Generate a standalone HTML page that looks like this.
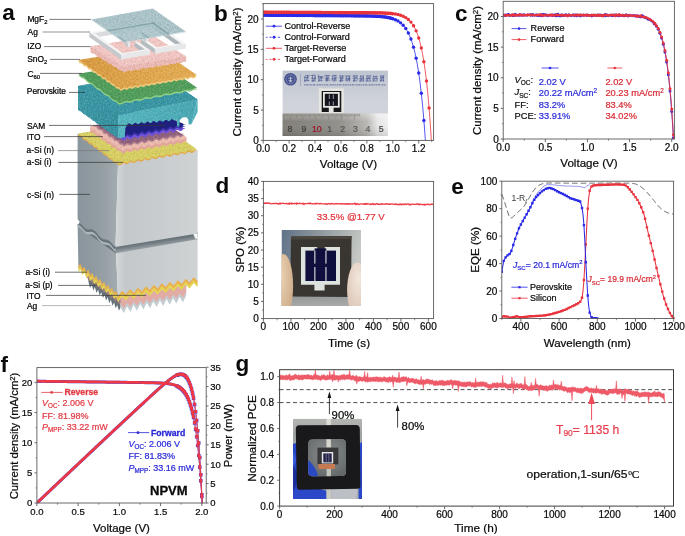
<!DOCTYPE html>
<html><head><meta charset="utf-8"><title>figure</title>
<style>
html,body{margin:0;padding:0;background:#fff;}
svg{display:block;will-change:transform;}
text{font-family:"Liberation Sans",sans-serif;}
.se{font-family:"Liberation Serif",serif;}
</style></head><body>
<svg width="685" height="536" viewBox="0 0 685 536">
<defs>
<filter id="nz" x="0" y="0" width="100%" height="100%" color-interpolation-filters="sRGB"><feTurbulence type="fractalNoise" baseFrequency="0.62" numOctaves="2" seed="3" result="n"/><feColorMatrix in="n" type="matrix" values="0 0 0 0 1  0 0 0 0 1  0 0 0 0 1  0.5 0 0 0 -0.25" result="w"/><feColorMatrix in="n" type="matrix" values="0 0 0 0 0  0 0 0 0 0  0 0 0 0 0  -0.34 0 0 0 0.17" result="b"/><feMerge><feMergeNode in="w"/><feMergeNode in="b"/></feMerge></filter>
<linearGradient id="ga1" gradientUnits="userSpaceOnUse" x1="77" y1="0" x2="118" y2="0"><stop offset="0" stop-color="#89959c"/><stop offset="0.6" stop-color="#949ea3"/><stop offset="1" stop-color="#a3acb0"/></linearGradient>
<linearGradient id="ga2" gradientUnits="userSpaceOnUse" x1="116" y1="0" x2="198" y2="0"><stop offset="0" stop-color="#d3d7d8"/><stop offset="0.12" stop-color="#c3c8ca"/><stop offset="0.55" stop-color="#c9cdcf"/><stop offset="1" stop-color="#cfd3d4"/></linearGradient>
<linearGradient id="ga7" gradientUnits="userSpaceOnUse" x1="116" y1="245.5" x2="117.15" y2="252.8"><stop offset="0" stop-color="#5f6a70"/><stop offset="0.45" stop-color="#727d83"/><stop offset="1" stop-color="#99a2a6"/></linearGradient>
<clipPath id="ct1"><polygon points="78,133.6 78.83,134.92 79.67,135.54 80.5,135.47 81.33,135.41 82.17,136.03 83,137.35 83.83,138.67 84.67,139.29 85.5,139.22 86.33,139.16 87.17,139.78 88,141.1 88.83,142.42 89.67,143.04 90.5,142.97 91.33,142.91 92.17,143.53 93,144.85 93.83,146.17 94.67,146.79 95.5,146.72 96.33,146.66 97.17,147.28 98,148.6 98.83,149.92 99.67,150.54 100.5,150.47 101.33,150.41 102.17,151.03 103,152.35 103.83,153.67 104.67,154.29 105.5,154.22 106.33,154.16 107.17,154.78 108,156.1 108.83,157.42 109.67,158.04 110.5,157.97 111.33,157.91 112.17,158.53 113,159.85 113.83,161.17 114.67,161.79 115.5,161.72 116.33,161.66 117.17,162.28 118,163.6 119.21,164.17 120.41,163.96 121.62,162.97 122.82,161.98 124.03,161.78 125.24,162.35 126.44,162.92 127.65,162.71 128.85,161.72 130.06,160.73 131.27,160.52 132.47,161.09 133.68,161.66 134.88,161.45 136.09,160.46 137.3,159.48 138.5,159.27 139.71,159.84 140.92,160.41 142.12,160.2 143.33,159.21 144.53,158.22 145.74,158.01 146.95,158.58 148.15,159.15 149.36,158.94 150.56,157.95 151.77,156.97 152.98,156.76 154.18,157.33 155.39,157.9 156.59,157.69 157.8,156.7 159.01,155.71 160.21,155.5 161.42,156.07 162.62,156.64 163.83,156.43 165.04,155.45 166.24,154.46 167.45,154.25 168.65,154.82 169.86,155.39 171.07,155.18 172.27,154.19 173.48,153.2 174.68,152.99 175.89,153.56 177.1,154.13 178.3,153.92 179.51,152.94 180.72,151.95 181.92,151.74 183.13,152.31 184.33,152.88 185.54,152.67 186.75,151.68 187.95,150.69 189.16,150.48 190.36,151.05 191.57,151.62 192.78,151.42 193.98,150.43 195.19,149.44 196.39,149.23 197.6,149.8 156,120.5"/></clipPath>
<linearGradient id="ga3" gradientUnits="userSpaceOnUse" x1="90" y1="0" x2="122" y2="0"><stop offset="0" stop-color="#c99aa0"/><stop offset="1" stop-color="#e5aea4"/></linearGradient>
<clipPath id="ct2"><polygon points="90.2,126.4 90.2,128.4 91.07,129.69 91.94,130.29 92.82,130.2 93.69,130.11 94.56,130.71 95.43,132 96.31,133.29 97.18,133.89 98.05,133.8 98.92,133.71 99.79,134.31 100.67,135.6 101.54,136.89 102.41,137.49 103.28,137.4 104.16,137.31 105.03,137.91 105.9,139.2 106.77,140.49 107.64,141.09 108.52,141 109.39,140.91 110.26,141.51 111.13,142.8 112.01,144.09 112.88,144.69 113.75,144.6 114.62,144.51 115.49,145.11 116.37,146.4 117.24,147.69 118.11,148.29 118.98,148.2 119.86,148.11 120.73,148.71 121.6,150 122.8,150.58 124,150.38 125.2,149.4 126.4,148.42 127.6,148.22 128.8,148.8 130,149.38 131.2,149.18 132.4,148.2 133.6,147.22 134.8,147.02 136,147.6 137.2,148.18 138.4,147.98 139.6,147 140.8,146.02 142,145.82 143.2,146.4 144.4,146.98 145.6,146.78 146.8,145.8 148,144.82 149.2,144.62 150.4,145.2 151.6,145.78 152.8,145.58 154,144.6 155.2,143.62 156.4,143.42 157.6,144 158.8,144.58 160,144.38 161.2,143.4 162.4,142.42 163.6,142.22 164.8,142.8 166,143.38 167.2,143.18 168.4,142.2 169.6,141.22 170.8,141.02 172,141.6 173.2,142.18 174.4,141.98 175.6,141 176.8,140.02 178,139.82 179.2,140.4 180.4,140.98 181.6,140.78 182.8,139.8 184,138.82 185.2,138.62 186.4,139.2 186.4,137.2 153,116"/></clipPath>
<clipPath id="ct3"><polygon points="94.2,125.2 95.54,125.49 96.42,125.4 97.29,125.31 98.16,125.91 99.03,127.2 99.91,128.49 100.78,129.09 101.65,129 102.52,128.91 103.39,129.51 104.27,130.8 105.14,132.09 106.01,132.69 106.88,132.6 107.76,132.51 108.63,133.11 109.5,134.4 110.37,135.69 111.24,136.29 112.12,136.2 112.99,136.11 113.86,136.71 114.73,138 115.61,139.29 116.48,139.89 117.35,139.8 118.22,139.71 119.09,140.31 119.97,141.6 120.84,142.89 121.71,143.49 122.58,143.4 123.46,143.31 124.33,143.91 125.2,145.2 122.8,145.18 124,144.98 125.2,144 126.4,143.02 127.6,142.82 128.8,143.4 130,143.98 131.2,143.78 132.4,142.8 133.6,141.82 134.8,141.62 136,142.2 137.2,142.78 138.4,142.58 139.6,141.6 140.8,140.62 142,140.42 143.2,141 144.4,141.58 145.6,141.38 146.8,140.4 148,139.42 149.2,139.22 150.4,139.8 151.6,140.38 152.8,140.18 154,139.2 155.2,138.22 156.4,138.02 157.6,138.6 158.8,139.18 160,138.98 161.2,138 162.4,137.02 163.6,136.82 164.8,137.4 166,137.98 167.2,137.78 168.4,136.8 169.6,135.82 170.8,135.62 172,136.2 173.2,136.78 174.4,136.58 175.6,135.6 176.8,134.62 178,134.42 179.2,135 180.4,135.58 181.6,135.38 182.8,134.4 184,133.42 181.4,134 153,116"/></clipPath>
<clipPath id="csam"><rect x="118.5" y="100" width="81.5" height="60"/></clipPath>
<linearGradient id="ga4" gradientUnits="userSpaceOnUse" x1="78" y1="0" x2="118" y2="0"><stop offset="0" stop-color="#3b98a6"/><stop offset="1" stop-color="#3691a0"/></linearGradient>
<linearGradient id="ga5" gradientUnits="userSpaceOnUse" x1="118" y1="0" x2="198" y2="0"><stop offset="0" stop-color="#55b7c2"/><stop offset="1" stop-color="#48a8b4"/></linearGradient>
<clipPath id="ct4"><polygon points="78,86 118,115 117.6,138 116.87,136.95 116.13,136.42 115.4,136.41 114.67,136.4 113.93,135.87 113.2,134.82 112.47,133.77 111.73,133.24 111,133.23 110.27,133.22 109.53,132.69 108.8,131.64 108.07,130.6 107.33,130.07 106.6,130.06 105.87,130.05 105.13,129.52 104.4,128.47 103.67,127.42 102.93,126.89 102.2,126.88 101.47,126.87 100.73,126.34 100,125.29 99.27,124.24 98.53,123.71 97.8,123.7 97.07,123.69 96.33,123.16 95.6,122.11 94.87,121.06 94.13,120.53 93.4,120.52 92.67,120.51 91.93,119.98 91.2,118.93 90.47,117.88 89.73,117.35 89,117.34 88.27,117.33 87.53,116.8 86.8,115.76 86.07,114.71 85.33,114.18 84.6,114.17 83.87,114.16 83.13,113.63 82.4,112.58 81.67,111.53 80.93,111 80.2,110.99 79.47,110.98 78.73,110.45 78,109.4"/></clipPath>
<clipPath id="ct5"><polygon points="118,115 197.6,99.4 191.4,124.2 188.6,124.6 188.4,119.4 186,117 182,117.8 179.6,120.6 179.4,126.2 177.2,126.4 176.6,119.6 175.58,120.48 174.55,120.58 173.53,119.9 172.51,119.22 171.49,119.32 170.46,120.2 169.44,121.08 168.42,121.18 167.39,120.5 166.37,119.82 165.35,119.92 164.32,120.8 163.3,121.68 162.28,121.78 161.26,121.1 160.23,120.42 159.21,120.52 158.19,121.4 157.16,122.28 156.14,122.38 155.12,121.7 154.1,121.02 153.07,121.12 152.05,122 151.03,122.88 150,122.98 148.98,122.3 147.96,121.62 146.94,121.72 145.91,122.6 144.89,123.48 143.87,123.58 142.84,122.9 141.82,122.22 140.8,122.32 139.78,123.2 138.75,124.08 137.73,124.18 136.71,123.5 135.68,122.82 134.66,122.92 133.64,123.8 132.61,124.68 131.59,124.78 130.57,124.1 129.55,123.42 128.52,123.52 127.5,124.4 125.4,128 124.8,137.4 118,138.2"/></clipPath>
<clipPath id="ct6"><polygon points="78,86 118,115 197.6,99.4 157,72"/></clipPath>
<clipPath id="ct7"><polygon points="78.4,73.8 79.73,75.2 81.07,76.17 82.4,76.7 83.73,77.23 85.07,78.2 86.4,79.6 87.73,81 89.07,81.97 90.4,82.5 91.73,83.03 93.07,84 94.4,85.4 95.73,86.8 97.07,87.77 98.4,88.3 99.73,88.83 101.07,89.8 102.4,91.2 103.73,92.6 105.07,93.57 106.4,94.1 107.73,94.63 109.07,95.6 110.4,97 111.73,98.4 113.07,99.37 114.4,99.9 115.73,100.43 117.07,101.4 118.4,102.8 120.05,103.01 121.7,102.7 123.35,101.88 125,101.05 126.65,100.74 128.3,100.95 129.95,101.16 131.6,100.85 133.25,100.02 134.9,99.2 136.55,98.89 138.2,99.1 139.85,99.31 141.5,99 143.15,98.17 144.8,97.35 146.45,97.04 148.1,97.25 149.75,97.46 151.4,97.15 153.05,96.33 154.7,95.5 156.35,95.19 158,95.4 159.65,95.61 161.3,95.3 162.95,94.47 164.6,93.65 166.25,93.34 167.9,93.55 169.55,93.76 171.2,93.45 172.85,92.62 174.5,91.8 176.15,91.49 177.8,91.7 179.45,91.91 181.1,91.6 182.75,90.78 184.4,89.95 186.05,89.64 187.7,89.85 189.35,90.06 191,89.75 192.65,88.92 194.3,88.1 195.95,87.79 197.6,88 157,60.6"/></clipPath>
<linearGradient id="ga6" gradientUnits="userSpaceOnUse" x1="78" y1="60" x2="160" y2="90"><stop offset="0" stop-color="#d99a40"/><stop offset="1" stop-color="#e3aa50"/></linearGradient>
<clipPath id="ct8"><polygon points="78.4,60 79.17,61.05 79.94,61.58 80.71,61.59 81.48,61.6 82.25,62.13 83.02,63.18 83.79,64.23 84.56,64.76 85.33,64.77 86.1,64.78 86.87,65.31 87.64,66.36 88.41,67.4 89.19,67.93 89.96,67.94 90.73,67.95 91.5,68.48 92.27,69.53 93.04,70.58 93.81,71.11 94.58,71.12 95.35,71.13 96.12,71.66 96.89,72.71 97.66,73.76 98.43,74.29 99.2,74.3 99.97,74.31 100.74,74.84 101.51,75.89 102.28,76.94 103.05,77.47 103.82,77.48 104.59,77.49 105.36,78.02 106.13,79.07 106.9,80.12 107.67,80.65 108.44,80.66 109.21,80.67 109.99,81.2 110.76,82.24 111.53,83.29 112.3,83.82 113.07,83.83 113.84,83.84 114.61,84.37 115.38,85.42 116.15,86.47 116.92,87 117.69,87.01 118.46,87.02 119.23,87.55 120,88.6 120.92,88.96 121.85,88.81 122.77,88.13 123.7,87.45 124.62,87.29 125.54,87.66 126.47,88.02 127.39,87.86 128.31,87.19 129.24,86.51 130.16,86.35 131.09,86.71 132.01,87.08 132.93,86.92 133.86,86.24 134.78,85.57 135.7,85.41 136.63,85.77 137.55,86.13 138.48,85.98 139.4,85.3 140.32,84.62 141.25,84.47 142.17,84.83 143.1,85.19 144.02,85.03 144.94,84.36 145.87,83.68 146.79,83.52 147.71,83.89 148.64,84.25 149.56,84.09 150.49,83.41 151.41,82.74 152.33,82.58 153.26,82.94 154.18,83.31 155.1,83.15 156.03,82.47 156.95,81.79 157.88,81.64 158.8,82 159.72,82.36 160.65,82.21 161.57,81.53 162.5,80.85 163.42,80.69 164.34,81.06 165.27,81.42 166.19,81.26 167.11,80.59 168.04,79.91 168.96,79.75 169.89,80.11 170.81,80.48 171.73,80.32 172.66,79.64 173.58,78.97 174.5,78.81 175.43,79.17 176.35,79.53 177.28,79.38 178.2,78.7 179.12,78.02 180.05,77.87 180.97,78.23 181.9,78.59 182.82,78.43 183.74,77.76 184.67,77.08 185.59,76.92 186.51,77.29 187.44,77.65 188.36,77.49 189.29,76.81 190.21,76.14 191.13,75.98 192.06,76.34 192.98,76.71 193.9,76.55 194.83,75.87 195.75,75.19 196.68,75.04 197.6,75.4 156.4,47"/></clipPath>
<clipPath id="ct9"><polygon points="90.4,46.6 90.4,52 91.31,52.99 92.21,53.54 93.12,53.67 94.02,53.79 94.93,54.34 95.83,55.33 96.74,56.32 97.64,56.88 98.55,57 99.46,57.12 100.36,57.68 101.27,58.67 102.17,59.66 103.08,60.21 103.98,60.33 104.89,60.46 105.79,61.01 106.7,62 107.61,62.99 108.51,63.54 109.42,63.67 110.32,63.79 111.23,64.34 112.13,65.33 113.04,66.32 113.94,66.88 114.85,67 115.76,67.12 116.66,67.68 117.57,68.67 118.47,69.66 119.38,70.21 120.28,70.33 121.19,70.46 122.09,71.01 123,72 124.17,72.24 125.34,72.06 126.51,71.43 127.68,70.81 128.85,70.62 130.02,70.87 131.19,71.11 132.36,70.92 133.53,70.3 134.7,69.68 135.87,69.49 137.04,69.73 138.21,69.98 139.39,69.79 140.56,69.17 141.73,68.54 142.9,68.36 144.07,68.6 145.24,68.84 146.41,68.66 147.58,68.03 148.75,67.41 149.92,67.22 151.09,67.47 152.26,67.71 153.43,67.52 154.6,66.9 155.77,66.28 156.94,66.09 158.11,66.33 159.28,66.58 160.45,66.39 161.62,65.77 162.79,65.14 163.96,64.96 165.13,65.2 166.3,65.44 167.47,65.26 168.64,64.63 169.81,64.01 170.99,63.82 172.16,64.07 173.33,64.31 174.5,64.12 175.67,63.5 176.84,62.88 178.01,62.69 179.18,62.93 180.35,63.18 181.52,62.99 182.69,62.37 183.86,61.74 185.03,61.56 186.2,61.8 186.2,56.4 153.4,36"/></clipPath>
<clipPath id="ct10"><polygon points="90.4,46.6 91.31,47.59 92.21,48.14 93.12,48.27 94.02,48.39 94.93,48.94 95.83,49.93 96.74,50.92 97.64,51.48 98.55,51.6 99.46,51.72 100.36,52.28 101.27,53.27 102.17,54.26 103.08,54.81 103.98,54.93 104.89,55.06 105.79,55.61 106.7,56.6 107.61,57.59 108.51,58.14 109.42,58.27 110.32,58.39 111.23,58.94 112.13,59.93 113.04,60.92 113.94,61.48 114.85,61.6 115.76,61.72 116.66,62.28 117.57,63.27 118.47,64.26 119.38,64.81 120.28,64.93 121.19,65.06 122.09,65.61 123,66.6 124.17,66.84 125.34,66.66 126.51,66.03 127.68,65.41 128.85,65.22 130.02,65.47 131.19,65.71 132.36,65.52 133.53,64.9 134.7,64.28 135.87,64.09 137.04,64.33 138.21,64.58 139.39,64.39 140.56,63.77 141.73,63.14 142.9,62.96 144.07,63.2 145.24,63.44 146.41,63.26 147.58,62.63 148.75,62.01 149.92,61.82 151.09,62.07 152.26,62.31 153.43,62.12 154.6,61.5 155.77,60.88 156.94,60.69 158.11,60.93 159.28,61.18 160.45,60.99 161.62,60.37 162.79,59.74 163.96,59.56 165.13,59.8 166.3,60.04 167.47,59.86 168.64,59.23 169.81,58.61 170.99,58.42 172.16,58.67 173.33,58.91 174.5,58.72 175.67,58.1 176.84,57.48 178.01,57.29 179.18,57.53 180.35,57.78 181.52,57.59 182.69,56.97 183.86,56.34 185.03,56.16 186.2,56.4 153.4,36"/></clipPath>
<clipPath id="ct11"><polygon points="91.4,19.4 124,42 185.8,31.4 152.8,8.4"/></clipPath>
<clipPath id="cmg"><polygon points="91.4,19.4 124,42 185.8,31.4 152.8,8.4"/></clipPath>
<clipPath id="cb"><rect x="263.2" y="3.6" width="171.9" height="137.1"/></clipPath>
<linearGradient id="gb1" x1="0" y1="0" x2="0" y2="1"><stop offset="0" stop-color="#bfc5d0"/><stop offset="0.5" stop-color="#d0d3da"/><stop offset="1" stop-color="#d0d2d6"/></linearGradient>
<linearGradient id="gb2" x1="0" y1="0" x2="1" y2="0"><stop offset="0" stop-color="#827f79"/><stop offset="0.55" stop-color="#93918c"/><stop offset="0.8" stop-color="#b9b8b5"/><stop offset="0.9" stop-color="#e6e6e6"/><stop offset="1" stop-color="#f0f0f0"/></linearGradient>
<linearGradient id="gb3" x1="0" y1="0" x2="0" y2="1"><stop offset="0" stop-color="#fff" stop-opacity="0.35"/><stop offset="0.35" stop-color="#fff" stop-opacity="0"/><stop offset="1" stop-color="#000" stop-opacity="0.12"/></linearGradient>
<clipPath id="cc"><rect x="503.2" y="1.3" width="172.7" height="138"/></clipPath>
<clipPath id="cd"><rect x="281.5" y="230" width="79.5" height="76"/></clipPath>
<linearGradient id="gd1" x1="0" y1="0" x2="1" y2="0.25"><stop offset="0" stop-color="#5f7288"/><stop offset="0.45" stop-color="#8d979c"/><stop offset="1" stop-color="#c6c9c4"/></linearGradient>
<linearGradient id="gd2" x1="0" y1="0" x2="0" y2="1"><stop offset="0" stop-color="#8e9294" stop-opacity="0"/><stop offset="0.75" stop-color="#96999a" stop-opacity="0.9"/><stop offset="1" stop-color="#a9aaa8"/></linearGradient>
<radialGradient id="gd3" cx="0.35" cy="0.35" r="0.8"><stop offset="0" stop-color="#ecd2b4"/><stop offset="1" stop-color="#c9a884"/></radialGradient>
<radialGradient id="gd4" cx="0.55" cy="0.3" r="0.8"><stop offset="0" stop-color="#f2e6dc"/><stop offset="1" stop-color="#d9c0ae"/></radialGradient>
<clipPath id="ce"><rect x="501.8" y="181.2" width="173" height="137.6"/></clipPath>
<clipPath id="cf"><rect x="36.9" y="367.6" width="169.3" height="135.7"/></clipPath>
<clipPath id="cg"><rect x="279.6" y="369.7" width="393.9" height="136.4"/></clipPath>
<clipPath id="cpg"><rect x="293" y="418.7" width="69" height="80.2"/></clipPath>
<linearGradient id="gg1" x1="0" y1="0" x2="0" y2="1"><stop offset="0" stop-color="#b4b6b2"/><stop offset="0.2" stop-color="#9fa3a3"/><stop offset="1" stop-color="#a9aeb4"/></linearGradient>
<radialGradient id="gg2" cx="0.5" cy="0.4" r="0.75"><stop offset="0" stop-color="#8c908f"/><stop offset="1" stop-color="#5e6364"/></radialGradient>
</defs>
<rect width="685" height="536" fill="#fff"/>
<g id="pa">
<text x="2.3" y="19.7" font-size="22.5" fill="#0a0a0a" font-weight="bold">a</text>
<polygon points="88.5,272 120.5,296 120.5,307.5 118.9,310.83 117.3,304.95 115.7,308.28 114.1,302.4 112.5,305.73 110.9,299.85 109.3,303.18 107.7,297.3 106.1,300.62 104.5,294.75 102.9,298.08 101.3,292.2 99.7,295.53 98.1,289.65 96.5,292.98 94.9,287.1 93.3,290.43 91.7,284.55 90.1,287.88 88.5,282" fill="#66727a"/>
<polygon points="120.5,296 186.2,284 186.2,295.5 182.91,302.3 179.63,296.7 176.34,303.5 173.06,297.9 169.77,304.7 166.49,299.1 163.2,305.9 159.92,300.3 156.63,307.1 153.35,301.5 150.06,308.3 146.78,302.7 143.5,309.5 140.21,303.9 136.93,310.7 133.64,305.1 130.35,311.9 127.07,306.3 123.78,313.1 120.5,307.5" fill="#c3ccd1"/>
<polygon points="120.5,296 186.2,284 186.2,292 182.91,297.4 179.63,293.2 176.34,298.6 173.06,294.4 169.77,299.8 166.49,295.6 163.2,301 159.92,296.8 156.63,302.2 153.35,298 150.06,303.4 146.78,299.2 143.5,304.6 140.21,300.4 136.93,305.8 133.64,301.6 130.35,307 127.07,302.8 123.78,308.2 120.5,304" fill="#e2aca4"/>
<polygon points="87,272 120.5,296 120.5,303 118.64,304.56 116.78,300.11 114.92,301.67 113.06,297.22 111.19,298.78 109.33,294.33 107.47,295.89 105.61,291.44 103.75,293 101.89,288.56 100.03,290.11 98.17,285.67 96.31,287.22 94.44,282.78 92.58,284.33 90.72,279.89 88.86,281.44 87,277" fill="#a07f7c"/>
<polygon points="77.6,224 116,252 118,297.5 78.4,267.5" fill="url(#ga1)"/>
<polygon points="116,252 197.6,238.5 197.6,282.5 118,297.5" fill="url(#ga2)"/>
<polygon points="78.4,266 80.38,263.7 82.36,269 84.34,266.7 86.32,272 88.3,269.7 90.28,275 92.26,272.7 94.24,278 96.22,275.7 98.2,281 100.18,278.7 102.16,284 104.14,281.7 106.12,287 108.1,284.7 110.08,290 112.06,287.7 114.04,293 116.02,290.7 118,296 121.98,290.85 125.96,294.5 129.94,289.35 133.92,293 137.9,287.85 141.88,291.5 145.86,286.35 149.84,290 153.82,284.85 157.8,288.5 161.78,283.35 165.76,287 169.74,281.85 173.72,285.5 177.7,280.35 181.68,284 185.66,278.85 189.64,282.5 193.62,277.35 197.6,281 197.6,284.2 193.62,280.55 189.64,285.7 185.66,282.05 181.68,287.2 177.7,283.55 173.72,288.7 169.74,285.05 165.76,290.2 161.78,286.55 157.8,291.7 153.82,288.05 149.84,293.2 145.86,289.55 141.88,294.7 137.9,291.05 133.92,296.2 129.94,292.55 125.96,297.7 121.98,294.05 118,299.2 116.02,293.9 114.04,296.2 112.06,290.9 110.08,293.2 108.1,287.9 106.12,290.2 104.14,284.9 102.16,287.2 100.18,281.9 98.2,284.2 96.22,278.9 94.24,281.2 92.26,275.9 90.28,278.2 88.3,272.9 86.32,275.2 84.34,269.9 82.36,272.2 80.38,266.9 78.4,269.2" fill="#e9b04c"/>
<polygon points="78.4,269 80.38,266.7 82.36,272 84.34,269.7 86.32,275 88.3,272.7 90.28,278 92.26,275.7 94.24,281 96.22,278.7 98.2,284 100.18,281.7 102.16,287 104.14,284.7 106.12,290 108.1,287.7 110.08,293 112.06,290.7 114.04,296 116.02,293.7 118,299 121.98,293.85 125.96,297.5 129.94,292.35 133.92,296 137.9,290.85 141.88,294.5 145.86,289.35 149.84,293 153.82,287.85 157.8,291.5 161.78,286.35 165.76,290 169.74,284.85 173.72,288.5 177.7,283.35 181.68,287 185.66,281.85 189.64,285.5 193.62,280.35 197.6,284 197.6,287 193.62,283.35 189.64,288.5 185.66,284.85 181.68,290 177.7,286.35 173.72,291.5 169.74,287.85 165.76,293 161.78,289.35 157.8,294.5 153.82,290.85 149.84,296 145.86,292.35 141.88,297.5 137.9,293.85 133.92,299 129.94,295.35 125.96,300.5 121.98,296.85 118,302 116.02,296.7 114.04,299 112.06,293.7 110.08,296 108.1,290.7 106.12,293 104.14,287.7 102.16,290 100.18,284.7 98.2,287 96.22,281.7 94.24,284 92.26,278.7 90.28,281 88.3,275.7 86.32,278 84.34,272.7 82.36,275 80.38,269.7 78.4,272" fill="#e4d552"/>
<polygon points="77.6,219 115.5,245 116,253.5 77.6,226" fill="#6a757b"/>
<polygon points="115.5,245 197.6,232 197.6,239.2 116,253.2" fill="url(#ga7)"/>
<polygon points="193.2,234 197.6,233.2 197.6,239 195.2,238.6" fill="#f4f5f5"/>
<polygon points="77.6,222.5 80,224.2 82.5,226.6 84.5,229 86.5,230.3 89,230.4 91.5,230.2 94,231.2 96.5,233.6 98.5,236.4 100.5,238.6 103,240.2 106,240.8 109,241.6 111.5,244 113.5,246.6 115.5,248 115.8,252 113.8,250.6 111.8,248 109.3,245.6 106.3,244.8 103.3,244.2 100.8,242.6 98.8,240.4 96.8,237.6 94.3,235.2 91.8,234.2 89.3,234.4 86.8,234.3 84.8,233 82.8,230.6 80.3,228.2 77.9,226.5" fill="#adb5b9"/>
<polygon points="77.6,221.5 80,223.2 82.5,225.6 84.5,228 86.5,229.3 89,229.4 91.5,229.2 94,230.2 96.5,232.6 98.5,235.4 100.5,237.6 103,239.2 106,239.8 109,240.6 111.5,243 113.5,245.6 115.5,247 115.5,249.6 113.5,248.2 111.5,245.6 109,243.2 106,242.4 103,241.8 100.5,240.2 98.5,238 96.5,235.2 94,232.8 91.5,231.8 89,232 86.5,231.9 84.5,230.6 82.5,228.2 80,225.8 77.6,224.1" fill="#67727a"/>
<polygon points="77.6,133.8 118,164.2 115.5,247 113.5,245.6 111.5,243 109,240.6 106,239.8 103,239.2 100.5,237.6 98.5,235.4 96.5,232.6 94,230.2 91.5,229.2 89,229.4 86.5,229.3 84.5,228 82.5,225.6 80,223.2 77.6,221.5" fill="url(#ga1)"/>
<polygon points="118,164.2 197.6,150 197.6,233.6 115.5,247" fill="url(#ga2)"/>
<path d="M77.6 221.5 L80 223.2 L82.5 225.6 L84.5 228 L86.5 229.3 L89 229.4 L91.5 229.2 L94 230.2 L96.5 232.6 L98.5 235.4 L100.5 237.6 L103 239.2 L106 239.8 L109 240.6 L111.5 243 L113.5 245.6 L115.5 247" fill="none" stroke="#7a858b" stroke-width="0.7"/>
<polygon points="77,218.6 79.6,221.8 79,223.4 77,224.8" fill="#ffffff"/>
<polygon points="78,135 78.83,136.32 79.67,136.94 80.5,136.88 81.33,136.81 82.17,137.43 83,138.75 83.83,140.07 84.67,140.69 85.5,140.62 86.33,140.56 87.17,141.18 88,142.5 88.83,143.82 89.67,144.44 90.5,144.38 91.33,144.31 92.17,144.93 93,146.25 93.83,147.57 94.67,148.19 95.5,148.12 96.33,148.06 97.17,148.68 98,150 98.83,151.32 99.67,151.94 100.5,151.88 101.33,151.81 102.17,152.43 103,153.75 103.83,155.07 104.67,155.69 105.5,155.62 106.33,155.56 107.17,156.18 108,157.5 108.83,158.82 109.67,159.44 110.5,159.38 111.33,159.31 112.17,159.93 113,161.25 113.83,162.57 114.67,163.19 115.5,163.12 116.33,163.06 117.17,163.68 118,165 119.21,165.57 120.41,165.36 121.62,164.37 122.82,163.38 124.03,163.18 125.24,163.75 126.44,164.32 127.65,164.11 128.85,163.12 130.06,162.13 131.27,161.92 132.47,162.49 133.68,163.06 134.88,162.85 136.09,161.86 137.3,160.88 138.5,160.67 139.71,161.24 140.92,161.81 142.12,161.6 143.33,160.61 144.53,159.62 145.74,159.41 146.95,159.98 148.15,160.55 149.36,160.34 150.56,159.35 151.77,158.37 152.98,158.16 154.18,158.73 155.39,159.3 156.59,159.09 157.8,158.1 159.01,157.11 160.21,156.9 161.42,157.47 162.62,158.04 163.83,157.83 165.04,156.85 166.24,155.86 167.45,155.65 168.65,156.22 169.86,156.79 171.07,156.58 172.27,155.59 173.48,154.6 174.68,154.39 175.89,154.96 177.1,155.53 178.3,155.32 179.51,154.34 180.72,153.35 181.92,153.14 183.13,153.71 184.33,154.28 185.54,154.07 186.75,153.08 187.95,152.09 189.16,151.88 190.36,152.45 191.57,153.02 192.78,152.82 193.98,151.83 195.19,150.84 196.39,150.63 197.6,151.2 156,120.5" fill="#e2a648"/>
<polygon points="78,133.6 78.83,134.92 79.67,135.54 80.5,135.47 81.33,135.41 82.17,136.03 83,137.35 83.83,138.67 84.67,139.29 85.5,139.22 86.33,139.16 87.17,139.78 88,141.1 88.83,142.42 89.67,143.04 90.5,142.97 91.33,142.91 92.17,143.53 93,144.85 93.83,146.17 94.67,146.79 95.5,146.72 96.33,146.66 97.17,147.28 98,148.6 98.83,149.92 99.67,150.54 100.5,150.47 101.33,150.41 102.17,151.03 103,152.35 103.83,153.67 104.67,154.29 105.5,154.22 106.33,154.16 107.17,154.78 108,156.1 108.83,157.42 109.67,158.04 110.5,157.97 111.33,157.91 112.17,158.53 113,159.85 113.83,161.17 114.67,161.79 115.5,161.72 116.33,161.66 117.17,162.28 118,163.6 119.21,164.17 120.41,163.96 121.62,162.97 122.82,161.98 124.03,161.78 125.24,162.35 126.44,162.92 127.65,162.71 128.85,161.72 130.06,160.73 131.27,160.52 132.47,161.09 133.68,161.66 134.88,161.45 136.09,160.46 137.3,159.48 138.5,159.27 139.71,159.84 140.92,160.41 142.12,160.2 143.33,159.21 144.53,158.22 145.74,158.01 146.95,158.58 148.15,159.15 149.36,158.94 150.56,157.95 151.77,156.97 152.98,156.76 154.18,157.33 155.39,157.9 156.59,157.69 157.8,156.7 159.01,155.71 160.21,155.5 161.42,156.07 162.62,156.64 163.83,156.43 165.04,155.45 166.24,154.46 167.45,154.25 168.65,154.82 169.86,155.39 171.07,155.18 172.27,154.19 173.48,153.2 174.68,152.99 175.89,153.56 177.1,154.13 178.3,153.92 179.51,152.94 180.72,151.95 181.92,151.74 183.13,152.31 184.33,152.88 185.54,152.67 186.75,151.68 187.95,150.69 189.16,150.48 190.36,151.05 191.57,151.62 192.78,151.42 193.98,150.43 195.19,149.44 196.39,149.23 197.6,149.8 156,120.5" fill="#d9d062"/>
<g clip-path="url(#ct1)"><rect x="77" y="119.5" width="121.6" height="45.67" filter="url(#nz)"/></g>
<polygon points="90.2,126.4 90.2,131.2 91.07,132.49 91.94,133.09 92.82,133 93.69,132.91 94.56,133.51 95.43,134.8 96.31,136.09 97.18,136.69 98.05,136.6 98.92,136.51 99.79,137.11 100.67,138.4 101.54,139.69 102.41,140.29 103.28,140.2 104.16,140.11 105.03,140.71 105.9,142 106.77,143.29 107.64,143.89 108.52,143.8 109.39,143.71 110.26,144.31 111.13,145.6 112.01,146.89 112.88,147.49 113.75,147.4 114.62,147.31 115.49,147.91 116.37,149.2 117.24,150.49 118.11,151.09 118.98,151 119.86,150.91 120.73,151.51 121.6,152.8 122.8,153.38 124,153.18 125.2,152.2 126.4,151.22 127.6,151.02 128.8,151.6 130,152.18 131.2,151.98 132.4,151 133.6,150.02 134.8,149.82 136,150.4 137.2,150.98 138.4,150.78 139.6,149.8 140.8,148.82 142,148.62 143.2,149.2 144.4,149.78 145.6,149.58 146.8,148.6 148,147.62 149.2,147.42 150.4,148 151.6,148.58 152.8,148.38 154,147.4 155.2,146.42 156.4,146.22 157.6,146.8 158.8,147.38 160,147.18 161.2,146.2 162.4,145.22 163.6,145.02 164.8,145.6 166,146.18 167.2,145.98 168.4,145 169.6,144.02 170.8,143.82 172,144.4 173.2,144.98 174.4,144.78 175.6,143.8 176.8,142.82 178,142.62 179.2,143.2 180.4,143.78 181.6,143.58 182.8,142.6 184,141.62 185.2,141.42 186.4,142 186.4,137.2 153,116" fill="#e3a69c"/>
<polygon points="90.2,126.4 90.2,128.4 91.07,129.69 91.94,130.29 92.82,130.2 93.69,130.11 94.56,130.71 95.43,132 96.31,133.29 97.18,133.89 98.05,133.8 98.92,133.71 99.79,134.31 100.67,135.6 101.54,136.89 102.41,137.49 103.28,137.4 104.16,137.31 105.03,137.91 105.9,139.2 106.77,140.49 107.64,141.09 108.52,141 109.39,140.91 110.26,141.51 111.13,142.8 112.01,144.09 112.88,144.69 113.75,144.6 114.62,144.51 115.49,145.11 116.37,146.4 117.24,147.69 118.11,148.29 118.98,148.2 119.86,148.11 120.73,148.71 121.6,150 122.8,150.58 124,150.38 125.2,149.4 126.4,148.42 127.6,148.22 128.8,148.8 130,149.38 131.2,149.18 132.4,148.2 133.6,147.22 134.8,147.02 136,147.6 137.2,148.18 138.4,147.98 139.6,147 140.8,146.02 142,145.82 143.2,146.4 144.4,146.98 145.6,146.78 146.8,145.8 148,144.82 149.2,144.62 150.4,145.2 151.6,145.78 152.8,145.58 154,144.6 155.2,143.62 156.4,143.42 157.6,144 158.8,144.58 160,144.38 161.2,143.4 162.4,142.42 163.6,142.22 164.8,142.8 166,143.38 167.2,143.18 168.4,142.2 169.6,141.22 170.8,141.02 172,141.6 173.2,142.18 174.4,141.98 175.6,141 176.8,140.02 178,139.82 179.2,140.4 180.4,140.98 181.6,140.78 182.8,139.8 184,138.82 185.2,138.62 186.4,139.2 186.4,137.2 153,116" fill="#eebbb0"/>
<g clip-path="url(#ct2)"><rect x="89.2" y="115" width="98.2" height="36.58" filter="url(#nz)"/></g>
<polygon points="92.2,125.8 93.07,126.09 93.94,126.69 94.82,126.6 95.69,126.51 96.56,127.11 97.43,128.4 98.31,129.69 99.18,130.29 100.05,130.2 100.92,130.11 101.79,130.71 102.67,132 103.54,133.29 104.41,133.89 105.28,133.8 106.16,133.71 107.03,134.31 107.9,135.6 108.77,136.89 109.64,137.49 110.52,137.4 111.39,137.31 112.26,137.91 113.13,139.2 114.01,140.49 114.88,141.09 115.75,141 116.62,140.91 117.49,141.51 118.37,142.8 119.24,144.09 120.11,144.69 120.98,144.6 121.86,144.51 122.73,145.11 123.6,146.4 122.8,146.78 124,146.58 125.2,145.6 126.4,144.62 127.6,144.42 128.8,145 130,145.58 131.2,145.38 132.4,144.4 133.6,143.42 134.8,143.22 136,143.8 137.2,144.38 138.4,144.18 139.6,143.2 140.8,142.22 142,142.02 143.2,142.6 144.4,143.18 145.6,142.98 146.8,142 148,141.02 149.2,140.82 150.4,141.4 151.6,141.98 152.8,141.78 154,140.8 155.2,139.82 156.4,139.62 157.6,140.2 158.8,140.78 160,140.58 161.2,139.6 162.4,138.62 163.6,138.42 164.8,139 166,139.58 167.2,139.38 168.4,138.4 169.6,137.42 170.8,137.22 172,137.8 173.2,138.38 174.4,138.18 175.6,137.2 176.8,136.22 178,136.02 179.2,136.6 180.4,137.18 181.6,136.98 182.8,136 184,135.02 185.2,134.82 183.9,135.6 153,116" fill="#b07f8e"/>
<polygon points="94.2,125.2 95.54,125.49 96.42,125.4 97.29,125.31 98.16,125.91 99.03,127.2 99.91,128.49 100.78,129.09 101.65,129 102.52,128.91 103.39,129.51 104.27,130.8 105.14,132.09 106.01,132.69 106.88,132.6 107.76,132.51 108.63,133.11 109.5,134.4 110.37,135.69 111.24,136.29 112.12,136.2 112.99,136.11 113.86,136.71 114.73,138 115.61,139.29 116.48,139.89 117.35,139.8 118.22,139.71 119.09,140.31 119.97,141.6 120.84,142.89 121.71,143.49 122.58,143.4 123.46,143.31 124.33,143.91 125.2,145.2 122.8,145.18 124,144.98 125.2,144 126.4,143.02 127.6,142.82 128.8,143.4 130,143.98 131.2,143.78 132.4,142.8 133.6,141.82 134.8,141.62 136,142.2 137.2,142.78 138.4,142.58 139.6,141.6 140.8,140.62 142,140.42 143.2,141 144.4,141.58 145.6,141.38 146.8,140.4 148,139.42 149.2,139.22 150.4,139.8 151.6,140.38 152.8,140.18 154,139.2 155.2,138.22 156.4,138.02 157.6,138.6 158.8,139.18 160,138.98 161.2,138 162.4,137.02 163.6,136.82 164.8,137.4 166,137.98 167.2,137.78 168.4,136.8 169.6,135.82 170.8,135.62 172,136.2 173.2,136.78 174.4,136.58 175.6,135.6 176.8,134.62 178,134.42 179.2,135 180.4,135.58 181.6,135.38 182.8,134.4 184,133.42 181.4,134 153,116" fill="#8f607c"/>
<g clip-path="url(#ct3)"><rect x="93.2" y="115" width="91.8" height="31.2" filter="url(#nz)"/></g>
<polygon points="92,121 92.83,122.22 93.67,122.75 94.5,122.58 95.33,122.42 96.17,122.95 97,124.17 97.83,125.39 98.67,125.92 99.5,125.75 100.33,125.58 101.17,126.11 102,127.33 102.83,128.55 103.67,129.08 104.5,128.92 105.33,128.75 106.17,129.28 107,130.5 107.83,131.72 108.67,132.25 109.5,132.08 110.33,131.92 111.17,132.45 112,133.67 112.83,134.89 113.67,135.42 114.5,135.25 115.33,135.08 116.17,135.61 117,136.83 117.83,138.05 118.67,138.58 119.5,138.42 120.33,138.25 121.17,138.78 122,140 123.19,140.67 124.37,140.47 125.56,139.41 126.74,138.35 127.93,138.15 129.11,138.82 130.3,139.49 131.48,139.3 132.67,138.23 133.85,137.17 135.04,136.97 136.22,137.64 137.41,138.31 138.59,138.12 139.78,137.06 140.96,135.99 142.15,135.8 143.33,136.47 144.52,137.14 145.7,136.94 146.89,135.88 148.07,134.82 149.26,134.62 150.44,135.29 151.63,135.96 152.81,135.76 154,134.7 155.19,133.64 156.37,133.44 157.56,134.11 158.74,134.78 159.93,134.58 161.11,133.52 162.3,132.46 163.48,132.26 164.67,132.93 165.85,133.6 167.04,133.41 168.22,132.34 169.41,131.28 170.59,131.09 171.78,131.76 172.96,132.43 174.15,132.23 175.33,131.17 176.52,130.1 177.7,129.91 178.89,130.58 180.07,131.25 181.26,131.05 182.44,129.99 183.63,128.93 184.81,128.73 186,129.4 153,110" fill="#7253dc" clip-path="url(#csam)"/>
<polygon points="92,118.6 92.83,119.82 93.67,120.35 94.5,120.18 95.33,120.02 96.17,120.55 97,121.77 97.83,122.99 98.67,123.52 99.5,123.35 100.33,123.18 101.17,123.71 102,124.93 102.83,126.15 103.67,126.68 104.5,126.52 105.33,126.35 106.17,126.88 107,128.1 107.83,129.32 108.67,129.85 109.5,129.68 110.33,129.52 111.17,130.05 112,131.27 112.83,132.49 113.67,133.02 114.5,132.85 115.33,132.68 116.17,133.21 117,134.43 117.83,135.65 118.67,136.18 119.5,136.02 120.33,135.85 121.17,136.38 122,137.6 123.19,138.27 124.37,138.07 125.56,137.01 126.74,135.95 127.93,135.75 129.11,136.42 130.3,137.09 131.48,136.9 132.67,135.83 133.85,134.77 135.04,134.57 136.22,135.24 137.41,135.91 138.59,135.72 139.78,134.66 140.96,133.59 142.15,133.4 143.33,134.07 144.52,134.74 145.7,134.54 146.89,133.48 148.07,132.42 149.26,132.22 150.44,132.89 151.63,133.56 152.81,133.36 154,132.3 155.19,131.24 156.37,131.04 157.56,131.71 158.74,132.38 159.93,132.18 161.11,131.12 162.3,130.06 163.48,129.86 164.67,130.53 165.85,131.2 167.04,131.01 168.22,129.94 169.41,128.88 170.59,128.69 171.78,129.36 172.96,130.03 174.15,129.83 175.33,128.77 176.52,127.7 177.7,127.51 178.89,128.18 180.07,128.85 181.26,128.65 182.44,127.59 183.63,126.53 184.81,126.33 186,127 153,110" fill="#3a32a8" clip-path="url(#csam)"/>
<polygon points="92,116.6 92.83,117.82 93.67,118.35 94.5,118.18 95.33,118.02 96.17,118.55 97,119.77 97.83,120.99 98.67,121.52 99.5,121.35 100.33,121.18 101.17,121.71 102,122.93 102.83,124.15 103.67,124.68 104.5,124.52 105.33,124.35 106.17,124.88 107,126.1 107.83,127.32 108.67,127.85 109.5,127.68 110.33,127.52 111.17,128.05 112,129.27 112.83,130.49 113.67,131.02 114.5,130.85 115.33,130.68 116.17,131.21 117,132.43 117.83,133.65 118.67,134.18 119.5,134.02 120.33,133.85 121.17,134.38 122,135.6 123.19,136.27 124.37,136.07 125.56,135.01 126.74,133.95 127.93,133.75 129.11,134.42 130.3,135.09 131.48,134.9 132.67,133.83 133.85,132.77 135.04,132.57 136.22,133.24 137.41,133.91 138.59,133.72 139.78,132.66 140.96,131.59 142.15,131.4 143.33,132.07 144.52,132.74 145.7,132.54 146.89,131.48 148.07,130.42 149.26,130.22 150.44,130.89 151.63,131.56 152.81,131.36 154,130.3 155.19,129.24 156.37,129.04 157.56,129.71 158.74,130.38 159.93,130.18 161.11,129.12 162.3,128.06 163.48,127.86 164.67,128.53 165.85,129.2 167.04,129.01 168.22,127.94 169.41,126.88 170.59,126.69 171.78,127.36 172.96,128.03 174.15,127.83 175.33,126.77 176.52,125.7 177.7,125.51 178.89,126.18 180.07,126.85 181.26,126.65 182.44,125.59 183.63,124.53 184.81,124.33 186,125 153,110" fill="#1f1f7e" clip-path="url(#csam)"/>
<polygon points="78,86 78,109.4 117.6,138 118,115 197.6,99.4 157,72" fill="#3a97a5"/>
<polygon points="78,86 118,115 117.6,138 116.87,136.95 116.13,136.42 115.4,136.41 114.67,136.4 113.93,135.87 113.2,134.82 112.47,133.77 111.73,133.24 111,133.23 110.27,133.22 109.53,132.69 108.8,131.64 108.07,130.6 107.33,130.07 106.6,130.06 105.87,130.05 105.13,129.52 104.4,128.47 103.67,127.42 102.93,126.89 102.2,126.88 101.47,126.87 100.73,126.34 100,125.29 99.27,124.24 98.53,123.71 97.8,123.7 97.07,123.69 96.33,123.16 95.6,122.11 94.87,121.06 94.13,120.53 93.4,120.52 92.67,120.51 91.93,119.98 91.2,118.93 90.47,117.88 89.73,117.35 89,117.34 88.27,117.33 87.53,116.8 86.8,115.76 86.07,114.71 85.33,114.18 84.6,114.17 83.87,114.16 83.13,113.63 82.4,112.58 81.67,111.53 80.93,111 80.2,110.99 79.47,110.98 78.73,110.45 78,109.4" fill="url(#ga4)"/>
<g clip-path="url(#ct4)"><rect x="77" y="85" width="42" height="54" filter="url(#nz)"/></g>
<polygon points="118,115 197.6,99.4 191.4,124.2 188.6,124.6 188.4,119.4 186,117 182,117.8 179.6,120.6 179.4,126.2 177.2,126.4 176.6,119.6 175.58,120.48 174.55,120.58 173.53,119.9 172.51,119.22 171.49,119.32 170.46,120.2 169.44,121.08 168.42,121.18 167.39,120.5 166.37,119.82 165.35,119.92 164.32,120.8 163.3,121.68 162.28,121.78 161.26,121.1 160.23,120.42 159.21,120.52 158.19,121.4 157.16,122.28 156.14,122.38 155.12,121.7 154.1,121.02 153.07,121.12 152.05,122 151.03,122.88 150,122.98 148.98,122.3 147.96,121.62 146.94,121.72 145.91,122.6 144.89,123.48 143.87,123.58 142.84,122.9 141.82,122.22 140.8,122.32 139.78,123.2 138.75,124.08 137.73,124.18 136.71,123.5 135.68,122.82 134.66,122.92 133.64,123.8 132.61,124.68 131.59,124.78 130.57,124.1 129.55,123.42 128.52,123.52 127.5,124.4 125.4,128 124.8,137.4 118,138.2" fill="url(#ga5)"/>
<g clip-path="url(#ct5)"><rect x="117" y="98.4" width="81.6" height="40.8" filter="url(#nz)"/></g>
<polygon points="197.6,99.4 197.6,112 191.4,124.2" fill="#4dafba"/>
<polygon points="78,86 118,115 197.6,99.4 157,72" fill="#3896a4"/>
<g clip-path="url(#ct6)"><rect x="77" y="71" width="121.6" height="45" filter="url(#nz)"/></g>
<polygon points="78.4,75.4 79.73,76.8 81.07,77.77 82.4,78.3 83.73,78.83 85.07,79.8 86.4,81.2 87.73,82.6 89.07,83.57 90.4,84.1 91.73,84.63 93.07,85.6 94.4,87 95.73,88.4 97.07,89.37 98.4,89.9 99.73,90.43 101.07,91.4 102.4,92.8 103.73,94.2 105.07,95.17 106.4,95.7 107.73,96.23 109.07,97.2 110.4,98.6 111.73,100 113.07,100.97 114.4,101.5 115.73,102.03 117.07,103 118.4,104.4 120.05,104.61 121.7,104.3 123.35,103.47 125,102.65 126.65,102.34 128.3,102.55 129.95,102.76 131.6,102.45 133.25,101.62 134.9,100.8 136.55,100.49 138.2,100.7 139.85,100.91 141.5,100.6 143.15,99.77 144.8,98.95 146.45,98.64 148.1,98.85 149.75,99.06 151.4,98.75 153.05,97.92 154.7,97.1 156.35,96.79 158,97 159.65,97.21 161.3,96.9 162.95,96.07 164.6,95.25 166.25,94.94 167.9,95.15 169.55,95.36 171.2,95.05 172.85,94.22 174.5,93.4 176.15,93.09 177.8,93.3 179.45,93.51 181.1,93.2 182.75,92.38 184.4,91.55 186.05,91.24 187.7,91.45 189.35,91.66 191,91.35 192.65,90.52 194.3,89.7 195.95,89.39 197.6,89.6 157,60.6" fill="#8fcf86"/>
<polygon points="78.4,73.8 79.73,75.2 81.07,76.17 82.4,76.7 83.73,77.23 85.07,78.2 86.4,79.6 87.73,81 89.07,81.97 90.4,82.5 91.73,83.03 93.07,84 94.4,85.4 95.73,86.8 97.07,87.77 98.4,88.3 99.73,88.83 101.07,89.8 102.4,91.2 103.73,92.6 105.07,93.57 106.4,94.1 107.73,94.63 109.07,95.6 110.4,97 111.73,98.4 113.07,99.37 114.4,99.9 115.73,100.43 117.07,101.4 118.4,102.8 120.05,103.01 121.7,102.7 123.35,101.88 125,101.05 126.65,100.74 128.3,100.95 129.95,101.16 131.6,100.85 133.25,100.02 134.9,99.2 136.55,98.89 138.2,99.1 139.85,99.31 141.5,99 143.15,98.17 144.8,97.35 146.45,97.04 148.1,97.25 149.75,97.46 151.4,97.15 153.05,96.33 154.7,95.5 156.35,95.19 158,95.4 159.65,95.61 161.3,95.3 162.95,94.47 164.6,93.65 166.25,93.34 167.9,93.55 169.55,93.76 171.2,93.45 172.85,92.62 174.5,91.8 176.15,91.49 177.8,91.7 179.45,91.91 181.1,91.6 182.75,90.78 184.4,89.95 186.05,89.64 187.7,89.85 189.35,90.06 191,89.75 192.65,88.92 194.3,88.1 195.95,87.79 197.6,88 157,60.6" fill="#519e5a"/>
<g clip-path="url(#ct7)"><rect x="77.4" y="59.6" width="121.2" height="44.41" filter="url(#nz)"/></g>
<polygon points="78.4,61.8 79.17,62.85 79.94,63.38 80.71,63.39 81.48,63.4 82.25,63.93 83.02,64.98 83.79,66.03 84.56,66.56 85.33,66.57 86.1,66.58 86.87,67.11 87.64,68.16 88.41,69.2 89.19,69.73 89.96,69.74 90.73,69.75 91.5,70.28 92.27,71.33 93.04,72.38 93.81,72.91 94.58,72.92 95.35,72.93 96.12,73.46 96.89,74.51 97.66,75.56 98.43,76.09 99.2,76.1 99.97,76.11 100.74,76.64 101.51,77.69 102.28,78.74 103.05,79.27 103.82,79.28 104.59,79.29 105.36,79.82 106.13,80.87 106.9,81.92 107.67,82.45 108.44,82.46 109.21,82.47 109.99,83 110.76,84.04 111.53,85.09 112.3,85.62 113.07,85.63 113.84,85.64 114.61,86.17 115.38,87.22 116.15,88.27 116.92,88.8 117.69,88.81 118.46,88.82 119.23,89.35 120,90.4 120.92,90.76 121.85,90.61 122.77,89.93 123.7,89.25 124.62,89.09 125.54,89.46 126.47,89.82 127.39,89.66 128.31,88.99 129.24,88.31 130.16,88.15 131.09,88.51 132.01,88.88 132.93,88.72 133.86,88.04 134.78,87.37 135.7,87.21 136.63,87.57 137.55,87.93 138.48,87.78 139.4,87.1 140.32,86.42 141.25,86.27 142.17,86.63 143.1,86.99 144.02,86.83 144.94,86.16 145.87,85.48 146.79,85.32 147.71,85.69 148.64,86.05 149.56,85.89 150.49,85.21 151.41,84.54 152.33,84.38 153.26,84.74 154.18,85.11 155.1,84.95 156.03,84.27 156.95,83.59 157.88,83.44 158.8,83.8 159.72,84.16 160.65,84.01 161.57,83.33 162.5,82.65 163.42,82.49 164.34,82.86 165.27,83.22 166.19,83.06 167.11,82.39 168.04,81.71 168.96,81.55 169.89,81.91 170.81,82.28 171.73,82.12 172.66,81.44 173.58,80.77 174.5,80.61 175.43,80.97 176.35,81.33 177.28,81.18 178.2,80.5 179.12,79.82 180.05,79.67 180.97,80.03 181.9,80.39 182.82,80.23 183.74,79.56 184.67,78.88 185.59,78.72 186.51,79.09 187.44,79.45 188.36,79.29 189.29,78.61 190.21,77.94 191.13,77.78 192.06,78.14 192.98,78.51 193.9,78.35 194.83,77.67 195.75,76.99 196.68,76.84 197.6,77.2 156.4,47" fill="#efc87a"/>
<polygon points="78.4,60 79.17,61.05 79.94,61.58 80.71,61.59 81.48,61.6 82.25,62.13 83.02,63.18 83.79,64.23 84.56,64.76 85.33,64.77 86.1,64.78 86.87,65.31 87.64,66.36 88.41,67.4 89.19,67.93 89.96,67.94 90.73,67.95 91.5,68.48 92.27,69.53 93.04,70.58 93.81,71.11 94.58,71.12 95.35,71.13 96.12,71.66 96.89,72.71 97.66,73.76 98.43,74.29 99.2,74.3 99.97,74.31 100.74,74.84 101.51,75.89 102.28,76.94 103.05,77.47 103.82,77.48 104.59,77.49 105.36,78.02 106.13,79.07 106.9,80.12 107.67,80.65 108.44,80.66 109.21,80.67 109.99,81.2 110.76,82.24 111.53,83.29 112.3,83.82 113.07,83.83 113.84,83.84 114.61,84.37 115.38,85.42 116.15,86.47 116.92,87 117.69,87.01 118.46,87.02 119.23,87.55 120,88.6 120.92,88.96 121.85,88.81 122.77,88.13 123.7,87.45 124.62,87.29 125.54,87.66 126.47,88.02 127.39,87.86 128.31,87.19 129.24,86.51 130.16,86.35 131.09,86.71 132.01,87.08 132.93,86.92 133.86,86.24 134.78,85.57 135.7,85.41 136.63,85.77 137.55,86.13 138.48,85.98 139.4,85.3 140.32,84.62 141.25,84.47 142.17,84.83 143.1,85.19 144.02,85.03 144.94,84.36 145.87,83.68 146.79,83.52 147.71,83.89 148.64,84.25 149.56,84.09 150.49,83.41 151.41,82.74 152.33,82.58 153.26,82.94 154.18,83.31 155.1,83.15 156.03,82.47 156.95,81.79 157.88,81.64 158.8,82 159.72,82.36 160.65,82.21 161.57,81.53 162.5,80.85 163.42,80.69 164.34,81.06 165.27,81.42 166.19,81.26 167.11,80.59 168.04,79.91 168.96,79.75 169.89,80.11 170.81,80.48 171.73,80.32 172.66,79.64 173.58,78.97 174.5,78.81 175.43,79.17 176.35,79.53 177.28,79.38 178.2,78.7 179.12,78.02 180.05,77.87 180.97,78.23 181.9,78.59 182.82,78.43 183.74,77.76 184.67,77.08 185.59,76.92 186.51,77.29 187.44,77.65 188.36,77.49 189.29,76.81 190.21,76.14 191.13,75.98 192.06,76.34 192.98,76.71 193.9,76.55 194.83,75.87 195.75,75.19 196.68,75.04 197.6,75.4 156.4,47" fill="url(#ga6)"/>
<g clip-path="url(#ct8)"><rect x="77.4" y="46" width="121.2" height="43.96" filter="url(#nz)"/></g>
<polygon points="90.4,46.6 90.4,52 91.31,52.99 92.21,53.54 93.12,53.67 94.02,53.79 94.93,54.34 95.83,55.33 96.74,56.32 97.64,56.88 98.55,57 99.46,57.12 100.36,57.68 101.27,58.67 102.17,59.66 103.08,60.21 103.98,60.33 104.89,60.46 105.79,61.01 106.7,62 107.61,62.99 108.51,63.54 109.42,63.67 110.32,63.79 111.23,64.34 112.13,65.33 113.04,66.32 113.94,66.88 114.85,67 115.76,67.12 116.66,67.68 117.57,68.67 118.47,69.66 119.38,70.21 120.28,70.33 121.19,70.46 122.09,71.01 123,72 124.17,72.24 125.34,72.06 126.51,71.43 127.68,70.81 128.85,70.62 130.02,70.87 131.19,71.11 132.36,70.92 133.53,70.3 134.7,69.68 135.87,69.49 137.04,69.73 138.21,69.98 139.39,69.79 140.56,69.17 141.73,68.54 142.9,68.36 144.07,68.6 145.24,68.84 146.41,68.66 147.58,68.03 148.75,67.41 149.92,67.22 151.09,67.47 152.26,67.71 153.43,67.52 154.6,66.9 155.77,66.28 156.94,66.09 158.11,66.33 159.28,66.58 160.45,66.39 161.62,65.77 162.79,65.14 163.96,64.96 165.13,65.2 166.3,65.44 167.47,65.26 168.64,64.63 169.81,64.01 170.99,63.82 172.16,64.07 173.33,64.31 174.5,64.12 175.67,63.5 176.84,62.88 178.01,62.69 179.18,62.93 180.35,63.18 181.52,62.99 182.69,62.37 183.86,61.74 185.03,61.56 186.2,61.8 186.2,56.4 153.4,36" fill="#ecbab5"/>
<g clip-path="url(#ct9)"><rect x="89.4" y="35" width="97.8" height="38.24" filter="url(#nz)"/></g>
<polygon points="90.4,46.6 91.31,47.59 92.21,48.14 93.12,48.27 94.02,48.39 94.93,48.94 95.83,49.93 96.74,50.92 97.64,51.48 98.55,51.6 99.46,51.72 100.36,52.28 101.27,53.27 102.17,54.26 103.08,54.81 103.98,54.93 104.89,55.06 105.79,55.61 106.7,56.6 107.61,57.59 108.51,58.14 109.42,58.27 110.32,58.39 111.23,58.94 112.13,59.93 113.04,60.92 113.94,61.48 114.85,61.6 115.76,61.72 116.66,62.28 117.57,63.27 118.47,64.26 119.38,64.81 120.28,64.93 121.19,65.06 122.09,65.61 123,66.6 124.17,66.84 125.34,66.66 126.51,66.03 127.68,65.41 128.85,65.22 130.02,65.47 131.19,65.71 132.36,65.52 133.53,64.9 134.7,64.28 135.87,64.09 137.04,64.33 138.21,64.58 139.39,64.39 140.56,63.77 141.73,63.14 142.9,62.96 144.07,63.2 145.24,63.44 146.41,63.26 147.58,62.63 148.75,62.01 149.92,61.82 151.09,62.07 152.26,62.31 153.43,62.12 154.6,61.5 155.77,60.88 156.94,60.69 158.11,60.93 159.28,61.18 160.45,60.99 161.62,60.37 162.79,59.74 163.96,59.56 165.13,59.8 166.3,60.04 167.47,59.86 168.64,59.23 169.81,58.61 170.99,58.42 172.16,58.67 173.33,58.91 174.5,58.72 175.67,58.1 176.84,57.48 178.01,57.29 179.18,57.53 180.35,57.78 181.52,57.59 182.69,56.97 183.86,56.34 185.03,56.16 186.2,56.4 153.4,36" fill="#f3c8c4"/>
<g clip-path="url(#ct10)"><rect x="89.4" y="35" width="97.8" height="32.84" filter="url(#nz)"/></g>
<polygon points="150.78,21.95 182.38,44.35 182.38,49.15 150.78,26.75" fill="#aab4b9"/>
<polygon points="182.38,44.35 185.6,43.8 185.6,48.6 182.38,49.15" fill="#e6e8e9"/>
<polygon points="150.78,21.95 182.38,44.35 185.6,43.8 154,21.4" fill="#f3f4f4"/>
<polygon points="89.6,32.4 91.18,33.52 91.18,38.32 89.6,37.2" fill="#c3c9cd"/>
<polygon points="91.18,33.52 155.58,22.52 155.58,27.32 91.18,38.32" fill="#d9dcde"/>
<polygon points="89.6,32.4 91.18,33.52 155.58,22.52 154,21.4" fill="#f3f4f4"/>
<polygon points="134.63,41.94 146.64,50.45 146.64,55.25 134.63,46.74" fill="#b4bcc1"/>
<polygon points="146.64,50.45 149.86,49.9 149.86,54.7 146.64,55.25" fill="#e6e8e9"/>
<polygon points="134.63,41.94 146.64,50.45 149.86,49.9 137.85,41.39" fill="#f3f4f4"/>
<polygon points="141.11,38.89 155.33,48.97 155.33,53.77 141.11,43.69" fill="#b4bcc1"/>
<polygon points="155.33,48.97 158.55,48.42 158.55,53.22 155.33,53.77" fill="#e6e8e9"/>
<polygon points="141.11,38.89 155.33,48.97 158.55,48.42 144.33,38.34" fill="#f3f4f4"/>
<polygon points="124.72,40.3 127.88,42.54 127.88,47.34 124.72,45.1" fill="#c3c9cd"/>
<polygon points="127.88,42.54 130.13,42.15 130.13,46.95 127.88,47.34" fill="#e6e8e9"/>
<polygon points="124.72,40.3 127.88,42.54 130.13,42.15 126.97,39.91" fill="#f3f4f4"/>
<polygon points="142.8,34.99 145.96,37.23 145.96,42.03 142.8,39.79" fill="#c3c9cd"/>
<polygon points="145.96,37.23 148.21,36.84 148.21,41.64 145.96,42.03" fill="#e6e8e9"/>
<polygon points="142.8,34.99 145.96,37.23 148.21,36.84 145.05,34.6" fill="#f3f4f4"/>
<polygon points="119.62,53.68 121.2,54.8 121.2,59.6 119.62,58.48" fill="#c3c9cd"/>
<polygon points="121.2,54.8 149.86,49.9 149.86,54.7 121.2,59.6" fill="#e6e8e9"/>
<polygon points="119.62,53.68 121.2,54.8 149.86,49.9 148.28,48.78" fill="#f3f4f4"/>
<polygon points="153.75,47.85 155.33,48.97 155.33,53.77 153.75,52.65" fill="#c3c9cd"/>
<polygon points="155.33,48.97 185.6,43.8 185.6,48.6 155.33,53.77" fill="#e6e8e9"/>
<polygon points="153.75,47.85 155.33,48.97 185.6,43.8 184.02,42.68" fill="#f3f4f4"/>
<polygon points="89.6,32.4 121.2,54.8 121.2,59.6 89.6,37.2" fill="#c3c9cd"/>
<polygon points="121.2,54.8 124.42,54.25 124.42,59.05 121.2,59.6" fill="#e6e8e9"/>
<polygon points="89.6,32.4 121.2,54.8 124.42,54.25 92.82,31.85" fill="#f3f4f4"/>
<polygon points="91.4,19.4 124,42 185.8,31.4 152.8,8.4" fill="#9bbac0" fill-opacity="0.84"/>
<g clip-path="url(#ct11)"><rect x="90.4" y="7.4" width="96.4" height="35.6" filter="url(#nz)"/></g>
<polygon points="91.4,19.4 124,42 185.8,31.4 185.8,32.3 124,42.9 91.4,20.3" fill="#c3d6da" fill-opacity="0.8"/>
<g clip-path="url(#cmg)" fill="none" stroke="#6a8d96" stroke-opacity="0.7" stroke-width="1.3">
<path d="M152.39 22.67 L183.99 45.07"/>
<path d="M90.39 33.96 L154.79 22.96"/>
<path d="M120.41 55.24 L184.81 44.24"/>
<path d="M91.21 33.12 L122.81 55.52"/>
<path d="M134.03 41.1 L148.25 51.18"/>
<path d="M140.82 38.55 L156.62 49.75"/>
<path d="M118.4 36.82 L128.51 43.99"/>
<path d="M141.58 32.86 L149.48 38.46"/>
</g>
<polygon points="94.4,32.97 122.84,53.13 180.8,43.23 152.36,23.07" fill="#c9dcdf" fill-opacity="0.22" clip-path="url(#cmg)"/>
<text x="27.4" y="22" font-size="8.4" fill="#000" stroke="#000" stroke-width="0.22">MgF<tspan font-size="70%" dy="2.1">2</tspan><tspan dy="-2.1">&#8203;</tspan></text>
<line x1="49.4" y1="19.4" x2="91" y2="19.4" stroke="#444" stroke-width="0.7"/>
<text x="27.6" y="34.6" font-size="8.4" fill="#000" stroke="#000" stroke-width="0.22">Ag</text>
<line x1="42.6" y1="32" x2="90" y2="32" stroke="#666" stroke-width="0.7"/>
<text x="27.2" y="49" font-size="8.4" fill="#000" stroke="#000" stroke-width="0.22">IZO</text>
<line x1="44" y1="46.6" x2="90.4" y2="46.6" stroke="#444" stroke-width="0.7"/>
<text x="27.2" y="62" font-size="8.4" fill="#000" stroke="#000" stroke-width="0.22">SnO<tspan font-size="70%" dy="2.1">2</tspan><tspan dy="-2.1">&#8203;</tspan></text>
<line x1="50" y1="59.4" x2="80" y2="59.4" stroke="#444" stroke-width="0.7"/>
<text x="27.4" y="76.6" font-size="8.4" fill="#000" stroke="#000" stroke-width="0.22">C<tspan font-size="70%" dy="2.1">60</tspan><tspan dy="-2.1">&#8203;</tspan></text>
<line x1="40" y1="73.4" x2="82" y2="73.4" stroke="#333" stroke-width="0.7"/>
<text x="26.8" y="94.4" font-size="8.4" fill="#000" stroke="#000" stroke-width="0.22">Perovskite</text>
<line x1="69" y1="92.4" x2="85" y2="92.4" stroke="#333" stroke-width="0.7"/>
<text x="27" y="128.6" font-size="8.4" fill="#000" stroke="#000" stroke-width="0.22">SAM</text>
<line x1="49" y1="125.4" x2="165" y2="125.4" stroke="#333" stroke-width="0.7"/>
<text x="26.8" y="139.6" font-size="8.4" fill="#000" stroke="#000" stroke-width="0.22">ITO</text>
<line x1="44" y1="136.6" x2="103" y2="136.6" stroke="#333" stroke-width="0.7"/>
<text x="26.6" y="153" font-size="8.4" fill="#000" stroke="#000" stroke-width="0.22">a-Si (n)</text>
<line x1="58" y1="150.6" x2="109" y2="150.6" stroke="#777" stroke-width="0.7"/>
<text x="26.8" y="165.4" font-size="8.4" fill="#000" stroke="#000" stroke-width="0.22">a-Si (i)</text>
<line x1="58.4" y1="162.4" x2="123" y2="162.4" stroke="#333" stroke-width="0.7"/>
<text x="27" y="198" font-size="8.4" fill="#000" stroke="#000" stroke-width="0.22">c-Si (n)</text>
<line x1="59.4" y1="194.4" x2="90" y2="194.4" stroke="#333" stroke-width="0.7"/>
<text x="25.4" y="275.4" font-size="8.4" fill="#000" stroke="#000" stroke-width="0.22">a-Si (i)</text>
<line x1="55" y1="272.2" x2="87" y2="272.2" stroke="#333" stroke-width="0.7"/>
<text x="25.2" y="288.4" font-size="8.4" fill="#000" stroke="#000" stroke-width="0.22">a-Si (p)</text>
<line x1="58" y1="285.4" x2="97" y2="285.4" stroke="#333" stroke-width="0.7"/>
<text x="26.6" y="298.6" font-size="8.4" fill="#000" stroke="#000" stroke-width="0.22">ITO</text>
<line x1="46" y1="295.4" x2="146" y2="295.4" stroke="#333" stroke-width="0.7"/>
<text x="27" y="309" font-size="8.4" fill="#000" stroke="#000" stroke-width="0.22">Ag</text>
<line x1="42" y1="305.6" x2="111" y2="305.6" stroke="#999" stroke-width="0.7"/>
</g>
<g id="pb">
<text x="214.1" y="21.1" font-size="22.5" fill="#0a0a0a" font-weight="bold">b</text>
<g clip-path="url(#cb)">
<path d="M263.2 15.24 L264.5 15.24 L265.79 15.25 L267.09 15.26 L268.38 15.27 L269.68 15.27 L270.98 15.28 L272.27 15.29 L273.57 15.29 L274.86 15.3 L276.16 15.31 L277.46 15.32 L278.75 15.32 L280.05 15.33 L281.34 15.34 L282.64 15.35 L283.94 15.35 L285.23 15.36 L286.53 15.37 L287.82 15.38 L289.12 15.38 L290.42 15.39 L291.71 15.4 L293.01 15.4 L294.3 15.41 L295.6 15.42 L296.9 15.43 L298.19 15.43 L299.49 15.44 L300.78 15.45 L302.08 15.46 L303.38 15.46 L304.67 15.47 L305.97 15.48 L307.26 15.48 L308.56 15.49 L309.86 15.5 L311.15 15.51 L312.45 15.51 L313.74 15.52 L315.04 15.53 L316.34 15.54 L317.63 15.54 L318.93 15.55 L320.22 15.56 L321.52 15.57 L322.82 15.57 L324.11 15.58 L325.41 15.59 L326.7 15.59 L328 15.6 L329.3 15.61 L330.59 15.62 L331.89 15.62 L333.18 15.63 L334.48 15.64 L335.78 15.65 L337.07 15.66 L338.37 15.66 L339.66 15.67 L340.96 15.68 L342.26 15.69 L343.55 15.7 L344.85 15.71 L346.14 15.71 L347.44 15.72 L348.74 15.73 L350.03 15.74 L351.33 15.75 L352.62 15.76 L353.92 15.78 L355.22 15.79 L356.51 15.8 L357.81 15.81 L359.1 15.83 L360.4 15.85 L361.7 15.86 L362.99 15.88 L364.29 15.9 L365.58 15.93 L366.88 15.95 L368.18 15.98 L369.47 16.01 L370.77 16.05 L372.06 16.09 L373.36 16.14 L374.66 16.19 L375.95 16.25 L377.25 16.32 L378.54 16.4 L379.84 16.5 L381.14 16.6 L382.43 16.72 L383.73 16.87 L385.02 17.03 L386.32 17.22 L387.62 17.44 L388.91 17.69 L390.21 17.98 L391.5 18.32 L392.8 18.71 L394.1 19.17 L395.39 19.7 L396.69 20.32 L397.98 21.03 L399.28 21.87 L400.58 22.83 L401.87 23.96 L403.17 25.26 L404.46 26.78 L405.76 28.55 L407.06 30.6 L408.35 32.99 L409.65 35.77 L410.94 39 L412.24 42.76 L413.54 47.13 L414.83 52.22 L416.13 58.14 L417.42 65.03 L418.72 73.04 L420.02 82.36 L421.31 93.2 L422.61 105.82 L423.9 120.5 L425.2 137.57 L426.5 157.45 L427.79 180.57" fill="none" stroke="#2a2ae8" stroke-width="0.8"/>
<circle cx="263.2" cy="15.24" r="1.7" fill="#2a2ae8"/>
<circle cx="265.79" cy="15.25" r="1.7" fill="#2a2ae8"/>
<circle cx="268.38" cy="15.27" r="1.7" fill="#2a2ae8"/>
<circle cx="270.98" cy="15.28" r="1.7" fill="#2a2ae8"/>
<circle cx="273.57" cy="15.29" r="1.7" fill="#2a2ae8"/>
<circle cx="276.16" cy="15.31" r="1.7" fill="#2a2ae8"/>
<circle cx="278.75" cy="15.32" r="1.7" fill="#2a2ae8"/>
<circle cx="281.34" cy="15.34" r="1.7" fill="#2a2ae8"/>
<circle cx="283.94" cy="15.35" r="1.7" fill="#2a2ae8"/>
<circle cx="286.53" cy="15.37" r="1.7" fill="#2a2ae8"/>
<circle cx="289.12" cy="15.38" r="1.7" fill="#2a2ae8"/>
<circle cx="291.71" cy="15.4" r="1.7" fill="#2a2ae8"/>
<circle cx="294.3" cy="15.41" r="1.7" fill="#2a2ae8"/>
<circle cx="296.9" cy="15.43" r="1.7" fill="#2a2ae8"/>
<circle cx="299.49" cy="15.44" r="1.7" fill="#2a2ae8"/>
<circle cx="302.08" cy="15.46" r="1.7" fill="#2a2ae8"/>
<circle cx="304.67" cy="15.47" r="1.7" fill="#2a2ae8"/>
<circle cx="307.26" cy="15.48" r="1.7" fill="#2a2ae8"/>
<circle cx="309.86" cy="15.5" r="1.7" fill="#2a2ae8"/>
<circle cx="312.45" cy="15.51" r="1.7" fill="#2a2ae8"/>
<circle cx="315.04" cy="15.53" r="1.7" fill="#2a2ae8"/>
<circle cx="317.63" cy="15.54" r="1.7" fill="#2a2ae8"/>
<circle cx="320.22" cy="15.56" r="1.7" fill="#2a2ae8"/>
<circle cx="322.82" cy="15.57" r="1.7" fill="#2a2ae8"/>
<circle cx="325.41" cy="15.59" r="1.7" fill="#2a2ae8"/>
<circle cx="328" cy="15.6" r="1.7" fill="#2a2ae8"/>
<circle cx="330.59" cy="15.62" r="1.7" fill="#2a2ae8"/>
<circle cx="333.18" cy="15.63" r="1.7" fill="#2a2ae8"/>
<circle cx="335.78" cy="15.65" r="1.7" fill="#2a2ae8"/>
<circle cx="338.37" cy="15.66" r="1.7" fill="#2a2ae8"/>
<circle cx="340.96" cy="15.68" r="1.7" fill="#2a2ae8"/>
<circle cx="343.55" cy="15.7" r="1.7" fill="#2a2ae8"/>
<circle cx="346.14" cy="15.71" r="1.7" fill="#2a2ae8"/>
<circle cx="348.74" cy="15.73" r="1.7" fill="#2a2ae8"/>
<circle cx="351.33" cy="15.75" r="1.7" fill="#2a2ae8"/>
<circle cx="353.92" cy="15.78" r="1.7" fill="#2a2ae8"/>
<circle cx="356.51" cy="15.8" r="1.7" fill="#2a2ae8"/>
<circle cx="359.1" cy="15.83" r="1.7" fill="#2a2ae8"/>
<circle cx="361.7" cy="15.86" r="1.7" fill="#2a2ae8"/>
<circle cx="364.29" cy="15.9" r="1.7" fill="#2a2ae8"/>
<circle cx="366.88" cy="15.95" r="1.7" fill="#2a2ae8"/>
<circle cx="369.47" cy="16.01" r="1.7" fill="#2a2ae8"/>
<circle cx="372.06" cy="16.09" r="1.7" fill="#2a2ae8"/>
<circle cx="374.66" cy="16.19" r="1.7" fill="#2a2ae8"/>
<circle cx="377.25" cy="16.32" r="1.7" fill="#2a2ae8"/>
<circle cx="379.84" cy="16.5" r="1.7" fill="#2a2ae8"/>
<circle cx="382.43" cy="16.72" r="1.7" fill="#2a2ae8"/>
<circle cx="385.02" cy="17.03" r="1.7" fill="#2a2ae8"/>
<circle cx="387.62" cy="17.44" r="1.7" fill="#2a2ae8"/>
<circle cx="390.21" cy="17.98" r="1.7" fill="#2a2ae8"/>
<circle cx="392.8" cy="18.71" r="1.7" fill="#2a2ae8"/>
<circle cx="395.39" cy="19.7" r="1.7" fill="#2a2ae8"/>
<circle cx="397.98" cy="21.03" r="1.7" fill="#2a2ae8"/>
<circle cx="400.58" cy="22.83" r="1.7" fill="#2a2ae8"/>
<circle cx="403.17" cy="25.26" r="1.7" fill="#2a2ae8"/>
<circle cx="405.76" cy="28.55" r="1.7" fill="#2a2ae8"/>
<circle cx="408.35" cy="32.99" r="1.7" fill="#2a2ae8"/>
<circle cx="410.94" cy="39" r="1.7" fill="#2a2ae8"/>
<circle cx="413.54" cy="47.13" r="1.7" fill="#2a2ae8"/>
<circle cx="416.13" cy="58.14" r="1.7" fill="#2a2ae8"/>
<circle cx="418.72" cy="73.04" r="1.7" fill="#2a2ae8"/>
<circle cx="421.31" cy="93.2" r="1.7" fill="#2a2ae8"/>
<circle cx="423.9" cy="120.5" r="1.7" fill="#2a2ae8"/>
<circle cx="426.5" cy="157.45" r="1.7" fill="#2a2ae8"/>
<circle cx="429.09" cy="207.47" r="1.7" fill="#2a2ae8"/>
<path d="M263.2 15.24 L265.79 15.25 L268.38 15.27 L270.98 15.28 L273.57 15.29 L276.16 15.31 L278.75 15.32 L281.34 15.34 L283.94 15.35 L286.53 15.37 L289.12 15.38 L291.71 15.4 L294.3 15.41 L296.9 15.43 L299.49 15.44 L302.08 15.46 L304.67 15.47 L307.26 15.48 L309.86 15.5 L312.45 15.51 L315.04 15.53 L317.63 15.54 L320.22 15.56 L322.82 15.57 L325.41 15.59 L328 15.6 L330.59 15.62 L333.18 15.63 L335.78 15.65 L338.37 15.66 L340.96 15.68 L343.55 15.7 L346.14 15.71 L348.74 15.73 L351.33 15.75 L353.92 15.78 L356.51 15.8 L359.1 15.83 L361.7 15.86 L364.29 15.9 L366.88 15.95 L369.47 16.01 L372.06 16.09 L374.66 16.19 L377.25 16.32 L379.84 16.5 L382.43 16.72 L385.02 17.03 L387.62 17.44 L390.21 17.98 L392.8 18.71" fill="none" stroke="#2a2ae8" stroke-width="3.2"/>
<path d="M263.2 12.2 L264.5 12.21 L265.79 12.21 L267.09 12.22 L268.38 12.23 L269.68 12.23 L270.98 12.24 L272.27 12.24 L273.57 12.25 L274.86 12.26 L276.16 12.26 L277.46 12.27 L278.75 12.27 L280.05 12.28 L281.34 12.29 L282.64 12.29 L283.94 12.3 L285.23 12.3 L286.53 12.31 L287.82 12.32 L289.12 12.32 L290.42 12.33 L291.71 12.34 L293.01 12.34 L294.3 12.35 L295.6 12.35 L296.9 12.36 L298.19 12.37 L299.49 12.37 L300.78 12.38 L302.08 12.38 L303.38 12.39 L304.67 12.4 L305.97 12.4 L307.26 12.41 L308.56 12.41 L309.86 12.42 L311.15 12.43 L312.45 12.43 L313.74 12.44 L315.04 12.44 L316.34 12.45 L317.63 12.46 L318.93 12.46 L320.22 12.47 L321.52 12.47 L322.82 12.48 L324.11 12.49 L325.41 12.49 L326.7 12.5 L328 12.51 L329.3 12.51 L330.59 12.52 L331.89 12.52 L333.18 12.53 L334.48 12.54 L335.78 12.54 L337.07 12.55 L338.37 12.55 L339.66 12.56 L340.96 12.57 L342.26 12.57 L343.55 12.58 L344.85 12.59 L346.14 12.59 L347.44 12.6 L348.74 12.61 L350.03 12.61 L351.33 12.62 L352.62 12.63 L353.92 12.63 L355.22 12.64 L356.51 12.65 L357.81 12.65 L359.1 12.66 L360.4 12.67 L361.7 12.68 L362.99 12.69 L364.29 12.7 L365.58 12.71 L366.88 12.72 L368.18 12.73 L369.47 12.74 L370.77 12.76 L372.06 12.77 L373.36 12.79 L374.66 12.81 L375.95 12.83 L377.25 12.86 L378.54 12.88 L379.84 12.92 L381.14 12.95 L382.43 13 L383.73 13.04 L385.02 13.1 L386.32 13.17 L387.62 13.24 L388.91 13.33 L390.21 13.44 L391.5 13.56 L392.8 13.7 L394.1 13.87 L395.39 14.07 L396.69 14.3 L397.98 14.57 L399.28 14.89 L400.58 15.27 L401.87 15.72 L403.17 16.25 L404.46 16.87 L405.76 17.6 L407.06 18.46 L408.35 19.48 L409.65 20.68 L410.94 22.1 L412.24 23.78 L413.54 25.76 L414.83 28.1 L416.13 30.86 L417.42 34.11 L418.72 37.96 L420.02 42.51 L421.31 47.88 L422.61 54.22 L423.9 61.71 L425.2 70.56 L426.5 81.02 L427.79 93.36 L429.09 107.95 L430.38 125.18 L431.68 145.53 L432.98 169.58 L434.27 197.98" fill="none" stroke="#e8323c" stroke-width="0.8"/>
<circle cx="263.2" cy="12.2" r="1.7" fill="#e8323c"/>
<circle cx="265.79" cy="12.21" r="1.7" fill="#e8323c"/>
<circle cx="268.38" cy="12.23" r="1.7" fill="#e8323c"/>
<circle cx="270.98" cy="12.24" r="1.7" fill="#e8323c"/>
<circle cx="273.57" cy="12.25" r="1.7" fill="#e8323c"/>
<circle cx="276.16" cy="12.26" r="1.7" fill="#e8323c"/>
<circle cx="278.75" cy="12.27" r="1.7" fill="#e8323c"/>
<circle cx="281.34" cy="12.29" r="1.7" fill="#e8323c"/>
<circle cx="283.94" cy="12.3" r="1.7" fill="#e8323c"/>
<circle cx="286.53" cy="12.31" r="1.7" fill="#e8323c"/>
<circle cx="289.12" cy="12.32" r="1.7" fill="#e8323c"/>
<circle cx="291.71" cy="12.34" r="1.7" fill="#e8323c"/>
<circle cx="294.3" cy="12.35" r="1.7" fill="#e8323c"/>
<circle cx="296.9" cy="12.36" r="1.7" fill="#e8323c"/>
<circle cx="299.49" cy="12.37" r="1.7" fill="#e8323c"/>
<circle cx="302.08" cy="12.38" r="1.7" fill="#e8323c"/>
<circle cx="304.67" cy="12.4" r="1.7" fill="#e8323c"/>
<circle cx="307.26" cy="12.41" r="1.7" fill="#e8323c"/>
<circle cx="309.86" cy="12.42" r="1.7" fill="#e8323c"/>
<circle cx="312.45" cy="12.43" r="1.7" fill="#e8323c"/>
<circle cx="315.04" cy="12.44" r="1.7" fill="#e8323c"/>
<circle cx="317.63" cy="12.46" r="1.7" fill="#e8323c"/>
<circle cx="320.22" cy="12.47" r="1.7" fill="#e8323c"/>
<circle cx="322.82" cy="12.48" r="1.7" fill="#e8323c"/>
<circle cx="325.41" cy="12.49" r="1.7" fill="#e8323c"/>
<circle cx="328" cy="12.51" r="1.7" fill="#e8323c"/>
<circle cx="330.59" cy="12.52" r="1.7" fill="#e8323c"/>
<circle cx="333.18" cy="12.53" r="1.7" fill="#e8323c"/>
<circle cx="335.78" cy="12.54" r="1.7" fill="#e8323c"/>
<circle cx="338.37" cy="12.55" r="1.7" fill="#e8323c"/>
<circle cx="340.96" cy="12.57" r="1.7" fill="#e8323c"/>
<circle cx="343.55" cy="12.58" r="1.7" fill="#e8323c"/>
<circle cx="346.14" cy="12.59" r="1.7" fill="#e8323c"/>
<circle cx="348.74" cy="12.61" r="1.7" fill="#e8323c"/>
<circle cx="351.33" cy="12.62" r="1.7" fill="#e8323c"/>
<circle cx="353.92" cy="12.63" r="1.7" fill="#e8323c"/>
<circle cx="356.51" cy="12.65" r="1.7" fill="#e8323c"/>
<circle cx="359.1" cy="12.66" r="1.7" fill="#e8323c"/>
<circle cx="361.7" cy="12.68" r="1.7" fill="#e8323c"/>
<circle cx="364.29" cy="12.7" r="1.7" fill="#e8323c"/>
<circle cx="366.88" cy="12.72" r="1.7" fill="#e8323c"/>
<circle cx="369.47" cy="12.74" r="1.7" fill="#e8323c"/>
<circle cx="372.06" cy="12.77" r="1.7" fill="#e8323c"/>
<circle cx="374.66" cy="12.81" r="1.7" fill="#e8323c"/>
<circle cx="377.25" cy="12.86" r="1.7" fill="#e8323c"/>
<circle cx="379.84" cy="12.92" r="1.7" fill="#e8323c"/>
<circle cx="382.43" cy="13" r="1.7" fill="#e8323c"/>
<circle cx="385.02" cy="13.1" r="1.7" fill="#e8323c"/>
<circle cx="387.62" cy="13.24" r="1.7" fill="#e8323c"/>
<circle cx="390.21" cy="13.44" r="1.7" fill="#e8323c"/>
<circle cx="392.8" cy="13.7" r="1.7" fill="#e8323c"/>
<circle cx="395.39" cy="14.07" r="1.7" fill="#e8323c"/>
<circle cx="397.98" cy="14.57" r="1.7" fill="#e8323c"/>
<circle cx="400.58" cy="15.27" r="1.7" fill="#e8323c"/>
<circle cx="403.17" cy="16.25" r="1.7" fill="#e8323c"/>
<circle cx="405.76" cy="17.6" r="1.7" fill="#e8323c"/>
<circle cx="408.35" cy="19.48" r="1.7" fill="#e8323c"/>
<circle cx="410.94" cy="22.1" r="1.7" fill="#e8323c"/>
<circle cx="413.54" cy="25.76" r="1.7" fill="#e8323c"/>
<circle cx="416.13" cy="30.86" r="1.7" fill="#e8323c"/>
<circle cx="418.72" cy="37.96" r="1.7" fill="#e8323c"/>
<circle cx="421.31" cy="47.88" r="1.7" fill="#e8323c"/>
<circle cx="423.9" cy="61.71" r="1.7" fill="#e8323c"/>
<circle cx="426.5" cy="81.02" r="1.7" fill="#e8323c"/>
<circle cx="429.09" cy="107.95" r="1.7" fill="#e8323c"/>
<circle cx="431.68" cy="145.53" r="1.7" fill="#e8323c"/>
<circle cx="434.27" cy="197.98" r="1.7" fill="#e8323c"/>
<path d="M263.2 12.2 L265.79 12.21 L268.38 12.23 L270.98 12.24 L273.57 12.25 L276.16 12.26 L278.75 12.27 L281.34 12.29 L283.94 12.3 L286.53 12.31 L289.12 12.32 L291.71 12.34 L294.3 12.35 L296.9 12.36 L299.49 12.37 L302.08 12.38 L304.67 12.4 L307.26 12.41 L309.86 12.42 L312.45 12.43 L315.04 12.44 L317.63 12.46 L320.22 12.47 L322.82 12.48 L325.41 12.49 L328 12.51 L330.59 12.52 L333.18 12.53 L335.78 12.54 L338.37 12.55 L340.96 12.57 L343.55 12.58 L346.14 12.59 L348.74 12.61 L351.33 12.62 L353.92 12.63 L356.51 12.65 L359.1 12.66 L361.7 12.68 L364.29 12.7 L366.88 12.72 L369.47 12.74 L372.06 12.77 L374.66 12.81 L377.25 12.86 L379.84 12.92 L382.43 13 L385.02 13.1 L387.62 13.24 L390.21 13.44 L392.8 13.7" fill="none" stroke="#e8323c" stroke-width="3.2"/>
</g>
<rect x="263.2" y="3.6" width="170.4" height="136.8" fill="none" stroke="#5a5a5a" stroke-width="0.9"/>
<line x1="263.2" y1="140.4" x2="263.2" y2="143.5" stroke="#5a5a5a" stroke-width="0.9"/>
<text x="263.2" y="151.9" font-size="10" fill="#0a0a0a" text-anchor="middle" stroke="#0a0a0a" stroke-width="0.22">0.0</text>
<line x1="289.12" y1="140.4" x2="289.12" y2="143.5" stroke="#5a5a5a" stroke-width="0.9"/>
<text x="289.12" y="151.9" font-size="10" fill="#0a0a0a" text-anchor="middle" stroke="#0a0a0a" stroke-width="0.22">0.2</text>
<line x1="315.04" y1="140.4" x2="315.04" y2="143.5" stroke="#5a5a5a" stroke-width="0.9"/>
<text x="315.04" y="151.9" font-size="10" fill="#0a0a0a" text-anchor="middle" stroke="#0a0a0a" stroke-width="0.22">0.4</text>
<line x1="340.96" y1="140.4" x2="340.96" y2="143.5" stroke="#5a5a5a" stroke-width="0.9"/>
<text x="340.96" y="151.9" font-size="10" fill="#0a0a0a" text-anchor="middle" stroke="#0a0a0a" stroke-width="0.22">0.6</text>
<line x1="366.88" y1="140.4" x2="366.88" y2="143.5" stroke="#5a5a5a" stroke-width="0.9"/>
<text x="366.88" y="151.9" font-size="10" fill="#0a0a0a" text-anchor="middle" stroke="#0a0a0a" stroke-width="0.22">0.8</text>
<line x1="392.8" y1="140.4" x2="392.8" y2="143.5" stroke="#5a5a5a" stroke-width="0.9"/>
<text x="392.8" y="151.9" font-size="10" fill="#0a0a0a" text-anchor="middle" stroke="#0a0a0a" stroke-width="0.22">1.0</text>
<line x1="418.72" y1="140.4" x2="418.72" y2="143.5" stroke="#5a5a5a" stroke-width="0.9"/>
<text x="418.72" y="151.9" font-size="10" fill="#0a0a0a" text-anchor="middle" stroke="#0a0a0a" stroke-width="0.22">1.2</text>
<line x1="276.16" y1="140.4" x2="276.16" y2="142.1" stroke="#5a5a5a" stroke-width="0.7"/>
<line x1="302.08" y1="140.4" x2="302.08" y2="142.1" stroke="#5a5a5a" stroke-width="0.7"/>
<line x1="328" y1="140.4" x2="328" y2="142.1" stroke="#5a5a5a" stroke-width="0.7"/>
<line x1="353.92" y1="140.4" x2="353.92" y2="142.1" stroke="#5a5a5a" stroke-width="0.7"/>
<line x1="379.84" y1="140.4" x2="379.84" y2="142.1" stroke="#5a5a5a" stroke-width="0.7"/>
<line x1="405.76" y1="140.4" x2="405.76" y2="142.1" stroke="#5a5a5a" stroke-width="0.7"/>
<line x1="431.68" y1="140.4" x2="431.68" y2="142.1" stroke="#5a5a5a" stroke-width="0.7"/>
<line x1="260.8" y1="140.4" x2="263.2" y2="140.4" stroke="#5a5a5a" stroke-width="0.9"/>
<text x="258.7" y="143.95" font-size="10" fill="#0a0a0a" text-anchor="end" stroke="#0a0a0a" stroke-width="0.22">0</text>
<line x1="260.8" y1="110.05" x2="263.2" y2="110.05" stroke="#5a5a5a" stroke-width="0.9"/>
<text x="258.7" y="113.6" font-size="10" fill="#0a0a0a" text-anchor="end" stroke="#0a0a0a" stroke-width="0.22">5</text>
<line x1="260.8" y1="79.7" x2="263.2" y2="79.7" stroke="#5a5a5a" stroke-width="0.9"/>
<text x="258.7" y="83.25" font-size="10" fill="#0a0a0a" text-anchor="end" stroke="#0a0a0a" stroke-width="0.22">10</text>
<line x1="260.8" y1="49.35" x2="263.2" y2="49.35" stroke="#5a5a5a" stroke-width="0.9"/>
<text x="258.7" y="52.9" font-size="10" fill="#0a0a0a" text-anchor="end" stroke="#0a0a0a" stroke-width="0.22">15</text>
<line x1="260.8" y1="19" x2="263.2" y2="19" stroke="#5a5a5a" stroke-width="0.9"/>
<text x="258.7" y="22.55" font-size="10" fill="#0a0a0a" text-anchor="end" stroke="#0a0a0a" stroke-width="0.22">20</text>
<line x1="261.9" y1="125.23" x2="263.2" y2="125.23" stroke="#5a5a5a" stroke-width="0.7"/>
<line x1="261.9" y1="94.88" x2="263.2" y2="94.88" stroke="#5a5a5a" stroke-width="0.7"/>
<line x1="261.9" y1="64.53" x2="263.2" y2="64.53" stroke="#5a5a5a" stroke-width="0.7"/>
<line x1="261.9" y1="34.17" x2="263.2" y2="34.17" stroke="#5a5a5a" stroke-width="0.7"/>
<line x1="261.9" y1="3.82" x2="263.2" y2="3.82" stroke="#5a5a5a" stroke-width="0.7"/>
<text x="348.5" y="168.3" font-size="11.6" fill="#0a0a0a" text-anchor="middle" stroke="#0a0a0a" stroke-width="0.22">Voltage (V)</text>
<text x="240.9" y="72" font-size="11.5" fill="#0a0a0a" text-anchor="middle" transform="rotate(-90 240.9 72)" stroke="#0a0a0a" stroke-width="0.22">Current density (mA/cm<tspan font-size="68%" dy="-3.3">2</tspan><tspan dy="3.3">&#8203;</tspan>)</text>
<line x1="265.8" y1="26.2" x2="282" y2="26.2" stroke="#2a2ae8" stroke-width="0.8"/>
<circle cx="274" cy="26.2" r="1.4" fill="#2a2ae8"/>
<text x="284.4" y="28.9" font-size="9.05" fill="#0a0a0a" stroke="#0a0a0a" stroke-width="0.22">Control-Reverse</text>
<line x1="265.8" y1="37.25" x2="282" y2="37.25" stroke="#2a2ae8" stroke-width="0.8" stroke-dasharray="2.3 1.9" stroke-dashoffset="0.6"/>
<circle cx="274" cy="37.25" r="1.4" fill="#2a2ae8"/>
<text x="284.4" y="39.95" font-size="9.05" fill="#0a0a0a" stroke="#0a0a0a" stroke-width="0.22">Control-Forward</text>
<line x1="265.8" y1="48.3" x2="282" y2="48.3" stroke="#e8323c" stroke-width="0.8"/>
<circle cx="274" cy="48.3" r="1.4" fill="#e8323c"/>
<text x="284.4" y="51" font-size="9.05" fill="#0a0a0a" stroke="#0a0a0a" stroke-width="0.22">Target-Reverse</text>
<line x1="265.8" y1="59.35" x2="282" y2="59.35" stroke="#e8323c" stroke-width="0.8" stroke-dasharray="2.3 1.9" stroke-dashoffset="0.6"/>
<circle cx="274" cy="59.35" r="1.4" fill="#e8323c"/>
<text x="284.4" y="62.05" font-size="9.05" fill="#0a0a0a" stroke="#0a0a0a" stroke-width="0.22">Target-Forward</text>
<g id="photo_b">
<rect x="282.6" y="70.6" width="105.4" height="65.4" fill="url(#gb1)"/>
<circle cx="290.5" cy="79.3" r="6.3" fill="#434f8c"/>
<circle cx="290.5" cy="79.3" r="4.5" fill="none" stroke="#aab1cc" stroke-width="0.5"/>
<path d="M288.3 78.2h4.4M290.5 76.6v5.2M288.6 80.4h3.8M289 81.8h3" stroke="#cfd4e4" stroke-width="0.7" fill="none"/>
<line x1="300.5" y1="74.3" x2="300.5" y2="86" stroke="#8a93b8" stroke-width="0.6"/>
<path d="M305.44 75.72L309.41 75.78M304.37 77.73L308.1 77.4M304.69 80.67L308.92 80.56M304.97 76.33L304.65 81.46M307.53 75.43L308.01 80.95M307.65 77L305.45 81.4M311.24 75.57L314.96 75.12M311.42 78.44L315.46 78.21M311.6 80.73L315.48 80.95M312.36 75.23L312.9 81.5M315.03 75.31L315.13 80.09M315.37 77L313.17 81.4M318.13 76.58L322.76 76.79M318.85 77.8L323.15 77.85M319.12 80.75L322.03 80.65M318.68 75.24L318.69 80.75M321.3 76.45L321.54 80.79M320.95 77L318.75 81.4M324.57 75.74L329.64 75.46M325.12 78.18L328.9 78.39M325.14 80.05L329.9 80.08M326.61 75.32L326.37 80.37M328.07 76.22L327.67 81.05M328.34 77L326.14 81.4M332.02 75.73L336.33 75.56M331.83 78.4L336.86 77.97M332.18 79.96L336.46 80.11M332.81 76.13L332.28 80.03M334.92 75.22L335.01 80.98M335.96 77L333.76 81.4M339.7 75.88L343.85 76.05M339.56 77.9L343.8 78.17M339.74 80.82L342.98 80.46M340.31 75.71L340.43 81.47M342.45 75.76L341.99 81.35M342.4 77L340.2 81.4M345.29 76.02L350.04 76.1M345.81 78.56L350.11 78.35M345.4 80.12L350.03 79.7M346.82 76.13L346.24 80.62M349.11 75.69L349.67 81.45M349.69 77L347.49 81.4M353.01 76.08L357.25 75.77M353.07 78.31L356.58 77.82M353.31 80.63L356.44 80.87M354.02 75.36L354.08 81.13M356.82 75.59L357.24 80.09M355.94 77L353.74 81.4M360.24 76.25L363.23 75.98M359.09 78.74L363.85 79M359.27 80.94L363.96 80.93M360.68 76.09L360.95 80.1M363.45 75.97L363.36 81.02M362.72 77L360.52 81.4M366.91 76.12L370.85 75.67M366.06 78.59L370.62 78.18M366.06 80.91L370.81 81.06M367.06 75.44L366.95 80.18M369.66 76.54L369.95 80.34M368.97 77L366.77 81.4M373.39 76.49L376.86 76.29M373.69 78.65L377.52 78.67M373.99 80.85L376.72 80.98M373.39 75.98L372.9 80.5M376.65 76.39L377.16 80.15M375.43 77L373.23 81.4M380.65 76.22L383.97 75.98M380.73 77.67L383.66 77.69M380.59 80.3L383.73 80.38M380.89 75.51L380.72 81.13M383.31 75.83L383.57 81.42M382.92 77L380.72 81.4" stroke="#46548f" stroke-width="0.62" fill="none" stroke-linecap="round"/>
<line x1="304" y1="84.9" x2="385.5" y2="84.9" stroke="#66719f" stroke-width="1" stroke-dasharray="1.6 0.5 2.4 0.6 0.9 0.5"/>
<rect x="318.8" y="88.5" width="25" height="24.4" fill="#e6e6e1"/>
<rect x="321.7" y="91" width="19.6" height="21" fill="#17171a"/>
<rect x="323.9" y="92.9" width="14.9" height="13.9" fill="none" stroke="#e8e8e4" stroke-width="1.8"/>
<rect x="328.8" y="106.8" width="4.8" height="5.2" fill="#e4e4e0"/>
<rect x="326" y="94.8" width="10.7" height="10.2" fill="#15151f"/>
<line x1="329.3" y1="94.6" x2="329.3" y2="99" stroke="#d8d8d8" stroke-width="0.7"/>
<line x1="333.3" y1="94.6" x2="333.3" y2="99" stroke="#d8d8d8" stroke-width="0.7"/>
<line x1="329.3" y1="101.5" x2="329.3" y2="105.2" stroke="#d8d8d8" stroke-width="0.7"/>
<line x1="333.3" y1="101.5" x2="333.3" y2="105.2" stroke="#d8d8d8" stroke-width="0.7"/>
<rect x="282.6" y="113.5" width="105.4" height="22.5" fill="url(#gb2)"/>
<rect x="282.6" y="113.5" width="105.4" height="22.5" fill="url(#gb3)"/>
<line x1="283.6" y1="113.8" x2="283.6" y2="117.8" stroke="#6f6c66" stroke-width="0.45"/>
<line x1="284.89" y1="113.8" x2="284.89" y2="116.4" stroke="#6f6c66" stroke-width="0.45"/>
<line x1="286.18" y1="113.8" x2="286.18" y2="116.4" stroke="#6f6c66" stroke-width="0.45"/>
<line x1="287.46" y1="113.8" x2="287.46" y2="116.4" stroke="#6f6c66" stroke-width="0.45"/>
<line x1="288.75" y1="113.8" x2="288.75" y2="116.4" stroke="#6f6c66" stroke-width="0.45"/>
<line x1="290.04" y1="113.8" x2="290.04" y2="119.3" stroke="#6f6c66" stroke-width="0.45"/>
<line x1="291.33" y1="113.8" x2="291.33" y2="116.4" stroke="#6f6c66" stroke-width="0.45"/>
<line x1="292.62" y1="113.8" x2="292.62" y2="116.4" stroke="#6f6c66" stroke-width="0.45"/>
<line x1="293.9" y1="113.8" x2="293.9" y2="116.4" stroke="#6f6c66" stroke-width="0.45"/>
<line x1="295.19" y1="113.8" x2="295.19" y2="116.4" stroke="#6f6c66" stroke-width="0.45"/>
<line x1="296.48" y1="113.8" x2="296.48" y2="117.8" stroke="#6f6c66" stroke-width="0.45"/>
<line x1="297.77" y1="113.8" x2="297.77" y2="116.4" stroke="#6f6c66" stroke-width="0.45"/>
<line x1="299.06" y1="113.8" x2="299.06" y2="116.4" stroke="#6f6c66" stroke-width="0.45"/>
<line x1="300.34" y1="113.8" x2="300.34" y2="116.4" stroke="#6f6c66" stroke-width="0.45"/>
<line x1="301.63" y1="113.8" x2="301.63" y2="116.4" stroke="#6f6c66" stroke-width="0.45"/>
<line x1="302.92" y1="113.8" x2="302.92" y2="119.3" stroke="#6f6c66" stroke-width="0.45"/>
<line x1="304.21" y1="113.8" x2="304.21" y2="116.4" stroke="#6f6c66" stroke-width="0.45"/>
<line x1="305.5" y1="113.8" x2="305.5" y2="116.4" stroke="#6f6c66" stroke-width="0.45"/>
<line x1="306.78" y1="113.8" x2="306.78" y2="116.4" stroke="#6f6c66" stroke-width="0.45"/>
<line x1="308.07" y1="113.8" x2="308.07" y2="116.4" stroke="#6f6c66" stroke-width="0.45"/>
<line x1="309.36" y1="113.8" x2="309.36" y2="117.8" stroke="#6f6c66" stroke-width="0.45"/>
<line x1="310.65" y1="113.8" x2="310.65" y2="116.4" stroke="#6f6c66" stroke-width="0.45"/>
<line x1="311.94" y1="113.8" x2="311.94" y2="116.4" stroke="#6f6c66" stroke-width="0.45"/>
<line x1="313.22" y1="113.8" x2="313.22" y2="116.4" stroke="#6f6c66" stroke-width="0.45"/>
<line x1="314.51" y1="113.8" x2="314.51" y2="116.4" stroke="#6f6c66" stroke-width="0.45"/>
<line x1="315.8" y1="113.8" x2="315.8" y2="119.3" stroke="#6f6c66" stroke-width="0.45"/>
<line x1="317.09" y1="113.8" x2="317.09" y2="116.4" stroke="#6f6c66" stroke-width="0.45"/>
<line x1="318.38" y1="113.8" x2="318.38" y2="116.4" stroke="#6f6c66" stroke-width="0.45"/>
<line x1="319.66" y1="113.8" x2="319.66" y2="116.4" stroke="#6f6c66" stroke-width="0.45"/>
<line x1="320.95" y1="113.8" x2="320.95" y2="116.4" stroke="#6f6c66" stroke-width="0.45"/>
<line x1="322.24" y1="113.8" x2="322.24" y2="117.8" stroke="#6f6c66" stroke-width="0.45"/>
<line x1="323.53" y1="113.8" x2="323.53" y2="116.4" stroke="#6f6c66" stroke-width="0.45"/>
<line x1="324.82" y1="113.8" x2="324.82" y2="116.4" stroke="#6f6c66" stroke-width="0.45"/>
<line x1="326.1" y1="113.8" x2="326.1" y2="116.4" stroke="#6f6c66" stroke-width="0.45"/>
<line x1="327.39" y1="113.8" x2="327.39" y2="116.4" stroke="#6f6c66" stroke-width="0.45"/>
<line x1="328.68" y1="113.8" x2="328.68" y2="119.3" stroke="#6f6c66" stroke-width="0.45"/>
<line x1="329.97" y1="113.8" x2="329.97" y2="116.4" stroke="#6f6c66" stroke-width="0.45"/>
<line x1="331.26" y1="113.8" x2="331.26" y2="116.4" stroke="#6f6c66" stroke-width="0.45"/>
<line x1="332.54" y1="113.8" x2="332.54" y2="116.4" stroke="#6f6c66" stroke-width="0.45"/>
<line x1="333.83" y1="113.8" x2="333.83" y2="116.4" stroke="#6f6c66" stroke-width="0.45"/>
<line x1="335.12" y1="113.8" x2="335.12" y2="117.8" stroke="#6f6c66" stroke-width="0.45"/>
<line x1="336.41" y1="113.8" x2="336.41" y2="116.4" stroke="#6f6c66" stroke-width="0.45"/>
<line x1="337.7" y1="113.8" x2="337.7" y2="116.4" stroke="#6f6c66" stroke-width="0.45"/>
<line x1="338.98" y1="113.8" x2="338.98" y2="116.4" stroke="#6f6c66" stroke-width="0.45"/>
<line x1="340.27" y1="113.8" x2="340.27" y2="116.4" stroke="#6f6c66" stroke-width="0.45"/>
<line x1="341.56" y1="113.8" x2="341.56" y2="119.3" stroke="#6f6c66" stroke-width="0.45"/>
<line x1="342.85" y1="113.8" x2="342.85" y2="116.4" stroke="#6f6c66" stroke-width="0.45"/>
<line x1="344.14" y1="113.8" x2="344.14" y2="116.4" stroke="#6f6c66" stroke-width="0.45"/>
<line x1="345.42" y1="113.8" x2="345.42" y2="116.4" stroke="#6f6c66" stroke-width="0.45"/>
<line x1="346.71" y1="113.8" x2="346.71" y2="116.4" stroke="#6f6c66" stroke-width="0.45"/>
<line x1="348" y1="113.8" x2="348" y2="117.8" stroke="#6f6c66" stroke-width="0.45"/>
<line x1="349.29" y1="113.8" x2="349.29" y2="116.4" stroke="#6f6c66" stroke-width="0.45"/>
<line x1="350.58" y1="113.8" x2="350.58" y2="116.4" stroke="#6f6c66" stroke-width="0.45"/>
<line x1="351.86" y1="113.8" x2="351.86" y2="116.4" stroke="#6f6c66" stroke-width="0.45"/>
<line x1="353.15" y1="113.8" x2="353.15" y2="116.4" stroke="#6f6c66" stroke-width="0.45"/>
<line x1="354.44" y1="113.8" x2="354.44" y2="119.3" stroke="#6f6c66" stroke-width="0.45"/>
<line x1="355.73" y1="113.8" x2="355.73" y2="116.4" stroke="#6f6c66" stroke-width="0.45"/>
<line x1="357.02" y1="113.8" x2="357.02" y2="116.4" stroke="#6f6c66" stroke-width="0.45"/>
<line x1="358.3" y1="113.8" x2="358.3" y2="116.4" stroke="#6f6c66" stroke-width="0.45"/>
<line x1="359.59" y1="113.8" x2="359.59" y2="116.4" stroke="#6f6c66" stroke-width="0.45"/>
<text x="290" y="132" font-size="8.8" fill="#403e3b" text-anchor="middle" stroke="#403e3b" stroke-width="0.22">8</text>
<text x="304" y="132" font-size="8.8" fill="#403e3b" text-anchor="middle" stroke="#403e3b" stroke-width="0.22">9</text>
<text x="316.8" y="132" font-size="8.8" fill="#9a1226" text-anchor="middle" stroke="#9a1226" stroke-width="0.22">10</text>
<text x="329.7" y="132" font-size="8.8" fill="#55534f" text-anchor="middle" stroke="#55534f" stroke-width="0.22">1</text>
<text x="342.7" y="132" font-size="8.8" fill="#55534f" text-anchor="middle" stroke="#55534f" stroke-width="0.22">2</text>
<text x="355.5" y="132" font-size="8.8" fill="#5b5956" text-anchor="middle" stroke="#5b5956" stroke-width="0.22">3</text>
<text x="368" y="132" font-size="8.8" fill="#66635f" text-anchor="middle" stroke="#66635f" stroke-width="0.22">4</text>
<text x="381.3" y="132" font-size="8.8" fill="#4a4a4a" text-anchor="middle" stroke="#4a4a4a" stroke-width="0.22">5</text>
</g>
</g>
<g id="pc">
<text x="455" y="20.6" font-size="22.5" fill="#0a0a0a" font-weight="bold">c</text>
<g clip-path="url(#cc)">
<path d="M503.2 15.68 L503.54 14.99 L503.87 14.73 L504.21 15.37 L504.55 15.72 L504.88 15.18 L505.22 14.95 L505.56 14.69 L505.9 15.68 L506.23 15.71 L506.57 14.85 L506.91 14.95 L507.24 14.5 L507.58 14.74 L507.92 15.2 L508.25 15.28 L508.59 14.06 L508.93 15.28 L509.27 15.5 L509.6 15.65 L509.94 15.12 L510.28 15.1 L510.61 15.31 L510.95 15.19 L511.29 15.05 L511.62 14.87 L511.96 14.69 L512.3 15.08 L512.64 15.93 L512.97 14.87 L513.31 15.78 L513.65 15.24 L513.98 15.8 L514.32 15.17 L514.66 15.5 L515 15.08 L515.33 13.76 L515.67 15.19 L516.01 14.81 L516.34 15.74 L516.68 15.3 L517.02 14.89 L517.35 15.21 L517.69 15.01 L518.03 15.13 L518.37 15.61 L518.7 14.93 L519.04 15.52 L519.38 14.37 L519.71 15.39 L520.05 14.88 L520.39 15.18 L520.72 14.77 L521.06 15.44 L521.4 14.75 L521.74 15.23 L522.07 14.64 L522.41 14.91 L522.75 15.12 L523.08 15.52 L523.42 14.85 L523.76 14.98 L524.09 14.48 L524.43 15.35 L524.77 14.95 L525.11 14.97 L525.44 15.06 L525.78 15.1 L526.12 15.11 L526.45 15.44 L526.79 15.62 L527.13 15.36 L527.46 14.93 L527.8 14.54 L528.14 14.77 L528.48 14.74 L528.81 14.86 L529.15 14.89 L529.49 15.11 L529.82 14.86 L530.16 14.43 L530.5 15.33 L530.83 15.49 L531.17 14.35 L531.51 15.09 L531.85 14.78 L532.18 14.82 L532.52 15.68 L532.86 14.15 L533.19 14.43 L533.53 15.12 L533.87 14.87 L534.2 15.14 L534.54 15.58 L534.88 15.25 L535.22 15.04 L535.55 14.72 L535.89 14.9 L536.23 15.18 L536.56 14.62 L536.9 15.53 L537.24 14.86 L537.57 14.73 L537.91 15.33 L538.25 15.97 L538.59 15.59 L538.92 15.1 L539.26 14.98 L539.6 14.54 L539.93 15.64 L540.27 15.21 L540.61 14.93 L540.94 15.27 L541.28 16.22 L541.62 14.86 L541.96 14.22 L542.29 14.78 L542.63 15.6 L542.97 15.39 L543.3 15.12 L543.64 14.14 L543.98 14.95 L544.31 15.16 L544.65 14.54 L544.99 15.25 L545.33 14.42 L545.66 15.51 L546 15.42 L546.34 14.91 L546.67 14.61 L547.01 14.94 L547.35 15.09 L547.68 16 L548.02 15.52 L548.36 15.48 L548.69 15.45 L549.03 14.97 L549.37 15.36 L549.71 14.88 L550.04 15.19 L550.38 15.36 L550.72 15.17 L551.05 15.04 L551.39 14.85 L551.73 15.43 L552.06 15.32 L552.4 15.81 L552.74 14.54 L553.08 14.6 L553.41 15.3 L553.75 15.43 L554.09 15.76 L554.42 15.15 L554.76 15.14 L555.1 14.29 L555.43 15.12 L555.77 15.56 L556.11 16.28 L556.45 14.63 L556.78 15.15 L557.12 15.92 L557.46 15.15 L557.79 15.92 L558.13 13.74 L558.47 14.75 L558.8 14.99 L559.14 15.31 L559.48 16.15 L559.82 15.29 L560.15 15.9 L560.49 14.98 L560.83 16.15 L561.16 15.63 L561.5 14.71 L561.84 14.53 L562.17 15.74 L562.51 15.9 L562.85 14.86 L563.19 14.87 L563.52 15.66 L563.86 15.54 L564.2 15.54 L564.53 15.75 L564.87 15.53 L565.21 14.71 L565.54 14.95 L565.88 14.36 L566.22 15.28 L566.56 15.3 L566.89 15.67 L567.23 15.3 L567.57 15.81 L567.9 16.01 L568.24 14.95 L568.58 14.63 L568.91 14.89 L569.25 14.68 L569.59 15.14 L569.93 15.56 L570.26 15.21 L570.6 15.41 L570.94 15.73 L571.27 15.98 L571.61 15.89 L571.95 15.25 L572.28 15.19 L572.62 15.46 L572.96 14.64 L573.3 15.18 L573.63 15.01 L573.97 14.73 L574.31 15.61 L574.64 16.1 L574.98 14.93 L575.32 15.55 L575.65 14.7 L575.99 15.11 L576.33 14.83 L576.67 14.93 L577 16.15 L577.34 14.95 L577.68 15.55 L578.01 15.59 L578.35 15.45 L578.69 14.93 L579.02 14.88 L579.36 14.83 L579.7 15.98 L580.04 15.52 L580.37 16.28 L580.71 15.31 L581.05 15.01 L581.38 15.59 L581.72 15.16 L582.06 15.17 L582.39 14.84 L582.73 15.62 L583.07 15.62 L583.41 15.6 L583.74 14.52 L584.08 14.8 L584.42 15.32 L584.75 15.17 L585.09 15.22 L585.43 15.19 L585.76 15.36 L586.1 15.42 L586.44 15.81 L586.78 15.55 L587.11 14.57 L587.45 15.05 L587.79 15.25 L588.12 15.37 L588.46 15.25 L588.8 15.13 L589.13 15.56 L589.47 15.19 L589.81 15.18 L590.15 15.6 L590.48 15.62 L590.82 15.71 L591.16 15.74 L591.49 14.9 L591.83 16.29 L592.17 15.4 L592.5 15.55 L592.84 15.55 L593.18 15.24 L593.52 14.8 L593.85 15.25 L594.19 15.35 L594.53 15.55 L594.86 15.34 L595.2 14.9 L595.54 15.46 L595.88 15.78 L596.21 15.83 L596.55 15.76 L596.89 15.89 L597.22 14.82 L597.56 15.14 L597.9 15.39 L598.23 14.67 L598.57 15.58 L598.91 14.97 L599.25 14.95 L599.58 15.96 L599.92 15.96 L600.26 15.69 L600.59 14.91 L600.93 14.74 L601.27 15.83 L601.6 14.85 L601.94 15.46 L602.28 15.47 L602.62 15.54 L602.95 15.44 L603.29 16.08 L603.63 15.73 L603.96 15.83 L604.3 15.1 L604.64 14.41 L604.97 14.14 L605.31 15.45 L605.65 16.05 L605.99 15.48 L606.32 15.71 L606.66 14.46 L607 15.07 L607.33 15.63 L607.67 14.91 L608.01 15.09 L608.34 16.01 L608.68 15.55 L609.02 15.42 L609.36 15.31 L609.69 15.26 L610.03 15.47 L610.37 15.24 L610.7 15.58 L611.04 15.71 L611.38 14.68 L611.71 15.17 L612.05 15.14 L612.39 16.02 L612.73 15.4 L613.06 14.98 L613.4 15.89 L613.74 14.87 L614.07 15.51 L614.41 15.17 L614.75 15.4 L615.08 15.25 L615.42 14.83 L615.76 15.52 L616.1 14.68 L616.43 15.69 L616.77 15.75 L617.11 15.05 L617.44 15.82 L617.78 15.52 L618.12 14.98 L618.45 14.85 L618.79 16.13 L619.13 15.16 L619.47 14.57 L619.8 14.87 L620.14 15.49 L620.48 15.64 L620.81 15.52 L621.15 15.89 L621.49 15.51 L621.82 15.48 L622.16 15.47 L622.5 14.9 L622.84 15.51 L623.17 16.05 L623.51 14.97 L623.85 15.89 L624.18 15.63 L624.52 15.5 L624.86 15.6 L625.19 15.88 L625.53 15.57 L625.87 14.53 L626.2 15.74 L626.54 15.54 L626.88 15.01 L627.22 15.18 L627.55 15.18 L627.89 15.15 L628.23 16.37 L628.56 15.91 L628.9 15.49 L629.24 15.34 L629.58 15.01 L629.91 15.38 L630.25 15.7 L630.59 15.59 L630.92 15.71 L631.26 15.53 L631.6 15.36 L631.93 15.81 L632.27 16.03 L632.61 16.07 L632.94 15.25 L633.28 15.19 L633.62 15.33 L633.96 15.41 L634.29 15.44 L634.63 15.82 L634.97 15.56 L635.3 16.32 L635.64 15.99 L635.98 16.24 L636.32 15.64 L636.65 16.24 L636.99 16.07 L637.33 15.88 L637.66 15.51 L638 16.46 L638.34 16.57 L638.67 15.85 L639.01 16.72 L639.35 16.1 L639.68 16.58 L640.02 16.43 L640.36 17.22 L640.7 16.19 L641.03 16.77 L641.37 17 L641.71 15.78 L642.04 16.43 L642.38 15.3 L642.72 16.7 L643.06 17.1 L643.39 16.99 L643.73 16.43 L644.07 17.22 L644.4 17.1 L644.74 17.17 L645.08 17.88 L645.41 17.55 L645.75 17.93 L646.09 18.36 L646.42 17.58 L646.76 17.79 L647.1 18.18 L647.44 18.74 L647.77 19.36 L648.11 18.45 L648.45 18.86 L648.78 19.72 L649.12 19.2 L649.46 20.01 L649.79 19.57 L650.13 19.71 L650.47 19.83 L650.81 20.12 L651.14 20.38 L651.48 21.19 L651.82 21.13 L652.15 21.46 L652.49 21.64 L652.83 21.72 L653.16 21.9 L653.5 21.8 L653.84 23.95 L654.18 23.05 L654.51 23.69 L654.85 23.04" fill="none" stroke="#2a2ae8" stroke-width="2.2" stroke-linejoin="round"/>
<path d="M653.16 22.16 L653.5 22.5 L653.84 22.85 L654.18 23.22 L654.51 23.61 L654.85 24.01 L655.19 24.44 L655.52 24.89 L655.86 25.36 L656.2 25.85 L656.53 26.37 L656.87 26.91 L657.21 27.48 L657.55 28.08 L657.88 28.71 L658.22 29.37 L658.56 30.06 L658.89 30.78 L659.23 31.55 L659.57 32.34 L659.9 33.18 L660.24 34.06 L660.58 34.98 L660.92 35.95 L661.25 36.97 L661.59 38.03 L661.93 39.15 L662.26 40.33 L662.6 41.56 L662.94 42.85 L663.27 44.21 L663.61 45.63 L663.95 47.13 L664.29 48.69 L664.62 50.34 L664.96 52.07 L665.3 53.88 L665.63 55.78 L665.97 57.77 L666.31 59.87 L666.64 62.06 L666.98 64.37 L667.32 66.79 L667.66 69.32 L667.99 71.99 L668.33 74.78 L668.67 77.71 L669 80.79 L669.34 84.02 L669.68 87.41 L670.01 90.97 L670.35 94.7 L670.69 98.61 L671.03 102.72 L671.36 107.04 L671.7 111.56 L672.04 116.31 L672.37 121.29 L672.71 126.52 L673.05 132.01 L673.38 137.76 L673.72 143.81" fill="none" stroke="#2a2ae8" stroke-width="0.9"/>
<circle cx="654.85" cy="24.01" r="1.5" fill="#2a2ae8"/>
<circle cx="656.53" cy="26.37" r="1.5" fill="#2a2ae8"/>
<circle cx="658.22" cy="29.37" r="1.5" fill="#2a2ae8"/>
<circle cx="659.9" cy="33.18" r="1.5" fill="#2a2ae8"/>
<circle cx="661.59" cy="38.03" r="1.5" fill="#2a2ae8"/>
<circle cx="663.27" cy="44.21" r="1.5" fill="#2a2ae8"/>
<circle cx="664.96" cy="52.07" r="1.5" fill="#2a2ae8"/>
<circle cx="666.64" cy="62.06" r="1.5" fill="#2a2ae8"/>
<circle cx="668.33" cy="74.78" r="1.5" fill="#2a2ae8"/>
<circle cx="670.01" cy="90.97" r="1.5" fill="#2a2ae8"/>
<circle cx="671.7" cy="111.56" r="1.5" fill="#2a2ae8"/>
<circle cx="673.38" cy="137.76" r="1.5" fill="#2a2ae8"/>
<circle cx="675.07" cy="171.11" r="1.5" fill="#2a2ae8"/>
<path d="M503.2 14.69 L503.54 15.8 L503.87 14.92 L504.21 15.32 L504.55 14.67 L504.88 15.55 L505.22 15.14 L505.56 15.15 L505.9 15.14 L506.23 15.35 L506.57 15.88 L506.91 14.9 L507.24 14.67 L507.58 15.13 L507.92 15.53 L508.25 15.01 L508.59 14.86 L508.93 15.17 L509.27 15.11 L509.6 14.5 L509.94 15.58 L510.28 15.34 L510.61 15.92 L510.95 15.4 L511.29 15.42 L511.62 15.52 L511.96 15.4 L512.3 14.33 L512.64 15.19 L512.97 15.15 L513.31 14.16 L513.65 15.13 L513.98 15.85 L514.32 14.93 L514.66 15.51 L515 14.41 L515.33 15.64 L515.67 15.36 L516.01 15.8 L516.34 15.07 L516.68 15.55 L517.02 15.14 L517.35 15.27 L517.69 15.38 L518.03 14.71 L518.37 14.71 L518.7 15.09 L519.04 15.5 L519.38 15.57 L519.71 15 L520.05 14.09 L520.39 15.31 L520.72 15.45 L521.06 15.42 L521.4 15.59 L521.74 15.54 L522.07 15.21 L522.41 14.5 L522.75 15.12 L523.08 15.34 L523.42 15.81 L523.76 15.03 L524.09 15.13 L524.43 15.65 L524.77 15.59 L525.11 15.14 L525.44 14.69 L525.78 14.86 L526.12 15.04 L526.45 15.26 L526.79 14.99 L527.13 15.13 L527.46 14.19 L527.8 15.61 L528.14 15.29 L528.48 14.58 L528.81 15.24 L529.15 14.52 L529.49 15.15 L529.82 15.07 L530.16 15.29 L530.5 15.72 L530.83 15.55 L531.17 14.18 L531.51 14.86 L531.85 14.87 L532.18 14.72 L532.52 14.89 L532.86 14.7 L533.19 15.25 L533.53 15.23 L533.87 14.71 L534.2 15.29 L534.54 15.71 L534.88 15.23 L535.22 15.37 L535.55 14.88 L535.89 15.45 L536.23 15.59 L536.56 15.28 L536.9 14.47 L537.24 15.16 L537.57 15.07 L537.91 15.14 L538.25 15.02 L538.59 14.74 L538.92 14.54 L539.26 15.85 L539.6 14.56 L539.93 15.15 L540.27 15.28 L540.61 14.12 L540.94 15.22 L541.28 14.31 L541.62 14.73 L541.96 15.59 L542.29 14.94 L542.63 14.83 L542.97 15.2 L543.3 16.15 L543.64 15.3 L543.98 15.23 L544.31 15.63 L544.65 14.37 L544.99 15.26 L545.33 15.32 L545.66 15.28 L546 15.49 L546.34 15.49 L546.67 15.11 L547.01 15.02 L547.35 15.37 L547.68 15.19 L548.02 15.75 L548.36 14.93 L548.69 15.48 L549.03 15.07 L549.37 15.55 L549.71 15.38 L550.04 15.07 L550.38 15.68 L550.72 14.1 L551.05 15.18 L551.39 15.19 L551.73 15.48 L552.06 14.48 L552.4 14.57 L552.74 15.03 L553.08 15.75 L553.41 15.38 L553.75 14.9 L554.09 15.38 L554.42 15.67 L554.76 15.68 L555.1 15.5 L555.43 15.16 L555.77 15.45 L556.11 15.16 L556.45 13.97 L556.78 14.41 L557.12 15.61 L557.46 15.02 L557.79 15.13 L558.13 15.23 L558.47 14.72 L558.8 15.31 L559.14 15.31 L559.48 15.33 L559.82 15.22 L560.15 14.62 L560.49 14.84 L560.83 15.75 L561.16 15.36 L561.5 15.52 L561.84 14.83 L562.17 15.08 L562.51 14.8 L562.85 15.2 L563.19 16 L563.52 14.99 L563.86 15.08 L564.2 14.96 L564.53 15.74 L564.87 15.15 L565.21 15.48 L565.54 15.48 L565.88 15.03 L566.22 15.03 L566.56 15.57 L566.89 15.92 L567.23 16.25 L567.57 15.43 L567.9 14.7 L568.24 15.21 L568.58 16.15 L568.91 15.56 L569.25 15.01 L569.59 14.47 L569.93 14.69 L570.26 15.03 L570.6 15.1 L570.94 15.64 L571.27 15.38 L571.61 15.33 L571.95 15.52 L572.28 15.16 L572.62 15.36 L572.96 15.05 L573.3 14.58 L573.63 14.88 L573.97 15.02 L574.31 15.3 L574.64 15.85 L574.98 15.24 L575.32 14.96 L575.65 15.63 L575.99 14.66 L576.33 15.34 L576.67 15.04 L577 15.34 L577.34 15.74 L577.68 14.31 L578.01 15.7 L578.35 14.81 L578.69 15.44 L579.02 15.08 L579.36 15.55 L579.7 15.38 L580.04 14.81 L580.37 14.37 L580.71 15.57 L581.05 15.2 L581.38 14.8 L581.72 15.48 L582.06 14.9 L582.39 15.54 L582.73 14.95 L583.07 15.02 L583.41 14.69 L583.74 15.05 L584.08 15.72 L584.42 14.92 L584.75 15.68 L585.09 14.89 L585.43 14.56 L585.76 14.96 L586.1 15.45 L586.44 14.7 L586.78 15.14 L587.11 15.75 L587.45 15.37 L587.79 14.61 L588.12 15.35 L588.46 15.16 L588.8 15.36 L589.13 15.94 L589.47 15.44 L589.81 15.06 L590.15 15.13 L590.48 15.29 L590.82 16.13 L591.16 14.7 L591.49 14.91 L591.83 14.78 L592.17 14.66 L592.5 15.41 L592.84 15.48 L593.18 15.09 L593.52 14.51 L593.85 15.95 L594.19 15.32 L594.53 15.53 L594.86 14.99 L595.2 14.6 L595.54 15.35 L595.88 15.76 L596.21 15.21 L596.55 15.35 L596.89 15.89 L597.22 14.85 L597.56 15.45 L597.9 14.94 L598.23 15.8 L598.57 14.76 L598.91 15.85 L599.25 14.78 L599.58 16.01 L599.92 14.64 L600.26 15.4 L600.59 15.9 L600.93 15.34 L601.27 15.09 L601.6 15.66 L601.94 15.45 L602.28 15.12 L602.62 15.31 L602.95 16.55 L603.29 15.43 L603.63 15.06 L603.96 15.12 L604.3 14.81 L604.64 15.54 L604.97 14.15 L605.31 14.9 L605.65 15.11 L605.99 14.78 L606.32 14.84 L606.66 15.21 L607 15.52 L607.33 14.81 L607.67 15.07 L608.01 16.06 L608.34 15.73 L608.68 15.05 L609.02 15.21 L609.36 15.14 L609.69 14.98 L610.03 15.2 L610.37 14.58 L610.7 15.51 L611.04 15.43 L611.38 15.13 L611.71 14.95 L612.05 14.93 L612.39 14.63 L612.73 15.47 L613.06 14.77 L613.4 15.07 L613.74 15.72 L614.07 15.33 L614.41 14.38 L614.75 14.94 L615.08 15.48 L615.42 16.31 L615.76 15.6 L616.1 15.59 L616.43 15.25 L616.77 14.3 L617.11 14.97 L617.44 15.16 L617.78 15.7 L618.12 15.81 L618.45 15.39 L618.79 15.5 L619.13 14.02 L619.47 15.48 L619.8 15.58 L620.14 14.83 L620.48 15.29 L620.81 15.85 L621.15 14.77 L621.49 15.46 L621.82 15.9 L622.16 15.2 L622.5 15.13 L622.84 15.49 L623.17 15.05 L623.51 15 L623.85 15.74 L624.18 16.25 L624.52 16.39 L624.86 15.43 L625.19 14.85 L625.53 14.96 L625.87 14.8 L626.2 14.6 L626.54 15.4 L626.88 14.96 L627.22 16.08 L627.55 15.13 L627.89 15.27 L628.23 15.49 L628.56 15.64 L628.9 15.94 L629.24 15.41 L629.58 14.94 L629.91 15.65 L630.25 15.28 L630.59 15.8 L630.92 15.42 L631.26 15.98 L631.6 15.4 L631.93 15.67 L632.27 15.45 L632.61 15.87 L632.94 16.13 L633.28 15.78 L633.62 15.21 L633.96 15 L634.29 15.84 L634.63 15.38 L634.97 15.42 L635.3 15.6 L635.64 16.46 L635.98 15.68 L636.32 16.26 L636.65 15.37 L636.99 15.56 L637.33 15.67 L637.66 17.05 L638 15.73 L638.34 15.74 L638.67 16.62 L639.01 15.7 L639.35 16.12 L639.68 16.28 L640.02 16.55 L640.36 16.73 L640.7 16.53 L641.03 15.07 L641.37 16.37 L641.71 16.42 L642.04 16.85 L642.38 16.9 L642.72 16.94 L643.06 17.16 L643.39 16.47 L643.73 17.04 L644.07 16.64 L644.4 17.59 L644.74 16.79 L645.08 17.29 L645.41 17.1 L645.75 17.53 L646.09 17.98 L646.42 17.19 L646.76 18.02 L647.1 18.02 L647.44 18.47 L647.77 18.15 L648.11 18.55 L648.45 18.41 L648.78 18.55 L649.12 19.16 L649.46 19.65 L649.79 19.05 L650.13 19.04 L650.47 19.34 L650.81 20.34 L651.14 19.82 L651.48 20.16 L651.82 20.45 L652.15 20.65 L652.49 21.25 L652.83 21.31 L653.16 21.31 L653.5 22.25 L653.84 22.98 L654.18 22.76 L654.51 23 L654.85 24.27" fill="none" stroke="#e8323c" stroke-width="1.9" stroke-linejoin="round"/>
<path d="M653.16 21.71 L653.5 22.03 L653.84 22.36 L654.18 22.72 L654.51 23.09 L654.85 23.48 L655.19 23.89 L655.52 24.32 L655.86 24.77 L656.2 25.24 L656.53 25.74 L656.87 26.26 L657.21 26.81 L657.55 27.38 L657.88 27.98 L658.22 28.62 L658.56 29.28 L658.89 29.98 L659.23 30.72 L659.57 31.49 L659.9 32.29 L660.24 33.14 L660.58 34.03 L660.92 34.97 L661.25 35.95 L661.59 36.99 L661.93 38.07 L662.26 39.21 L662.6 40.4 L662.94 41.65 L663.27 42.97 L663.61 44.35 L663.95 45.81 L664.29 47.33 L664.62 48.93 L664.96 50.61 L665.3 52.38 L665.63 54.23 L665.97 56.17 L666.31 58.22 L666.64 60.36 L666.98 62.61 L667.32 64.98 L667.66 67.46 L667.99 70.06 L668.33 72.8 L668.67 75.67 L669 78.69 L669.34 81.86 L669.68 85.19 L670.01 88.68 L670.35 92.34 L670.69 96.19 L671.03 100.24 L671.36 104.48 L671.7 108.94 L672.04 113.62 L672.37 118.53 L672.71 123.69 L673.05 129.11 L673.38 134.8 L673.72 140.77 L674.06 147.04" fill="none" stroke="#e8323c" stroke-width="0.9"/>
<circle cx="654.85" cy="23.48" r="1.5" fill="#e8323c"/>
<circle cx="656.53" cy="25.74" r="1.5" fill="#e8323c"/>
<circle cx="658.22" cy="28.62" r="1.5" fill="#e8323c"/>
<circle cx="659.9" cy="32.29" r="1.5" fill="#e8323c"/>
<circle cx="661.59" cy="36.99" r="1.5" fill="#e8323c"/>
<circle cx="663.27" cy="42.97" r="1.5" fill="#e8323c"/>
<circle cx="664.96" cy="50.61" r="1.5" fill="#e8323c"/>
<circle cx="666.64" cy="60.36" r="1.5" fill="#e8323c"/>
<circle cx="668.33" cy="72.8" r="1.5" fill="#e8323c"/>
<circle cx="670.01" cy="88.68" r="1.5" fill="#e8323c"/>
<circle cx="671.7" cy="108.94" r="1.5" fill="#e8323c"/>
<circle cx="673.38" cy="134.8" r="1.5" fill="#e8323c"/>
<circle cx="675.07" cy="167.8" r="1.5" fill="#e8323c"/>
</g>
<rect x="503.2" y="1.3" width="171.2" height="137.7" fill="none" stroke="#5a5a5a" stroke-width="0.9"/>
<line x1="503.2" y1="139" x2="503.2" y2="142.1" stroke="#5a5a5a" stroke-width="0.9"/>
<text x="503.2" y="150.5" font-size="10" fill="#0a0a0a" text-anchor="middle" stroke="#0a0a0a" stroke-width="0.22">0.0</text>
<line x1="545.33" y1="139" x2="545.33" y2="142.1" stroke="#5a5a5a" stroke-width="0.9"/>
<text x="545.33" y="150.5" font-size="10" fill="#0a0a0a" text-anchor="middle" stroke="#0a0a0a" stroke-width="0.22">0.5</text>
<line x1="587.45" y1="139" x2="587.45" y2="142.1" stroke="#5a5a5a" stroke-width="0.9"/>
<text x="587.45" y="150.5" font-size="10" fill="#0a0a0a" text-anchor="middle" stroke="#0a0a0a" stroke-width="0.22">1.0</text>
<line x1="629.58" y1="139" x2="629.58" y2="142.1" stroke="#5a5a5a" stroke-width="0.9"/>
<text x="629.58" y="150.5" font-size="10" fill="#0a0a0a" text-anchor="middle" stroke="#0a0a0a" stroke-width="0.22">1.5</text>
<line x1="671.7" y1="139" x2="671.7" y2="142.1" stroke="#5a5a5a" stroke-width="0.9"/>
<text x="671.7" y="150.5" font-size="10" fill="#0a0a0a" text-anchor="middle" stroke="#0a0a0a" stroke-width="0.22">2.0</text>
<line x1="524.26" y1="139" x2="524.26" y2="140.7" stroke="#5a5a5a" stroke-width="0.7"/>
<line x1="566.39" y1="139" x2="566.39" y2="140.7" stroke="#5a5a5a" stroke-width="0.7"/>
<line x1="608.51" y1="139" x2="608.51" y2="140.7" stroke="#5a5a5a" stroke-width="0.7"/>
<line x1="650.64" y1="139" x2="650.64" y2="140.7" stroke="#5a5a5a" stroke-width="0.7"/>
<line x1="500.8" y1="139" x2="503.2" y2="139" stroke="#5a5a5a" stroke-width="0.9"/>
<text x="498.7" y="142.55" font-size="10" fill="#0a0a0a" text-anchor="end" stroke="#0a0a0a" stroke-width="0.22">0</text>
<line x1="500.8" y1="108.38" x2="503.2" y2="108.38" stroke="#5a5a5a" stroke-width="0.9"/>
<text x="498.7" y="111.92" font-size="10" fill="#0a0a0a" text-anchor="end" stroke="#0a0a0a" stroke-width="0.22">5</text>
<line x1="500.8" y1="77.75" x2="503.2" y2="77.75" stroke="#5a5a5a" stroke-width="0.9"/>
<text x="498.7" y="81.3" font-size="10" fill="#0a0a0a" text-anchor="end" stroke="#0a0a0a" stroke-width="0.22">10</text>
<line x1="500.8" y1="47.12" x2="503.2" y2="47.12" stroke="#5a5a5a" stroke-width="0.9"/>
<text x="498.7" y="50.67" font-size="10" fill="#0a0a0a" text-anchor="end" stroke="#0a0a0a" stroke-width="0.22">15</text>
<line x1="500.8" y1="16.5" x2="503.2" y2="16.5" stroke="#5a5a5a" stroke-width="0.9"/>
<text x="498.7" y="20.05" font-size="10" fill="#0a0a0a" text-anchor="end" stroke="#0a0a0a" stroke-width="0.22">20</text>
<line x1="501.9" y1="123.69" x2="503.2" y2="123.69" stroke="#5a5a5a" stroke-width="0.7"/>
<line x1="501.9" y1="93.06" x2="503.2" y2="93.06" stroke="#5a5a5a" stroke-width="0.7"/>
<line x1="501.9" y1="62.44" x2="503.2" y2="62.44" stroke="#5a5a5a" stroke-width="0.7"/>
<line x1="501.9" y1="31.81" x2="503.2" y2="31.81" stroke="#5a5a5a" stroke-width="0.7"/>
<text x="589" y="167" font-size="11.6" fill="#0a0a0a" text-anchor="middle" stroke="#0a0a0a" stroke-width="0.22">Voltage (V)</text>
<text x="480.9" y="70.5" font-size="11.5" fill="#0a0a0a" text-anchor="middle" transform="rotate(-90 480.9 70.5)" stroke="#0a0a0a" stroke-width="0.22">Current density (mA/cm<tspan font-size="68%" dy="-3.3">2</tspan><tspan dy="3.3">&#8203;</tspan>)</text>
<line x1="511.6" y1="28.6" x2="526.4" y2="28.6" stroke="#2a2ae8" stroke-width="0.8"/>
<circle cx="519" cy="28.6" r="1.3" fill="#2a2ae8"/>
<text x="530.6" y="31.4" font-size="9.1" fill="#0a0a0a" stroke="#0a0a0a" stroke-width="0.22">Reverse</text>
<line x1="511.6" y1="39.6" x2="526.4" y2="39.6" stroke="#e8323c" stroke-width="0.8"/>
<circle cx="519" cy="39.6" r="1.3" fill="#e8323c"/>
<text x="530.6" y="42.4" font-size="9.1" fill="#0a0a0a" stroke="#0a0a0a" stroke-width="0.22">Forward</text>
<line x1="541.6" y1="68" x2="558.6" y2="68" stroke="#2a2ae8" stroke-width="0.8"/>
<circle cx="550" cy="68" r="1.3" fill="#2a2ae8"/>
<line x1="607.4" y1="68" x2="622.2" y2="68" stroke="#e8323c" stroke-width="0.8"/>
<circle cx="614.8" cy="68" r="1.3" fill="#e8323c"/>
<text x="514.6" y="82.9" font-size="9.3" fill="#111" stroke="#111" stroke-width="0.22"><tspan font-style="italic">V</tspan><tspan font-size="70%" dy="2.1">OC</tspan><tspan dy="-2.1">&#8203;</tspan>:</text>
<text x="538.8" y="84.8" font-size="9.3" fill="#2a2ad8" stroke="#2a2ad8" stroke-width="0.22">2.02 V</text>
<text x="605.4" y="84.8" font-size="9.3" fill="#d82c36" stroke="#d82c36" stroke-width="0.22">2.02 V</text>
<text x="514.6" y="95.4" font-size="9.3" fill="#111" stroke="#111" stroke-width="0.22"><tspan font-style="italic">J</tspan><tspan font-size="70%" dy="2.1">SC</tspan><tspan dy="-2.1">&#8203;</tspan>:</text>
<text x="538.8" y="96.3" font-size="9.3" fill="#2a2ad8" stroke="#2a2ad8" stroke-width="0.22">20.22 mA/cm<tspan font-size="68%" dy="-3.3">2</tspan><tspan dy="3.3">&#8203;</tspan></text>
<text x="605.4" y="96.3" font-size="9.3" fill="#d82c36" stroke="#d82c36" stroke-width="0.22">20.23 mA/cm<tspan font-size="68%" dy="-3.3">2</tspan><tspan dy="3.3">&#8203;</tspan></text>
<text x="514.6" y="107.8" font-size="9.3" fill="#111" stroke="#111" stroke-width="0.22">FF:</text>
<text x="538.8" y="107.8" font-size="9.3" fill="#2a2ad8" stroke="#2a2ad8" stroke-width="0.22">83.2%</text>
<text x="605.4" y="107.8" font-size="9.3" fill="#d82c36" stroke="#d82c36" stroke-width="0.22">83.4%</text>
<text x="514.6" y="119.3" font-size="9.3" fill="#111" stroke="#111" stroke-width="0.22">PCE:</text>
<text x="538.8" y="119.3" font-size="9.3" fill="#2a2ad8" stroke="#2a2ad8" stroke-width="0.22">33.91%</text>
<text x="605.4" y="119.3" font-size="9.3" fill="#d82c36" stroke="#d82c36" stroke-width="0.22">34.02%</text>
</g>
<g id="pd">
<text x="215.5" y="193.2" font-size="22.5" fill="#0a0a0a" font-weight="bold">d</text>
<path d="M263.4 203.25 L263.89 202.9 L264.39 203.58 L264.88 202.99 L265.38 203.38 L265.88 203.38 L266.37 202.72 L266.86 203.26 L267.36 203.32 L267.85 203.09 L268.35 202.97 L268.84 203.33 L269.34 203.14 L269.83 203.63 L270.33 203.45 L270.82 203.47 L271.32 203.75 L271.81 203.81 L272.31 203.85 L272.8 203.42 L273.3 203.41 L273.79 203.46 L274.29 203.34 L274.78 203.78 L275.28 203.39 L275.77 203.3 L276.27 203.14 L276.76 203.64 L277.26 203.51 L277.75 204.01 L278.25 203.54 L278.75 204.07 L279.24 203.83 L279.73 203.06 L280.23 204.08 L280.72 203.16 L281.22 203.31 L281.71 203.51 L282.21 203.28 L282.7 203.26 L283.2 203.1 L283.69 203.5 L284.19 203.61 L284.69 203.62 L285.18 203.74 L285.67 203.46 L286.17 203.69 L286.66 203.12 L287.16 204.03 L287.65 203.79 L288.15 203.75 L288.64 204.11 L289.14 202.88 L289.63 204.21 L290.13 203.56 L290.62 203.64 L291.12 202.97 L291.62 204.1 L292.11 203.16 L292.6 203.72 L293.1 203.54 L293.59 203.71 L294.09 203.3 L294.58 203.86 L295.08 203.53 L295.57 203.4 L296.07 202.95 L296.56 204.26 L297.06 203.05 L297.55 203.23 L298.05 203.68 L298.54 203.44 L299.04 203.68 L299.53 203.03 L300.03 203.48 L300.52 203.61 L301.02 203.62 L301.51 203.62 L302.01 203.61 L302.5 203.83 L303 202.93 L303.5 204.16 L303.99 204.69 L304.49 203.61 L304.98 203.63 L305.47 203.47 L305.97 203.65 L306.46 203.64 L306.96 203.49 L307.45 203.3 L307.95 203.74 L308.44 203.72 L308.94 203.01 L309.44 203.45 L309.93 203.92 L310.42 202.9 L310.92 203.38 L311.41 203.81 L311.91 203.99 L312.4 203.54 L312.9 203.89 L313.39 203.97 L313.89 204.04 L314.38 203.8 L314.88 203.31 L315.38 203.79 L315.87 204.11 L316.37 203.45 L316.86 203.64 L317.36 203.41 L317.85 203.3 L318.34 203.73 L318.84 203.72 L319.33 203.7 L319.83 204.04 L320.32 203.48 L320.82 203.27 L321.31 203.64 L321.81 203.77 L322.31 203.78 L322.8 203.95 L323.29 203.96 L323.79 203.84 L324.28 203.98 L324.78 203.86 L325.27 204.21 L325.77 203.62 L326.26 203.72 L326.76 204.09 L327.25 204.45 L327.75 203.74 L328.25 203.41 L328.74 203.98 L329.24 203.9 L329.73 203.93 L330.22 203.56 L330.72 204.05 L331.21 203.46 L331.71 203.86 L332.2 203.49 L332.7 203.77 L333.19 203.85 L333.69 204.24 L334.19 204 L334.68 203.87 L335.17 203.59 L335.67 203.72 L336.16 204.02 L336.66 203.68 L337.15 203.5 L337.65 203.86 L338.14 203.95 L338.64 203.94 L339.13 203.57 L339.63 203.66 L340.12 204.12 L340.62 203.72 L341.12 203.99 L341.61 204.07 L342.1 203.46 L342.6 203.59 L343.09 204.08 L343.59 203.83 L344.08 203.7 L344.58 204.06 L345.07 203.9 L345.57 203.66 L346.06 204.43 L346.56 203.78 L347.05 203.65 L347.55 203.73 L348.04 204.3 L348.54 203.79 L349.03 204.16 L349.53 203.72 L350.02 203.71 L350.52 203.84 L351.01 204.14 L351.51 204.09 L352 203.65 L352.5 204.2 L353 203.77 L353.49 203.77 L353.99 204.02 L354.48 203.19 L354.97 203.91 L355.47 203.28 L355.96 204.57 L356.46 204.64 L356.95 203.65 L357.45 203.76 L357.94 204.05 L358.44 203.98 L358.94 204.55 L359.43 204.16 L359.92 204.29 L360.42 204.04 L360.91 203.71 L361.41 203.97 L361.9 203.87 L362.4 204.21 L362.89 204.13 L363.39 203.96 L363.88 204.09 L364.38 203.61 L364.88 204.28 L365.37 203.43 L365.87 204.32 L366.36 203.69 L366.85 204.26 L367.35 203.52 L367.84 203.99 L368.34 203.91 L368.83 203.81 L369.33 204.24 L369.82 204.36 L370.32 204.67 L370.81 203.67 L371.31 204.27 L371.8 204.24 L372.3 204.07 L372.79 203.45 L373.29 204.6 L373.78 203.99 L374.28 204.2 L374.77 203.91 L375.27 204.64 L375.76 204.21 L376.26 203.83 L376.75 203.61 L377.25 203.6 L377.75 204.36 L378.24 204.09 L378.74 204.14 L379.23 204.53 L379.72 204.56 L380.22 203.88 L380.71 204.04 L381.21 204.17 L381.7 203.75 L382.2 204.44 L382.69 203.97 L383.19 204.13 L383.69 204.16 L384.18 203.99 L384.67 204.09 L385.17 204.07 L385.66 204.07 L386.16 203.56 L386.65 204.26 L387.15 203.85 L387.64 203.98 L388.14 204.28 L388.63 203.93 L389.13 204.44 L389.62 203.83 L390.12 204.44 L390.62 204.34 L391.11 204.09 L391.61 203.94 L392.1 203.92 L392.6 203.93 L393.09 204.27 L393.59 204.51 L394.08 204.05 L394.57 204.13 L395.07 204.52 L395.56 203.93 L396.06 204.17 L396.55 204.53 L397.05 204.1 L397.54 204.65 L398.04 204.51 L398.53 204.12 L399.03 204.73 L399.52 204.24 L400.02 204.68 L400.51 204.03 L401.01 204.49 L401.5 204.21 L402 204.74 L402.5 204.38 L402.99 203.99 L403.49 204.14 L403.98 204.85 L404.48 204 L404.97 204.02 L405.47 204.41 L405.96 203.86 L406.46 204.63 L406.95 204.33 L407.45 203.97 L407.94 203.91 L408.43 203.92 L408.93 204.66 L409.42 204.87 L409.92 204.21 L410.41 204.77 L410.91 204.38 L411.4 204.73 L411.9 204.02 L412.39 204.1 L412.89 204.18 L413.38 204.35 L413.88 204.34 L414.38 204.45 L414.87 204.25 L415.37 204.29 L415.86 204.23 L416.36 204.51 L416.85 203.79 L417.35 204.29 L417.84 203.95 L418.33 203.98 L418.83 204.66 L419.32 204.92 L419.82 204.01 L420.31 204.52 L420.81 204.38 L421.31 204.49 L421.8 204.37 L422.3 204.78 L422.79 204.45 L423.28 204.57 L423.78 204.43 L424.27 205.15 L424.77 204.18 L425.26 204.34 L425.76 204.97 L426.25 204.67 L426.75 204.44 L427.25 204.26 L427.74 204.46 L428.24 204.03 L428.73 204.46 L429.23 204.78 L429.72 204.68 L430.22 204.24 L430.71 204.67 L431.21 204.22 L431.7 204.17 L432.2 204.31 L432.69 204.18 L433.18 204.55 L433.68 204.5" fill="none" stroke="#ee3a44" stroke-width="1.25" stroke-linejoin="round"/>
<rect x="263.4" y="181.4" width="170.2" height="137.2" fill="none" stroke="#5a5a5a" stroke-width="0.9"/>
<line x1="263.4" y1="318.6" x2="263.4" y2="321.7" stroke="#5a5a5a" stroke-width="0.9"/>
<text x="263.4" y="330.1" font-size="10" fill="#0a0a0a" text-anchor="middle" stroke="#0a0a0a" stroke-width="0.22">0</text>
<line x1="290.9" y1="318.6" x2="290.9" y2="321.7" stroke="#5a5a5a" stroke-width="0.9"/>
<text x="290.9" y="330.1" font-size="10" fill="#0a0a0a" text-anchor="middle" stroke="#0a0a0a" stroke-width="0.22">100</text>
<line x1="318.4" y1="318.6" x2="318.4" y2="321.7" stroke="#5a5a5a" stroke-width="0.9"/>
<text x="318.4" y="330.1" font-size="10" fill="#0a0a0a" text-anchor="middle" stroke="#0a0a0a" stroke-width="0.22">200</text>
<line x1="345.9" y1="318.6" x2="345.9" y2="321.7" stroke="#5a5a5a" stroke-width="0.9"/>
<text x="345.9" y="330.1" font-size="10" fill="#0a0a0a" text-anchor="middle" stroke="#0a0a0a" stroke-width="0.22">300</text>
<line x1="373.4" y1="318.6" x2="373.4" y2="321.7" stroke="#5a5a5a" stroke-width="0.9"/>
<text x="373.4" y="330.1" font-size="10" fill="#0a0a0a" text-anchor="middle" stroke="#0a0a0a" stroke-width="0.22">400</text>
<line x1="400.9" y1="318.6" x2="400.9" y2="321.7" stroke="#5a5a5a" stroke-width="0.9"/>
<text x="400.9" y="330.1" font-size="10" fill="#0a0a0a" text-anchor="middle" stroke="#0a0a0a" stroke-width="0.22">500</text>
<line x1="428.4" y1="318.6" x2="428.4" y2="321.7" stroke="#5a5a5a" stroke-width="0.9"/>
<text x="428.4" y="330.1" font-size="10" fill="#0a0a0a" text-anchor="middle" stroke="#0a0a0a" stroke-width="0.22">600</text>
<line x1="277.15" y1="318.6" x2="277.15" y2="320.3" stroke="#5a5a5a" stroke-width="0.7"/>
<line x1="304.65" y1="318.6" x2="304.65" y2="320.3" stroke="#5a5a5a" stroke-width="0.7"/>
<line x1="332.15" y1="318.6" x2="332.15" y2="320.3" stroke="#5a5a5a" stroke-width="0.7"/>
<line x1="359.65" y1="318.6" x2="359.65" y2="320.3" stroke="#5a5a5a" stroke-width="0.7"/>
<line x1="387.15" y1="318.6" x2="387.15" y2="320.3" stroke="#5a5a5a" stroke-width="0.7"/>
<line x1="414.65" y1="318.6" x2="414.65" y2="320.3" stroke="#5a5a5a" stroke-width="0.7"/>
<line x1="261" y1="318.6" x2="263.4" y2="318.6" stroke="#5a5a5a" stroke-width="0.9"/>
<text x="258.9" y="322.15" font-size="10" fill="#0a0a0a" text-anchor="end" stroke="#0a0a0a" stroke-width="0.22">0</text>
<line x1="261" y1="301.45" x2="263.4" y2="301.45" stroke="#5a5a5a" stroke-width="0.9"/>
<text x="258.9" y="305" font-size="10" fill="#0a0a0a" text-anchor="end" stroke="#0a0a0a" stroke-width="0.22">5</text>
<line x1="261" y1="284.3" x2="263.4" y2="284.3" stroke="#5a5a5a" stroke-width="0.9"/>
<text x="258.9" y="287.85" font-size="10" fill="#0a0a0a" text-anchor="end" stroke="#0a0a0a" stroke-width="0.22">10</text>
<line x1="261" y1="267.15" x2="263.4" y2="267.15" stroke="#5a5a5a" stroke-width="0.9"/>
<text x="258.9" y="270.7" font-size="10" fill="#0a0a0a" text-anchor="end" stroke="#0a0a0a" stroke-width="0.22">15</text>
<line x1="261" y1="250" x2="263.4" y2="250" stroke="#5a5a5a" stroke-width="0.9"/>
<text x="258.9" y="253.55" font-size="10" fill="#0a0a0a" text-anchor="end" stroke="#0a0a0a" stroke-width="0.22">20</text>
<line x1="261" y1="232.85" x2="263.4" y2="232.85" stroke="#5a5a5a" stroke-width="0.9"/>
<text x="258.9" y="236.4" font-size="10" fill="#0a0a0a" text-anchor="end" stroke="#0a0a0a" stroke-width="0.22">25</text>
<line x1="261" y1="215.7" x2="263.4" y2="215.7" stroke="#5a5a5a" stroke-width="0.9"/>
<text x="258.9" y="219.25" font-size="10" fill="#0a0a0a" text-anchor="end" stroke="#0a0a0a" stroke-width="0.22">30</text>
<line x1="261" y1="198.55" x2="263.4" y2="198.55" stroke="#5a5a5a" stroke-width="0.9"/>
<text x="258.9" y="202.1" font-size="10" fill="#0a0a0a" text-anchor="end" stroke="#0a0a0a" stroke-width="0.22">35</text>
<line x1="261" y1="181.4" x2="263.4" y2="181.4" stroke="#5a5a5a" stroke-width="0.9"/>
<text x="258.9" y="184.95" font-size="10" fill="#0a0a0a" text-anchor="end" stroke="#0a0a0a" stroke-width="0.22">40</text>
<line x1="262.1" y1="310.03" x2="263.4" y2="310.03" stroke="#5a5a5a" stroke-width="0.7"/>
<line x1="262.1" y1="292.88" x2="263.4" y2="292.88" stroke="#5a5a5a" stroke-width="0.7"/>
<line x1="262.1" y1="275.73" x2="263.4" y2="275.73" stroke="#5a5a5a" stroke-width="0.7"/>
<line x1="262.1" y1="258.58" x2="263.4" y2="258.58" stroke="#5a5a5a" stroke-width="0.7"/>
<line x1="262.1" y1="241.43" x2="263.4" y2="241.43" stroke="#5a5a5a" stroke-width="0.7"/>
<line x1="262.1" y1="224.28" x2="263.4" y2="224.28" stroke="#5a5a5a" stroke-width="0.7"/>
<line x1="262.1" y1="207.12" x2="263.4" y2="207.12" stroke="#5a5a5a" stroke-width="0.7"/>
<line x1="262.1" y1="189.98" x2="263.4" y2="189.98" stroke="#5a5a5a" stroke-width="0.7"/>
<text x="349" y="347.3" font-size="11.6" fill="#0a0a0a" text-anchor="middle" stroke="#0a0a0a" stroke-width="0.22">Time (s)</text>
<text x="243.8" y="249.6" font-size="11.6" fill="#0a0a0a" text-anchor="middle" transform="rotate(-90 243.8 249.6)" stroke="#0a0a0a" stroke-width="0.22">SPO (%)</text>
<text x="316.8" y="219.8" font-size="9.7" fill="#e0303a" stroke="#e0303a" stroke-width="0.22">33.5% @1.77 V</text>
<g id="photo_d">
<g clip-path="url(#cd)">
<rect x="281.5" y="230" width="79.5" height="76" fill="url(#gd1)"/>
<rect x="281.5" y="270" width="79.5" height="36" fill="url(#gd2)"/>
<polygon points="291,236.6 351.6,236 351,297 290.2,296.6" fill="#393632"/>
<polygon points="291,236.6 351.6,236 351.5,239 291,239.4" fill="#4a463d"/>
<ellipse cx="283.5" cy="286" rx="9.6" ry="32" fill="url(#gd3)"/>
<ellipse cx="357.5" cy="290" rx="10.4" ry="27.5" fill="url(#gd4)"/>
<path d="M301 247 H317.2 V250.6 H324.8 V247 H340 V284.8 H324.6 V290.6 H314.4 V284.8 H301 Z" fill="#dfe3df"/>
<rect x="305.4" y="250.6" width="30.6" height="30.4" fill="#0f0f3e"/>
<rect x="314.6" y="248.4" width="11.6" height="4" fill="#0f0f3e"/>
<rect x="314.3" y="250.6" width="1.1" height="13" fill="#dfe3df"/>
<rect x="325.4" y="250.6" width="1.1" height="13" fill="#dfe3df"/>
<rect x="314.3" y="267" width="1.1" height="14" fill="#dfe3df"/>
<rect x="325.4" y="267" width="1.1" height="14" fill="#dfe3df"/>
</g>
</g>
</g>
<g id="pe">
<text x="451.2" y="193.5" font-size="22.5" fill="#0a0a0a" font-weight="bold">e</text>
<g clip-path="url(#ce)">
<path d="M501.8 194.24 L502.56 196.3 L503.33 198.36 L504.09 200.42 L504.86 202.96 L505.62 205.49 L506.38 208.03 L507.15 210.4 L507.91 212.73 L508.68 215.05 L509.44 216.8 L510.2 217.98 L510.97 218.02 L511.73 217.69 L512.5 217.27 L513.26 216.55 L514.02 215.84 L514.79 215.13 L515.55 214.41 L516.32 213.7 L517.08 212.98 L517.84 212.27 L518.61 211.56 L519.37 210.84 L520.14 210.15 L520.9 209.5 L521.66 208.85 L522.43 208.21 L523.19 207.56 L523.96 206.41 L524.72 205.25 L525.48 204.1 L526.25 202.95 L527.01 201.8 L527.78 200.4 L528.54 199 L529.3 197.6 L530.07 196.2 L530.83 194.81 L531.6 193.56 L532.36 192.46 L533.12 191.36 L533.89 190.26 L534.65 189.16 L535.42 188.18 L536.18 187.56 L536.94 186.93 L537.71 186.3 L538.47 185.67 L539.24 185.04 L540 184.75 L540.76 184.45 L541.53 184.15 L542.29 183.85 L543.06 183.56 L543.82 183.26 L544.58 183.22 L545.35 183.18 L546.11 183.15 L546.88 183.11 L547.64 183.07 L548.4 183.03 L549.17 182.99 L549.93 182.99 L550.7 183 L551.46 183 L552.22 183.01 L552.99 183.02 L553.75 183.03 L554.52 183.03 L555.28 183.04 L556.04 183.05 L556.81 183.06 L557.57 183.06 L558.34 183.07 L559.1 183.08 L559.86 183.08 L560.63 183.09 L561.39 183.1 L562.16 183.11 L562.92 183.11 L563.68 183.12 L564.45 183.13 L565.21 183.14 L565.98 183.14 L566.74 183.15 L567.5 183.16 L568.27 183.16 L569.03 183.17 L569.8 183.18 L570.56 183.19 L571.32 183.19 L572.09 183.2 L572.85 183.21 L573.62 183.22 L574.38 183.22 L575.14 183.23 L575.91 183.24 L576.67 183.24 L577.44 183.25 L578.2 183.26 L578.96 183.25 L579.73 183.25 L580.49 183.24 L581.26 183.24 L582.02 183.23 L582.78 183.23 L583.55 183.22 L584.31 183.22 L585.08 183.21 L585.84 183.2 L586.6 183.2 L587.37 183.19 L588.13 183.19 L588.9 183.18 L589.66 183.18 L590.42 183.17 L591.19 183.17 L591.95 183.16 L592.72 183.16 L593.48 183.15 L594.24 183.14 L595.01 183.14 L595.77 183.13 L596.54 183.13 L597.3 183.12 L598.06 183.12 L598.83 183.11 L599.59 183.11 L600.36 183.1 L601.12 183.09 L601.88 183.09 L602.65 183.08 L603.41 183.08 L604.18 183.07 L604.94 183.07 L605.7 183.06 L606.47 183.06 L607.23 183.05 L608 183.05 L608.76 183.04 L609.52 183.03 L610.29 183.03 L611.05 183.02 L611.82 183.02 L612.58 183.01 L613.34 183.01 L614.11 183 L614.87 183 L615.64 182.99 L616.4 182.98 L617.16 183 L617.93 183.01 L618.69 183.03 L619.46 183.04 L620.22 183.05 L620.98 183.07 L621.75 183.08 L622.51 183.09 L623.28 183.11 L624.04 183.12 L624.8 183.14 L625.57 183.15 L626.33 183.16 L627.1 183.18 L627.86 183.19 L628.62 183.2 L629.39 183.22 L630.15 183.23 L630.92 183.25 L631.68 183.26 L632.44 183.4 L633.21 183.53 L633.97 183.67 L634.74 183.81 L635.5 183.95 L636.26 184.28 L637.03 184.61 L637.79 184.93 L638.56 185.26 L639.32 185.59 L640.08 186.19 L640.85 186.78 L641.61 187.37 L642.38 187.96 L643.14 188.55 L643.9 189.14 L644.67 189.86 L645.43 190.69 L646.2 191.53 L646.96 192.37 L647.72 193.2 L648.49 194.05 L649.25 194.94 L650.02 195.83 L650.78 196.72 L651.54 197.61 L652.31 198.5 L653.07 199.49 L653.84 200.49 L654.6 201.48 L655.36 202.47 L656.13 203.47 L656.89 204.34 L657.66 205.18 L658.42 206.02 L659.18 206.86 L659.95 207.69 L660.71 208.41 L661.48 209.02 L662.24 209.62 L663 210.23 L663.77 210.83 L664.53 211.31 L665.3 211.66 L666.06 212.01 L666.82 212.35 L667.59 212.7 L668.35 213.05 L669.12 213.21 L669.88 213.37 L670.64 213.52 L671.41 213.68 L672.17 213.84 L672.94 214 L673.7 214.15" fill="none" stroke="#444" stroke-width="0.8" stroke-dasharray="5.6 3"/>
<path d="M531.4 203.17 L532.36 201.34 L533.32 199.51 L534.27 197.68 L535.23 196.3 L536.18 194.93 L537.13 193.56 L538.09 192.18 L539.04 191.13 L540 190.08 L540.96 189.03 L541.91 188.04 L542.87 187.09 L543.82 186.14 L544.77 185.69 L545.73 185.23 L546.69 184.77 L547.64 184.67 L548.6 184.57 L549.55 184.51 L550.5 184.6 L551.46 184.69 L552.41 184.78 L553.37 184.87 L554.33 184.96 L555.28 185.04 L556.24 185.15 L557.19 185.25 L558.14 185.35 L559.1 185.46 L560.06 185.56 L561.01 185.66 L561.97 185.77 L562.92 185.87 L563.88 185.9 L564.83 185.94 L565.78 185.97 L566.74 186.01 L567.7 186.04 L568.65 186.07 L569.61 186.11 L570.56 186.14 L571.51 186.18 L572.47 186.21 L573.42 186.25 L574.38 186.28 L575.34 186.31 L576.29 186.35 L577.25 186.38 L578.2 186.42 L579.15 186.55 L580.11 186.69 L581.07 186.83 L582.02 186.97 L582.98 187.24 L583.93 187.52 L584.88 187.79 L585.84 186.83 L586.8 185.87 L587.75 185.5 L588.71 185.14 L589.66 184.77" fill="none" stroke="#3b3be0" stroke-width="0.55"/>
<path d="M501.8 317.4 L502.28 317.13 L502.75 316.85 L503.23 316.58 L503.71 316.3 L504.19 316.34 L504.67 316.37 L505.14 316.41 L505.62 316.44 L506.1 316.47 L506.57 316.51 L507.05 316.54 L507.53 316.58 L508.01 316.85 L508.49 317.13 L508.96 317.4 L509.44 317.68 L509.92 317.62 L510.4 317.57 L510.87 317.52 L511.35 317.47 L511.83 317.42 L512.31 317.37 L512.78 317.32 L513.26 317.26 L513.74 317.14 L514.22 317.02 L514.69 316.9 L515.17 316.78 L515.65 316.66 L516.12 316.54 L516.6 316.42 L517.08 316.3 L517.56 316.54 L518.03 316.78 L518.51 317.02 L518.99 317.26 L519.47 317.24 L519.95 317.22 L520.42 317.2 L520.9 317.18 L521.38 317.16 L521.86 317.14 L522.33 317.12 L522.81 317.1 L523.29 317.08 L523.76 317.06 L524.24 317.04 L524.72 317.01 L525.2 316.99 L525.67 316.94 L526.15 316.88 L526.63 316.81 L527.11 316.75 L527.59 316.68 L528.06 316.62 L528.54 316.56 L529.02 316.49 L529.5 316.43 L529.97 316.37 L530.45 316.3 L530.93 316.28 L531.4 316.26 L531.88 316.23 L532.36 316.21 L532.84 316.19 L533.32 316.17 L533.79 316.14 L534.27 316.12 L534.75 316.1 L535.23 316.07 L535.7 316.05 L536.18 316.03 L536.66 315.99 L537.13 315.96 L537.61 315.92 L538.09 315.89 L538.57 315.85 L539.04 315.81 L539.52 315.78 L540 315.74 L540.48 315.71 L540.96 315.67 L541.43 315.64 L541.91 315.6 L542.39 315.56 L542.87 315.53 L543.34 315.49 L543.82 315.46 L544.3 315.42 L544.77 315.39 L545.25 315.35 L545.73 315.26 L546.21 315.17 L546.69 315.07 L547.16 314.98 L547.64 314.88 L548.12 314.78 L548.6 314.69 L549.07 314.59 L549.55 314.49 L550.03 314.4 L550.5 314.3 L550.98 314.2 L551.46 314.11 L551.94 313.97 L552.41 313.83 L552.89 313.69 L553.37 313.56 L553.85 313.42 L554.33 313.28 L554.8 313.15 L555.28 313.01 L555.76 312.87 L556.24 312.73 L556.71 312.6 L557.19 312.46 L557.67 312.32 L558.14 312.18 L558.62 312.05 L559.1 311.91 L559.58 311.74 L560.06 311.57 L560.53 311.39 L561.01 311.22 L561.49 311.05 L561.97 310.88 L562.44 310.71 L562.92 310.54 L563.4 310.36 L563.88 310.19 L564.35 310.02 L564.83 309.85 L565.31 309.67 L565.78 309.43 L566.26 309.2 L566.74 308.97 L567.22 308.73 L567.7 308.5 L568.17 308.27 L568.65 308.04 L569.13 307.8 L569.61 307.57 L570.08 307.34 L570.56 307.1 L571.04 306.86 L571.51 306.62 L571.99 306.38 L572.47 306.14 L572.95 305.9 L573.42 305.66 L573.9 305.42 L574.38 305.18 L574.86 304.94 L575.34 304.7 L575.81 304.46 L576.29 304.22 L576.77 303.98 L577.25 303.75 L577.72 303.51 L578.2 303.28 L578.68 303.04 L579.15 302.8 L579.63 302.37 L580.11 301.8 L580.59 301.22 L581.07 300.65 L581.54 299.22 L582.02 297.79 L582.5 294.95 L582.98 291.18 L583.45 286.06 L583.93 280.06 L584.41 271.82 L584.88 263.58 L585.36 253.97 L585.84 244.36 L586.32 234.75 L586.8 225.14 L587.27 216.9 L587.75 208.66 L588.23 203.17 L588.71 197.68 L589.18 194.24 L589.66 190.81 L590.14 189.54 L590.62 188.26 L591.09 187.12 L591.57 186.54 L592.05 185.95 L592.52 185.57 L593 185.52 L593.48 185.47 L593.96 185.41 L594.44 185.36 L594.91 185.31 L595.39 185.26 L595.87 185.2 L596.35 185.15 L596.82 185.1 L597.3 185.04 L597.78 185.03 L598.25 185.02 L598.73 185 L599.21 184.99 L599.69 184.98 L600.16 184.96 L600.64 184.95 L601.12 184.93 L601.6 184.92 L602.08 184.91 L602.55 184.89 L603.03 184.88 L603.51 184.87 L603.99 184.85 L604.46 184.84 L604.94 184.82 L605.42 184.81 L605.89 184.8 L606.37 184.78 L606.85 184.77 L607.33 184.75 L607.81 184.73 L608.28 184.71 L608.76 184.69 L609.24 184.67 L609.72 184.65 L610.19 184.63 L610.67 184.61 L611.15 184.58 L611.62 184.56 L612.1 184.54 L612.58 184.52 L613.06 184.5 L613.53 184.48 L614.01 184.46 L614.49 184.44 L614.97 184.42 L615.45 184.4 L615.92 184.38 L616.4 184.36 L616.88 184.38 L617.36 184.41 L617.83 184.43 L618.31 184.46 L618.79 184.48 L619.26 184.51 L619.74 184.53 L620.22 184.56 L620.7 184.58 L621.17 184.61 L621.65 184.63 L622.13 184.66 L622.61 184.68 L623.09 184.71 L623.56 184.73 L624.04 184.76 L624.52 184.92 L625 185.16 L625.47 185.41 L625.95 185.65 L626.43 185.9 L626.9 186.14 L627.38 186.7 L627.86 187.25 L628.34 187.8 L628.82 188.35 L629.29 188.91 L629.77 189.46 L630.25 190.01 L630.73 190.63 L631.2 191.25 L631.68 191.88 L632.16 192.5 L632.63 193.13 L633.11 193.75 L633.59 194.38 L634.07 195.07 L634.55 195.75 L635.02 196.44 L635.5 197.13 L635.98 197.81 L636.46 198.5 L636.93 199.19 L637.41 199.87 L637.89 200.56 L638.37 201.25 L638.84 202.25 L639.32 203.26 L639.8 204.27 L640.27 205.27 L640.75 206.28 L641.23 207.29 L641.71 208.53 L642.18 209.78 L642.66 211.02 L643.14 212.26 L643.62 213.51 L644.1 214.75 L644.57 216.54 L645.05 218.7 L645.53 220.86 L646 223.02 L646.48 225.18 L646.96 227.33 L647.44 229.49 L647.91 231.65 L648.39 233.75 L648.87 235.63 L649.35 237.51 L649.83 239.39 L650.3 241.27 L650.78 243.15 L651.26 245.03 L651.74 246.91 L652.21 248.79 L652.69 250.88 L653.17 253.02 L653.64 255.16 L654.12 257.3 L654.6 259.44 L655.08 261.58 L655.56 263.72 L656.03 265.87 L656.51 267.96 L656.99 269.99 L657.47 272.01 L657.94 274.04 L658.42 276.07 L658.9 278.09 L659.38 280.12 L659.85 282.15 L660.33 284.18 L660.81 286.04 L661.29 287.91 L661.76 289.77 L662.24 291.64 L662.72 293.51 L663.2 295.37 L663.67 297.02 L664.15 298.51 L664.63 300.01 L665.11 301.5 L665.58 303 L666.06 304.5 L666.54 305.64 L667.01 306.78 L667.49 307.93 L667.97 309.07 L668.45 310.17 L668.92 311.06 L669.4 311.96 L669.88 312.86 L670.36 313.76 L670.84 314.66 L671.31 315.32 L671.79 315.98 L672.27 316.64 L672.75 317.3 L673.22 317.96 L673.7 318.5" fill="none" stroke="#e8323c" stroke-width="1.05" stroke-linejoin="round"/>
<path d="M500.6 316.2h2.4v2.4h-2.4zM502.51 315.1h2.4v2.4h-2.4zM504.42 315.24h2.4v2.4h-2.4zM506.33 315.38h2.4v2.4h-2.4zM508.24 316.48h2.4v2.4h-2.4zM510.15 316.27h2.4v2.4h-2.4zM512.06 316.06h2.4v2.4h-2.4zM513.97 315.58h2.4v2.4h-2.4zM515.88 315.1h2.4v2.4h-2.4zM517.79 316.06h2.4v2.4h-2.4zM519.7 315.98h2.4v2.4h-2.4zM521.61 315.9h2.4v2.4h-2.4zM523.52 315.81h2.4v2.4h-2.4zM525.43 315.61h2.4v2.4h-2.4zM527.34 315.36h2.4v2.4h-2.4zM529.25 315.1h2.4v2.4h-2.4zM531.16 315.01h2.4v2.4h-2.4zM533.07 314.92h2.4v2.4h-2.4zM534.98 314.83h2.4v2.4h-2.4zM536.89 314.69h2.4v2.4h-2.4zM538.8 314.54h2.4v2.4h-2.4zM540.71 314.4h2.4v2.4h-2.4zM542.62 314.26h2.4v2.4h-2.4zM544.53 314.06h2.4v2.4h-2.4zM546.44 313.68h2.4v2.4h-2.4zM548.35 313.29h2.4v2.4h-2.4zM550.26 312.91h2.4v2.4h-2.4zM552.17 312.36h2.4v2.4h-2.4zM554.08 311.81h2.4v2.4h-2.4zM555.99 311.26h2.4v2.4h-2.4zM557.9 310.71h2.4v2.4h-2.4zM559.81 310.02h2.4v2.4h-2.4zM561.72 309.34h2.4v2.4h-2.4zM563.63 308.65h2.4v2.4h-2.4zM565.54 307.77h2.4v2.4h-2.4zM567.45 306.84h2.4v2.4h-2.4zM569.36 305.9h2.4v2.4h-2.4zM571.27 304.94h2.4v2.4h-2.4zM573.18 303.98h2.4v2.4h-2.4zM575.09 303.02h2.4v2.4h-2.4zM577 302.08h2.4v2.4h-2.4zM578.91 300.6h2.4v2.4h-2.4zM580.82 296.59h2.4v2.4h-2.4zM582.73 278.86h2.4v2.4h-2.4zM584.64 243.16h2.4v2.4h-2.4zM586.55 207.46h2.4v2.4h-2.4zM588.46 189.61h2.4v2.4h-2.4zM590.37 185.34h2.4v2.4h-2.4zM592.28 184.27h2.4v2.4h-2.4zM594.19 184.06h2.4v2.4h-2.4zM596.1 183.84h2.4v2.4h-2.4zM598.01 183.79h2.4v2.4h-2.4zM599.92 183.73h2.4v2.4h-2.4zM601.83 183.68h2.4v2.4h-2.4zM603.74 183.62h2.4v2.4h-2.4zM605.65 183.57h2.4v2.4h-2.4zM607.56 183.49h2.4v2.4h-2.4zM609.47 183.41h2.4v2.4h-2.4zM611.38 183.32h2.4v2.4h-2.4zM613.29 183.24h2.4v2.4h-2.4zM615.2 183.16h2.4v2.4h-2.4zM617.11 183.26h2.4v2.4h-2.4zM619.02 183.36h2.4v2.4h-2.4zM620.93 183.46h2.4v2.4h-2.4zM622.84 183.56h2.4v2.4h-2.4zM624.75 184.45h2.4v2.4h-2.4zM626.66 186.05h2.4v2.4h-2.4zM628.57 188.26h2.4v2.4h-2.4zM630.48 190.68h2.4v2.4h-2.4zM632.39 193.18h2.4v2.4h-2.4zM634.3 195.93h2.4v2.4h-2.4zM636.21 198.67h2.4v2.4h-2.4zM638.12 202.06h2.4v2.4h-2.4zM640.03 206.09h2.4v2.4h-2.4zM641.94 211.06h2.4v2.4h-2.4zM643.85 217.5h2.4v2.4h-2.4zM645.76 226.13h2.4v2.4h-2.4zM647.67 234.43h2.4v2.4h-2.4zM649.58 241.95h2.4v2.4h-2.4zM651.49 249.68h2.4v2.4h-2.4zM653.4 258.24h2.4v2.4h-2.4zM655.31 266.76h2.4v2.4h-2.4zM657.22 274.87h2.4v2.4h-2.4zM659.13 282.98h2.4v2.4h-2.4zM661.04 290.44h2.4v2.4h-2.4zM662.95 297.31h2.4v2.4h-2.4zM664.86 303.3h2.4v2.4h-2.4zM666.77 307.87h2.4v2.4h-2.4zM668.68 311.66h2.4v2.4h-2.4zM670.59 314.78h2.4v2.4h-2.4zM672.5 317.3h2.4v2.4h-2.4z" fill="#e8323c"/>
<path d="M501.8 271.82 L502.28 269.07 L502.75 266.33 L503.23 263.58 L503.71 260.83 L504.19 259.98 L504.67 259.12 L505.14 258.26 L505.62 257.4 L506.1 256.89 L506.57 256.37 L507.05 255.86 L507.53 255.34 L508.01 255 L508.49 254.66 L508.96 254.31 L509.44 253.97 L509.92 253.63 L510.4 253.28 L510.87 252.06 L511.35 250.83 L511.83 249.55 L512.31 248.05 L512.78 246.55 L513.26 245.04 L513.74 243.5 L514.22 241.96 L514.69 240.41 L515.17 238.87 L515.65 237.49 L516.12 236.12 L516.6 234.75 L517.08 233.37 L517.56 232.09 L518.03 230.8 L518.51 229.51 L518.99 228.23 L519.47 227.02 L519.95 226.17 L520.42 225.31 L520.9 224.45 L521.38 223.59 L521.86 222.73 L522.33 221.88 L522.81 221.02 L523.29 220.17 L523.76 219.32 L524.24 218.47 L524.72 217.61 L525.2 216.76 L525.67 215.91 L526.15 215.06 L526.63 214.21 L527.11 213.36 L527.59 212.5 L528.06 211.63 L528.54 210.76 L529.02 209.89 L529.5 209.02 L529.97 208.16 L530.45 207.29 L530.93 206.28 L531.4 205.27 L531.88 204.27 L532.36 203.26 L532.84 202.25 L533.32 201.25 L533.79 200.54 L534.27 199.83 L534.75 199.12 L535.23 198.41 L535.7 197.7 L536.18 196.99 L536.66 196.51 L537.13 196.02 L537.61 195.54 L538.09 195.06 L538.57 194.57 L539.04 194.09 L539.52 193.61 L540 193.12 L540.48 192.64 L540.96 192.16 L541.43 191.71 L541.91 191.4 L542.39 191.08 L542.87 190.77 L543.34 190.46 L543.82 190.14 L544.3 189.83 L544.77 189.52 L545.25 189.2 L545.73 188.89 L546.21 188.74 L546.69 188.6 L547.16 188.46 L547.64 188.31 L548.12 188.17 L548.6 188.02 L549.07 187.88 L549.55 187.86 L550.03 188.02 L550.5 188.18 L550.98 188.35 L551.46 188.51 L551.94 188.67 L552.41 188.84 L552.89 189 L553.37 189.16 L553.85 189.42 L554.33 189.67 L554.8 189.92 L555.28 190.17 L555.76 190.42 L556.24 190.67 L556.71 190.93 L557.19 191.18 L557.67 191.43 L558.14 191.68 L558.62 191.93 L559.1 192.18 L559.58 192.42 L560.06 192.66 L560.53 192.89 L561.01 193.13 L561.49 193.36 L561.97 193.6 L562.44 193.84 L562.92 194.07 L563.4 194.31 L563.88 194.54 L564.35 194.78 L564.83 195.02 L565.31 195.26 L565.78 195.53 L566.26 195.8 L566.74 196.07 L567.22 196.34 L567.7 196.61 L568.17 196.88 L568.65 197.15 L569.13 197.42 L569.61 197.69 L570.08 197.96 L570.56 198.23 L571.04 198.39 L571.51 198.55 L571.99 198.71 L572.47 198.87 L572.95 199.03 L573.42 199.19 L573.9 199.35 L574.38 199.51 L574.86 199.67 L575.34 199.83 L575.81 199.99 L576.29 200.15 L576.77 200.31 L577.25 200.47 L577.72 200.64 L578.2 200.8 L578.68 200.96 L579.15 201.13 L579.63 201.29 L580.11 201.46 L580.59 202.5 L581.07 204.13 L581.54 205.76 L582.02 207.97 L582.5 211.06 L582.98 214.15 L583.45 219.64 L583.93 225.14 L584.41 233.37 L584.88 241.61 L585.36 251.91 L585.84 262.21 L586.32 271.13 L586.8 280.06 L587.27 287.81 L587.75 295.57 L588.23 300.86 L588.71 306.14 L589.18 309.37 L589.66 312.6 L590.14 313.97 L590.62 315.34 L591.09 316.55 L591.57 317.09 L592.05 317.63 L592.52 317.97 L593 318.02 L593.48 318.08 L593.96 318.13 L594.44 318.18 L594.91 318.24 L595.39 318.29 L595.87 318.34 L596.35 318.39 L596.82 318.45 L597.3 318.5" fill="none" stroke="#2a2ae8" stroke-width="1.05" stroke-linejoin="round"/>
<path d="M500.6 270.62h2.4v2.4h-2.4zM502.51 259.63h2.4v2.4h-2.4zM504.42 256.2h2.4v2.4h-2.4zM506.33 254.14h2.4v2.4h-2.4zM508.24 252.77h2.4v2.4h-2.4zM510.15 249.63h2.4v2.4h-2.4zM512.06 243.84h2.4v2.4h-2.4zM513.97 237.67h2.4v2.4h-2.4zM515.88 232.17h2.4v2.4h-2.4zM517.79 227.03h2.4v2.4h-2.4zM519.7 223.25h2.4v2.4h-2.4zM521.61 219.82h2.4v2.4h-2.4zM523.52 216.41h2.4v2.4h-2.4zM525.43 213.01h2.4v2.4h-2.4zM527.34 209.56h2.4v2.4h-2.4zM529.25 206.09h2.4v2.4h-2.4zM531.16 202.06h2.4v2.4h-2.4zM533.07 198.63h2.4v2.4h-2.4zM534.98 195.79h2.4v2.4h-2.4zM536.89 193.86h2.4v2.4h-2.4zM538.8 191.92h2.4v2.4h-2.4zM540.71 190.2h2.4v2.4h-2.4zM542.62 188.94h2.4v2.4h-2.4zM544.53 187.69h2.4v2.4h-2.4zM546.44 187.11h2.4v2.4h-2.4zM548.35 186.66h2.4v2.4h-2.4zM550.26 187.31h2.4v2.4h-2.4zM552.17 187.96h2.4v2.4h-2.4zM554.08 188.97h2.4v2.4h-2.4zM555.99 189.98h2.4v2.4h-2.4zM557.9 190.98h2.4v2.4h-2.4zM559.81 191.93h2.4v2.4h-2.4zM561.72 192.87h2.4v2.4h-2.4zM563.63 193.82h2.4v2.4h-2.4zM565.54 194.87h2.4v2.4h-2.4zM567.45 195.95h2.4v2.4h-2.4zM569.36 197.03h2.4v2.4h-2.4zM571.27 197.67h2.4v2.4h-2.4zM573.18 198.31h2.4v2.4h-2.4zM575.09 198.95h2.4v2.4h-2.4zM577 199.6h2.4v2.4h-2.4zM578.91 200.26h2.4v2.4h-2.4zM580.82 206.77h2.4v2.4h-2.4zM582.73 223.94h2.4v2.4h-2.4zM584.64 261.01h2.4v2.4h-2.4zM586.55 294.37h2.4v2.4h-2.4zM588.46 311.4h2.4v2.4h-2.4zM590.37 315.89h2.4v2.4h-2.4zM592.28 316.88h2.4v2.4h-2.4zM594.19 317.09h2.4v2.4h-2.4zM596.1 317.3h2.4v2.4h-2.4z" fill="#2a2ae8"/>
</g>
<rect x="501.8" y="181.2" width="171.8" height="137.3" fill="none" stroke="#5a5a5a" stroke-width="0.9"/>
<line x1="520.9" y1="318.5" x2="520.9" y2="321.6" stroke="#5a5a5a" stroke-width="0.9"/>
<text x="520.9" y="330" font-size="10" fill="#0a0a0a" text-anchor="middle" stroke="#0a0a0a" stroke-width="0.22">400</text>
<line x1="559.1" y1="318.5" x2="559.1" y2="321.6" stroke="#5a5a5a" stroke-width="0.9"/>
<text x="559.1" y="330" font-size="10" fill="#0a0a0a" text-anchor="middle" stroke="#0a0a0a" stroke-width="0.22">600</text>
<line x1="597.3" y1="318.5" x2="597.3" y2="321.6" stroke="#5a5a5a" stroke-width="0.9"/>
<text x="597.3" y="330" font-size="10" fill="#0a0a0a" text-anchor="middle" stroke="#0a0a0a" stroke-width="0.22">800</text>
<line x1="635.5" y1="318.5" x2="635.5" y2="321.6" stroke="#5a5a5a" stroke-width="0.9"/>
<text x="635.5" y="330" font-size="10" fill="#0a0a0a" text-anchor="middle" stroke="#0a0a0a" stroke-width="0.22">1000</text>
<line x1="673.7" y1="318.5" x2="673.7" y2="321.6" stroke="#5a5a5a" stroke-width="0.9"/>
<text x="673.7" y="330" font-size="10" fill="#0a0a0a" text-anchor="middle" stroke="#0a0a0a" stroke-width="0.22">1200</text>
<line x1="501.8" y1="318.5" x2="501.8" y2="320.2" stroke="#5a5a5a" stroke-width="0.7"/>
<line x1="540" y1="318.5" x2="540" y2="320.2" stroke="#5a5a5a" stroke-width="0.7"/>
<line x1="578.2" y1="318.5" x2="578.2" y2="320.2" stroke="#5a5a5a" stroke-width="0.7"/>
<line x1="616.4" y1="318.5" x2="616.4" y2="320.2" stroke="#5a5a5a" stroke-width="0.7"/>
<line x1="654.6" y1="318.5" x2="654.6" y2="320.2" stroke="#5a5a5a" stroke-width="0.7"/>
<line x1="499.4" y1="318.5" x2="501.8" y2="318.5" stroke="#5a5a5a" stroke-width="0.9"/>
<text x="497.3" y="322.05" font-size="10" fill="#0a0a0a" text-anchor="end" stroke="#0a0a0a" stroke-width="0.22">0</text>
<line x1="499.4" y1="291.04" x2="501.8" y2="291.04" stroke="#5a5a5a" stroke-width="0.9"/>
<text x="497.3" y="294.59" font-size="10" fill="#0a0a0a" text-anchor="end" stroke="#0a0a0a" stroke-width="0.22">20</text>
<line x1="499.4" y1="263.58" x2="501.8" y2="263.58" stroke="#5a5a5a" stroke-width="0.9"/>
<text x="497.3" y="267.13" font-size="10" fill="#0a0a0a" text-anchor="end" stroke="#0a0a0a" stroke-width="0.22">40</text>
<line x1="499.4" y1="236.12" x2="501.8" y2="236.12" stroke="#5a5a5a" stroke-width="0.9"/>
<text x="497.3" y="239.67" font-size="10" fill="#0a0a0a" text-anchor="end" stroke="#0a0a0a" stroke-width="0.22">60</text>
<line x1="499.4" y1="208.66" x2="501.8" y2="208.66" stroke="#5a5a5a" stroke-width="0.9"/>
<text x="497.3" y="212.21" font-size="10" fill="#0a0a0a" text-anchor="end" stroke="#0a0a0a" stroke-width="0.22">80</text>
<line x1="499.4" y1="181.2" x2="501.8" y2="181.2" stroke="#5a5a5a" stroke-width="0.9"/>
<text x="497.3" y="184.75" font-size="10" fill="#0a0a0a" text-anchor="end" stroke="#0a0a0a" stroke-width="0.22">100</text>
<line x1="500.5" y1="304.77" x2="501.8" y2="304.77" stroke="#5a5a5a" stroke-width="0.7"/>
<line x1="500.5" y1="277.31" x2="501.8" y2="277.31" stroke="#5a5a5a" stroke-width="0.7"/>
<line x1="500.5" y1="249.85" x2="501.8" y2="249.85" stroke="#5a5a5a" stroke-width="0.7"/>
<line x1="500.5" y1="222.39" x2="501.8" y2="222.39" stroke="#5a5a5a" stroke-width="0.7"/>
<line x1="500.5" y1="194.93" x2="501.8" y2="194.93" stroke="#5a5a5a" stroke-width="0.7"/>
<text x="587.3" y="347.3" font-size="11.5" fill="#0a0a0a" text-anchor="middle" stroke="#0a0a0a" stroke-width="0.22">Wavelength (nm)</text>
<text x="479.2" y="249.8" font-size="11.6" fill="#0a0a0a" text-anchor="middle" transform="rotate(-90 479.2 249.8)" stroke="#0a0a0a" stroke-width="0.22">EQE (%)</text>
<text x="511.4" y="200.6" font-size="8.6" fill="#3a3a3a">1-R<tspan font-size="70%" dy="2.1"><tspan font-style="italic">f</tspan></tspan><tspan dy="-2.1">&#8203;</tspan></text>
<text x="513" y="267.6" font-size="8.65" fill="#2a2ad8" stroke="#2a2ad8" stroke-width="0.22"><tspan font-style="italic">J</tspan><tspan font-size="70%" dy="2.1">SC</tspan><tspan dy="-2.1">&#8203;</tspan>= 20.1 mA/cm<tspan font-size="68%" dy="-3.3">2</tspan><tspan dy="3.3">&#8203;</tspan></text>
<text x="587.6" y="282.4" font-size="8.5" fill="#d82c36" stroke="#d82c36" stroke-width="0.22"><tspan font-style="italic">J</tspan><tspan font-size="70%" dy="2.1">SC</tspan><tspan dy="-2.1">&#8203;</tspan>= 19.9 mA/cm<tspan font-size="68%" dy="-3.3">2</tspan><tspan dy="3.3">&#8203;</tspan></text>
<line x1="511.4" y1="287.2" x2="527.6" y2="287.2" stroke="#2a2ae8" stroke-width="0.8"/>
<rect x="518.4" y="286.1" width="2.2" height="2.2" fill="#2a2ae8"/>
<text x="530" y="289.8" font-size="9" fill="#0a0a0a" stroke="#0a0a0a" stroke-width="0.22">Perovskite</text>
<line x1="511.4" y1="298.2" x2="527.6" y2="298.2" stroke="#e8323c" stroke-width="0.8"/>
<rect x="518.4" y="297.1" width="2.2" height="2.2" fill="#e8323c"/>
<text x="530" y="300.8" font-size="9" fill="#0a0a0a" stroke="#0a0a0a" stroke-width="0.22">Silicon</text>
</g>
<g id="pf">
<text x="0.6" y="372" font-size="22.5" fill="#0a0a0a" font-weight="bold">f</text>
<g clip-path="url(#cf)">
<path d="M36.9 381.25 L37.72 381.26 L38.55 381.27 L39.37 381.29 L40.2 381.3 L41.02 381.31 L41.85 381.32 L42.67 381.33 L43.5 381.34 L44.32 381.35 L45.14 381.36 L45.97 381.37 L46.79 381.38 L47.62 381.39 L48.44 381.4 L49.27 381.41 L50.09 381.42 L50.92 381.43 L51.74 381.44 L52.57 381.45 L53.39 381.46 L54.21 381.47 L55.04 381.48 L55.86 381.49 L56.69 381.5 L57.51 381.51 L58.34 381.52 L59.16 381.53 L59.99 381.54 L60.81 381.55 L61.63 381.56 L62.46 381.57 L63.28 381.58 L64.11 381.59 L64.93 381.6 L65.76 381.61 L66.58 381.62 L67.41 381.63 L68.23 381.64 L69.06 381.65 L69.88 381.66 L70.7 381.67 L71.53 381.68 L72.35 381.7 L73.18 381.71 L74 381.72 L74.83 381.73 L75.65 381.74 L76.48 381.75 L77.3 381.76 L78.12 381.77 L78.95 381.78 L79.77 381.79 L80.6 381.8 L81.42 381.81 L82.25 381.82 L83.07 381.83 L83.9 381.84 L84.72 381.85 L85.55 381.86 L86.37 381.87 L87.19 381.88 L88.02 381.89 L88.84 381.9 L89.67 381.91 L90.49 381.92 L91.32 381.93 L92.14 381.94 L92.97 381.95 L93.79 381.96 L94.62 381.97 L95.44 381.98 L96.26 381.99 L97.09 382 L97.91 382.01 L98.74 382.02 L99.56 382.03 L100.39 382.04 L101.21 382.05 L102.04 382.06 L102.86 382.07 L103.68 382.08 L104.51 382.09 L105.33 382.11 L106.16 382.12 L106.98 382.13 L107.81 382.14 L108.63 382.15 L109.46 382.16 L110.28 382.17 L111.1 382.18 L111.93 382.19 L112.75 382.2 L113.58 382.21 L114.4 382.22 L115.23 382.23 L116.05 382.24 L116.88 382.25 L117.7 382.26 L118.53 382.27 L119.35 382.28 L120.17 382.29 L121 382.3 L121.82 382.31 L122.65 382.32 L123.47 382.33 L124.3 382.34 L125.12 382.35 L125.95 382.36 L126.77 382.37 L127.59 382.38 L128.42 382.39 L129.24 382.41 L130.07 382.42 L130.89 382.43 L131.72 382.44 L132.54 382.45 L133.37 382.46 L134.19 382.47 L135.02 382.48 L135.84 382.49 L136.66 382.5 L137.49 382.51 L138.31 382.53 L139.14 382.54 L139.96 382.55 L140.79 382.56 L141.61 382.57 L142.44 382.59 L143.26 382.6 L144.09 382.61 L144.91 382.63 L145.73 382.64 L146.56 382.65 L147.38 382.67 L148.21 382.69 L149.03 382.7 L149.86 382.72 L150.68 382.74 L151.51 382.76 L152.33 382.78 L153.15 382.8 L153.98 382.82 L154.8 382.84 L155.63 382.87 L156.45 382.9 L157.28 382.93 L158.1 382.96 L158.93 383 L159.75 383.03 L160.58 383.08 L161.4 383.12 L162.22 383.17 L163.05 383.23 L163.87 383.29 L164.7 383.36 L165.52 383.44 L166.35 383.52 L167.17 383.61 L168 383.72 L168.82 383.84 L169.64 383.97 L170.47 384.11 L171.29 384.27 L172.12 384.46 L172.94 384.66 L173.77 384.89 L174.59 385.14 L175.42 385.43 L176.24 385.75 L177.06 386.12 L177.89 386.52 L178.71 386.98 L179.54 387.49 L180.36 388.07 L181.19 388.72 L182.01 389.46 L182.84 390.28 L183.66 391.21 L184.49 392.25 L185.31 393.43 L186.13 394.75 L186.96 396.24 L187.78 397.92 L188.61 399.82 L189.43 401.95 L190.26 404.35 L191.08 407.05 L191.91 410.1 L192.73 413.54 L193.56 417.41" fill="none" stroke="#3a3ae6" stroke-width="3"/>
<path d="M36.9 503 L37.72 502.22 L38.55 501.43 L39.37 500.65 L40.2 499.87 L41.02 499.08 L41.85 498.3 L42.67 497.52 L43.5 496.74 L44.32 495.95 L45.14 495.17 L45.97 494.39 L46.79 493.61 L47.62 492.83 L48.44 492.05 L49.27 491.26 L50.09 490.48 L50.92 489.7 L51.74 488.92 L52.57 488.14 L53.39 487.36 L54.21 486.58 L55.04 485.8 L55.86 485.02 L56.69 484.24 L57.51 483.46 L58.34 482.68 L59.16 481.9 L59.99 481.12 L60.81 480.34 L61.63 479.56 L62.46 478.78 L63.28 478 L64.11 477.22 L64.93 476.44 L65.76 475.66 L66.58 474.88 L67.41 474.11 L68.23 473.33 L69.06 472.55 L69.88 471.77 L70.7 470.99 L71.53 470.21 L72.35 469.44 L73.18 468.66 L74 467.88 L74.83 467.1 L75.65 466.33 L76.48 465.55 L77.3 464.77 L78.12 464 L78.95 463.22 L79.77 462.44 L80.6 461.67 L81.42 460.89 L82.25 460.11 L83.07 459.34 L83.9 458.56 L84.72 457.79 L85.55 457.01 L86.37 456.24 L87.19 455.46 L88.02 454.68 L88.84 453.91 L89.67 453.13 L90.49 452.36 L91.32 451.58 L92.14 450.81 L92.97 450.04 L93.79 449.26 L94.62 448.49 L95.44 447.71 L96.26 446.94 L97.09 446.17 L97.91 445.39 L98.74 444.62 L99.56 443.84 L100.39 443.07 L101.21 442.3 L102.04 441.53 L102.86 440.75 L103.68 439.98 L104.51 439.21 L105.33 438.43 L106.16 437.66 L106.98 436.89 L107.81 436.12 L108.63 435.35 L109.46 434.57 L110.28 433.8 L111.1 433.03 L111.93 432.26 L112.75 431.49 L113.58 430.72 L114.4 429.95 L115.23 429.18 L116.05 428.4 L116.88 427.63 L117.7 426.86 L118.53 426.09 L119.35 425.32 L120.17 424.55 L121 423.78 L121.82 423.01 L122.65 422.24 L123.47 421.47 L124.3 420.7 L125.12 419.94 L125.95 419.17 L126.77 418.4 L127.59 417.63 L128.42 416.86 L129.24 416.09 L130.07 415.32 L130.89 414.56 L131.72 413.79 L132.54 413.02 L133.37 412.25 L134.19 411.49 L135.02 410.72 L135.84 409.95 L136.66 409.18 L137.49 408.42 L138.31 407.65 L139.14 406.89 L139.96 406.12 L140.79 405.36 L141.61 404.59 L142.44 403.83 L143.26 403.06 L144.09 402.3 L144.91 401.53 L145.73 400.77 L146.56 400.01 L147.38 399.25 L148.21 398.49 L149.03 397.73 L149.86 396.97 L150.68 396.21 L151.51 395.45 L152.33 394.7 L153.15 393.94 L153.98 393.19 L154.8 392.44 L155.63 391.69 L156.45 390.94 L157.28 390.2 L158.1 389.46 L158.93 388.72 L159.75 387.98 L160.58 387.25 L161.4 386.53 L162.22 385.8 L163.05 385.09 L163.87 384.38 L164.7 383.68 L165.52 382.98 L166.35 382.3 L167.17 381.63 L168 380.97 L168.82 380.32 L169.64 379.69 L170.47 379.07 L171.29 378.48 L172.12 377.91 L172.94 377.36 L173.77 376.84 L174.59 376.36 L175.42 375.91 L176.24 375.5 L177.06 375.14 L177.89 374.84 L178.71 374.6 L179.54 374.42 L180.36 374.33 L181.19 374.32 L182.01 374.41 L182.84 374.62 L183.66 374.96 L184.49 375.44 L185.31 376.09 L186.13 376.93 L186.96 377.98 L187.78 379.27 L188.61 380.84 L189.43 382.71 L190.26 384.93 L191.08 387.55 L191.91 390.62 L192.73 394.2 L193.56 398.36" fill="none" stroke="#3a3ae6" stroke-width="3"/>
<path d="M191.91 410.1 L192.07 410.76 L192.24 411.43 L192.4 412.12 L192.57 412.82 L192.73 413.54 L192.9 414.28 L193.06 415.03 L193.23 415.81 L193.39 416.6 L193.56 417.41 L193.72 418.24 L193.88 419.09 L194.05 419.97 L194.21 420.86 L194.38 421.77 L194.54 422.71 L194.71 423.67 L194.87 424.65 L195.04 425.66 L195.2 426.69 L195.37 427.74 L195.53 428.83 L195.7 429.93 L195.86 431.07 L196.03 432.23 L196.19 433.42 L196.36 434.64 L196.52 435.89 L196.69 437.16 L196.85 438.47 L197.02 439.81 L197.18 441.19 L197.35 442.59 L197.51 444.04 L197.68 445.51 L197.84 447.02 L198.01 448.57 L198.17 450.15 L198.34 451.78 L198.5 453.44 L198.67 455.14 L198.83 456.89 L199 458.68 L199.16 460.51 L199.33 462.38 L199.49 464.3 L199.66 466.27 L199.82 468.28 L199.99 470.34 L200.15 472.46 L200.32 474.62 L200.48 476.83 L200.65 479.1 L200.81 481.43 L200.98 483.81 L201.14 486.25 L201.31 488.75 L201.47 491.31 L201.64 493.93 L201.8 496.61 L201.96 499.36 L202.13 502.17 L202.29 505.06" fill="none" stroke="#3a3ae6" stroke-width="0.9"/>
<path d="M191.91 390.62 L192.07 391.3 L192.24 391.99 L192.4 392.71 L192.57 393.45 L192.73 394.2 L192.9 394.99 L193.06 395.79 L193.23 396.63 L193.39 397.48 L193.56 398.36 L193.72 399.27 L193.88 400.2 L194.05 401.16 L194.21 402.15 L194.38 403.17 L194.54 404.22 L194.71 405.3 L194.87 406.41 L195.04 407.55 L195.2 408.72 L195.37 409.93 L195.53 411.17 L195.7 412.45 L195.86 413.76 L196.03 415.11 L196.19 416.5 L196.36 417.93 L196.52 419.39 L196.69 420.9 L196.85 422.45 L197.02 424.04 L197.18 425.68 L197.35 427.36 L197.51 429.09 L197.68 430.87 L197.84 432.69 L198.01 434.56 L198.17 436.49 L198.34 438.47 L198.5 440.5 L198.67 442.59 L198.83 444.73 L199 446.93 L199.16 449.19 L199.33 451.51 L199.49 453.89 L199.66 456.34 L199.82 458.86 L199.99 461.44 L200.15 464.08 L200.32 466.8 L200.48 469.6 L200.65 472.46 L200.81 475.41 L200.98 478.43 L201.14 481.53 L201.31 484.71 L201.47 487.98 L201.64 491.33 L201.8 494.78 L201.96 498.31 L202.13 501.93 L202.29 505.65" fill="none" stroke="#3a3ae6" stroke-width="0.9"/>
<path d="M175.31 384.37h3.5v3.5h-3.5zM175.31 373.39h3.5v3.5h-3.5zM176.35 384.88h3.5v3.5h-3.5zM176.35 373.02h3.5v3.5h-3.5zM177.38 385.48h3.5v3.5h-3.5zM177.38 372.75h3.5v3.5h-3.5zM178.41 386.17h3.5v3.5h-3.5zM178.41 372.59h3.5v3.5h-3.5zM179.44 386.97h3.5v3.5h-3.5zM179.44 372.57h3.5v3.5h-3.5zM180.47 387.9h3.5v3.5h-3.5zM180.47 372.7h3.5v3.5h-3.5zM181.5 388.98h3.5v3.5h-3.5zM181.5 373.02h3.5v3.5h-3.5zM182.53 390.23h3.5v3.5h-3.5zM182.53 373.56h3.5v3.5h-3.5zM183.56 391.68h3.5v3.5h-3.5zM183.56 374.34h3.5v3.5h-3.5zM184.59 393.36h3.5v3.5h-3.5zM184.59 375.42h3.5v3.5h-3.5zM185.62 395.31h3.5v3.5h-3.5zM185.62 376.84h3.5v3.5h-3.5zM186.65 397.57h3.5v3.5h-3.5zM186.65 378.67h3.5v3.5h-3.5zM187.68 400.2h3.5v3.5h-3.5zM187.68 380.96h3.5v3.5h-3.5zM188.71 403.25h3.5v3.5h-3.5zM188.71 383.8h3.5v3.5h-3.5zM189.74 406.78h3.5v3.5h-3.5zM189.74 387.28h3.5v3.5h-3.5zM190.77 410.89h3.5v3.5h-3.5zM190.77 391.51h3.5v3.5h-3.5zM191.81 415.66h3.5v3.5h-3.5zM191.81 396.61h3.5v3.5h-3.5zM192.84 421.2h3.5v3.5h-3.5zM192.84 402.74h3.5v3.5h-3.5zM193.87 427.63h3.5v3.5h-3.5zM193.87 410.06h3.5v3.5h-3.5zM194.9 435.09h3.5v3.5h-3.5zM194.9 418.77h3.5v3.5h-3.5zM195.93 443.76h3.5v3.5h-3.5zM195.93 429.12h3.5v3.5h-3.5zM196.96 453.83h3.5v3.5h-3.5zM196.96 441.37h3.5v3.5h-3.5zM197.99 465.52h3.5v3.5h-3.5zM197.99 455.84h3.5v3.5h-3.5zM199.02 479.09h3.5v3.5h-3.5zM199.02 472.91h3.5v3.5h-3.5zM200.05 494.86h3.5v3.5h-3.5zM200.05 493.03h3.5v3.5h-3.5z" fill="#3a3ae6"/>
<path d="M36.9 381.19 L37.72 381.2 L38.55 381.21 L39.37 381.22 L40.2 381.24 L41.02 381.25 L41.85 381.26 L42.67 381.27 L43.5 381.28 L44.32 381.29 L45.14 381.3 L45.97 381.31 L46.79 381.32 L47.62 381.33 L48.44 381.34 L49.27 381.35 L50.09 381.36 L50.92 381.37 L51.74 381.38 L52.57 381.39 L53.39 381.4 L54.21 381.41 L55.04 381.42 L55.86 381.43 L56.69 381.44 L57.51 381.45 L58.34 381.46 L59.16 381.47 L59.99 381.48 L60.81 381.49 L61.63 381.5 L62.46 381.51 L63.28 381.52 L64.11 381.53 L64.93 381.54 L65.76 381.55 L66.58 381.56 L67.41 381.57 L68.23 381.58 L69.06 381.59 L69.88 381.6 L70.7 381.61 L71.53 381.62 L72.35 381.63 L73.18 381.65 L74 381.66 L74.83 381.67 L75.65 381.68 L76.48 381.69 L77.3 381.7 L78.12 381.71 L78.95 381.72 L79.77 381.73 L80.6 381.74 L81.42 381.75 L82.25 381.76 L83.07 381.77 L83.9 381.78 L84.72 381.79 L85.55 381.8 L86.37 381.81 L87.19 381.82 L88.02 381.83 L88.84 381.84 L89.67 381.85 L90.49 381.86 L91.32 381.87 L92.14 381.88 L92.97 381.89 L93.79 381.9 L94.62 381.91 L95.44 381.92 L96.26 381.93 L97.09 381.94 L97.91 381.95 L98.74 381.96 L99.56 381.97 L100.39 381.98 L101.21 381.99 L102.04 382 L102.86 382.01 L103.68 382.02 L104.51 382.03 L105.33 382.04 L106.16 382.06 L106.98 382.07 L107.81 382.08 L108.63 382.09 L109.46 382.1 L110.28 382.11 L111.1 382.12 L111.93 382.13 L112.75 382.14 L113.58 382.15 L114.4 382.16 L115.23 382.17 L116.05 382.18 L116.88 382.19 L117.7 382.2 L118.53 382.21 L119.35 382.22 L120.17 382.23 L121 382.24 L121.82 382.25 L122.65 382.26 L123.47 382.27 L124.3 382.28 L125.12 382.29 L125.95 382.3 L126.77 382.31 L127.59 382.32 L128.42 382.33 L129.24 382.34 L130.07 382.36 L130.89 382.37 L131.72 382.38 L132.54 382.39 L133.37 382.4 L134.19 382.41 L135.02 382.42 L135.84 382.43 L136.66 382.44 L137.49 382.45 L138.31 382.47 L139.14 382.48 L139.96 382.49 L140.79 382.5 L141.61 382.51 L142.44 382.53 L143.26 382.54 L144.09 382.55 L144.91 382.56 L145.73 382.58 L146.56 382.59 L147.38 382.61 L148.21 382.62 L149.03 382.64 L149.86 382.66 L150.68 382.67 L151.51 382.69 L152.33 382.71 L153.15 382.73 L153.98 382.75 L154.8 382.78 L155.63 382.8 L156.45 382.83 L157.28 382.86 L158.1 382.89 L158.93 382.93 L159.75 382.96 L160.58 383.01 L161.4 383.05 L162.22 383.1 L163.05 383.16 L163.87 383.22 L164.7 383.28 L165.52 383.36 L166.35 383.44 L167.17 383.53 L168 383.63 L168.82 383.75 L169.64 383.88 L170.47 384.02 L171.29 384.18 L172.12 384.36 L172.94 384.56 L173.77 384.78 L174.59 385.03 L175.42 385.31 L176.24 385.63 L177.06 385.99 L177.89 386.39 L178.71 386.84 L179.54 387.35 L180.36 387.92 L181.19 388.56 L182.01 389.29 L182.84 390.1 L183.66 391.02 L184.49 392.05 L185.31 393.22 L186.13 394.53 L186.96 396.01 L187.78 397.68 L188.61 399.56 L189.43 401.69 L190.26 404.08 L191.08 406.77 L191.91 409.81 L192.73 413.24 L193.56 417.11" fill="none" stroke="#ee3844" stroke-width="2.7"/>
<path d="M36.9 503 L37.72 502.22 L38.55 501.43 L39.37 500.65 L40.2 499.87 L41.02 499.08 L41.85 498.3 L42.67 497.52 L43.5 496.73 L44.32 495.95 L45.14 495.17 L45.97 494.39 L46.79 493.6 L47.62 492.82 L48.44 492.04 L49.27 491.26 L50.09 490.48 L50.92 489.7 L51.74 488.91 L52.57 488.13 L53.39 487.35 L54.21 486.57 L55.04 485.79 L55.86 485.01 L56.69 484.23 L57.51 483.45 L58.34 482.67 L59.16 481.89 L59.99 481.11 L60.81 480.33 L61.63 479.55 L62.46 478.77 L63.28 477.99 L64.11 477.21 L64.93 476.43 L65.76 475.65 L66.58 474.87 L67.41 474.09 L68.23 473.31 L69.06 472.53 L69.88 471.76 L70.7 470.98 L71.53 470.2 L72.35 469.42 L73.18 468.64 L74 467.86 L74.83 467.09 L75.65 466.31 L76.48 465.53 L77.3 464.75 L78.12 463.98 L78.95 463.2 L79.77 462.42 L80.6 461.65 L81.42 460.87 L82.25 460.09 L83.07 459.32 L83.9 458.54 L84.72 457.76 L85.55 456.99 L86.37 456.21 L87.19 455.44 L88.02 454.66 L88.84 453.88 L89.67 453.11 L90.49 452.33 L91.32 451.56 L92.14 450.78 L92.97 450.01 L93.79 449.23 L94.62 448.46 L95.44 447.69 L96.26 446.91 L97.09 446.14 L97.91 445.36 L98.74 444.59 L99.56 443.82 L100.39 443.04 L101.21 442.27 L102.04 441.49 L102.86 440.72 L103.68 439.95 L104.51 439.18 L105.33 438.4 L106.16 437.63 L106.98 436.86 L107.81 436.08 L108.63 435.31 L109.46 434.54 L110.28 433.77 L111.1 433 L111.93 432.22 L112.75 431.45 L113.58 430.68 L114.4 429.91 L115.23 429.14 L116.05 428.37 L116.88 427.6 L117.7 426.83 L118.53 426.05 L119.35 425.28 L120.17 424.51 L121 423.74 L121.82 422.97 L122.65 422.2 L123.47 421.43 L124.3 420.66 L125.12 419.89 L125.95 419.12 L126.77 418.36 L127.59 417.59 L128.42 416.82 L129.24 416.05 L130.07 415.28 L130.89 414.51 L131.72 413.74 L132.54 412.97 L133.37 412.21 L134.19 411.44 L135.02 410.67 L135.84 409.9 L136.66 409.14 L137.49 408.37 L138.31 407.6 L139.14 406.84 L139.96 406.07 L140.79 405.31 L141.61 404.54 L142.44 403.78 L143.26 403.01 L144.09 402.25 L144.91 401.48 L145.73 400.72 L146.56 399.96 L147.38 399.19 L148.21 398.43 L149.03 397.67 L149.86 396.91 L150.68 396.15 L151.51 395.4 L152.33 394.64 L153.15 393.89 L153.98 393.13 L154.8 392.38 L155.63 391.63 L156.45 390.88 L157.28 390.14 L158.1 389.39 L158.93 388.65 L159.75 387.92 L160.58 387.18 L161.4 386.46 L162.22 385.73 L163.05 385.02 L163.87 384.31 L164.7 383.6 L165.52 382.91 L166.35 382.22 L167.17 381.54 L168 380.88 L168.82 380.23 L169.64 379.59 L170.47 378.98 L171.29 378.38 L172.12 377.8 L172.94 377.25 L173.77 376.73 L174.59 376.24 L175.42 375.78 L176.24 375.37 L177.06 375.01 L177.89 374.69 L178.71 374.44 L179.54 374.26 L180.36 374.15 L181.19 374.14 L182.01 374.22 L182.84 374.42 L183.66 374.74 L184.49 375.22 L185.31 375.85 L186.13 376.68 L186.96 377.71 L187.78 378.99 L188.61 380.54 L189.43 382.4 L190.26 384.61 L191.08 387.21 L191.91 390.27 L192.73 393.84 L193.56 397.99" fill="none" stroke="#ee3844" stroke-width="2.7"/>
<path d="M191.91 409.81 L192.07 410.47 L192.24 411.13 L192.4 411.82 L192.57 412.52 L192.73 413.24 L192.9 413.98 L193.06 414.73 L193.23 415.5 L193.39 416.3 L193.56 417.11 L193.72 417.94 L193.88 418.79 L194.05 419.66 L194.21 420.55 L194.38 421.47 L194.54 422.4 L194.71 423.36 L194.87 424.34 L195.04 425.35 L195.2 426.38 L195.37 427.44 L195.53 428.52 L195.7 429.63 L195.86 430.76 L196.03 431.93 L196.19 433.12 L196.36 434.34 L196.52 435.59 L196.69 436.87 L196.85 438.18 L197.02 439.52 L197.18 440.9 L197.35 442.31 L197.51 443.75 L197.68 445.23 L197.84 446.75 L198.01 448.3 L198.17 449.89 L198.34 451.52 L198.5 453.18 L198.67 454.89 L198.83 456.64 L199 458.44 L199.16 460.27 L199.33 462.15 L199.49 464.08 L199.66 466.06 L199.82 468.08 L199.99 470.15 L200.15 472.27 L200.32 474.45 L200.48 476.67 L200.65 478.95 L200.81 481.29 L200.98 483.68 L201.14 486.14 L201.31 488.65 L201.47 491.22 L201.64 493.86 L201.8 496.56 L201.96 499.32 L202.13 502.15 L202.29 505.06" fill="none" stroke="#ee3844" stroke-width="0.9"/>
<path d="M191.91 390.27 L192.07 390.94 L192.24 391.64 L192.4 392.35 L192.57 393.08 L192.73 393.84 L192.9 394.62 L193.06 395.43 L193.23 396.26 L193.39 397.11 L193.56 397.99 L193.72 398.9 L193.88 399.83 L194.05 400.79 L194.21 401.78 L194.38 402.8 L194.54 403.84 L194.71 404.92 L194.87 406.03 L195.04 407.17 L195.2 408.34 L195.37 409.55 L195.53 410.79 L195.7 412.07 L195.86 413.38 L196.03 414.74 L196.19 416.12 L196.36 417.55 L196.52 419.02 L196.69 420.53 L196.85 422.08 L197.02 423.68 L197.18 425.32 L197.35 427 L197.51 428.73 L197.68 430.51 L197.84 432.34 L198.01 434.22 L198.17 436.15 L198.34 438.14 L198.5 440.17 L198.67 442.27 L198.83 444.42 L199 446.63 L199.16 448.89 L199.33 451.22 L199.49 453.62 L199.66 456.07 L199.82 458.6 L199.99 461.19 L200.15 463.85 L200.32 466.58 L200.48 469.39 L200.65 472.27 L200.81 475.23 L200.98 478.27 L201.14 481.38 L201.31 484.59 L201.47 487.87 L201.64 491.24 L201.8 494.71 L201.96 498.26 L202.13 501.91 L202.29 505.65" fill="none" stroke="#ee3844" stroke-width="0.9"/>
<path d="M175.62 384.54h2.9v2.9h-2.9zM175.62 373.56h2.9v2.9h-2.9zM176.65 385.05h2.9v2.9h-2.9zM176.65 373.17h2.9v2.9h-2.9zM177.68 385.64h2.9v2.9h-2.9zM177.68 372.89h2.9v2.9h-2.9zM178.71 386.32h2.9v2.9h-2.9zM178.71 372.72h2.9v2.9h-2.9zM179.74 387.11h2.9v2.9h-2.9zM179.74 372.69h2.9v2.9h-2.9zM180.77 388.03h2.9v2.9h-2.9zM180.77 372.81h2.9v2.9h-2.9zM181.8 389.1h2.9v2.9h-2.9zM181.8 373.11h2.9v2.9h-2.9zM182.83 390.33h2.9v2.9h-2.9zM182.83 373.63h2.9v2.9h-2.9zM183.86 391.77h2.9v2.9h-2.9zM183.86 374.4h2.9v2.9h-2.9zM184.89 393.44h2.9v2.9h-2.9zM184.89 375.46h2.9v2.9h-2.9zM185.92 395.37h2.9v2.9h-2.9zM185.92 376.87h2.9v2.9h-2.9zM186.95 397.62h2.9v2.9h-2.9zM186.95 378.67h2.9v2.9h-2.9zM187.98 400.24h2.9v2.9h-2.9zM187.98 380.95h2.9v2.9h-2.9zM189.01 403.27h2.9v2.9h-2.9zM189.01 383.77h2.9v2.9h-2.9zM190.04 406.8h2.9v2.9h-2.9zM190.04 387.23h2.9v2.9h-2.9zM191.07 410.89h2.9v2.9h-2.9zM191.07 391.45h2.9v2.9h-2.9zM192.11 415.66h2.9v2.9h-2.9zM192.11 396.54h2.9v2.9h-2.9zM193.14 421.19h2.9v2.9h-2.9zM193.14 402.66h2.9v2.9h-2.9zM194.17 427.62h2.9v2.9h-2.9zM194.17 409.98h2.9v2.9h-2.9zM195.2 435.09h2.9v2.9h-2.9zM195.2 418.7h2.9v2.9h-2.9zM196.23 443.78h2.9v2.9h-2.9zM196.23 429.06h2.9v2.9h-2.9zM197.26 453.88h2.9v2.9h-2.9zM197.26 441.35h2.9v2.9h-2.9zM198.29 465.61h2.9v2.9h-2.9zM198.29 455.88h2.9v2.9h-2.9zM199.32 479.25h2.9v2.9h-2.9zM199.32 473.03h2.9v2.9h-2.9zM200.35 495.11h2.9v2.9h-2.9zM200.35 493.26h2.9v2.9h-2.9z" fill="#ee3844"/>
</g>
<rect x="36.9" y="367.6" width="169.3" height="135.4" fill="none" stroke="#5a5a5a" stroke-width="0.9"/>
<line x1="36.9" y1="503" x2="36.9" y2="506.1" stroke="#5a5a5a" stroke-width="0.9"/>
<text x="36.9" y="515.3" font-size="9.5" fill="#0a0a0a" text-anchor="middle" stroke="#0a0a0a" stroke-width="0.22">0.0</text>
<line x1="78.12" y1="503" x2="78.12" y2="506.1" stroke="#5a5a5a" stroke-width="0.9"/>
<text x="78.12" y="515.3" font-size="9.5" fill="#0a0a0a" text-anchor="middle" stroke="#0a0a0a" stroke-width="0.22">0.5</text>
<line x1="119.35" y1="503" x2="119.35" y2="506.1" stroke="#5a5a5a" stroke-width="0.9"/>
<text x="119.35" y="515.3" font-size="9.5" fill="#0a0a0a" text-anchor="middle" stroke="#0a0a0a" stroke-width="0.22">1.0</text>
<line x1="160.58" y1="503" x2="160.58" y2="506.1" stroke="#5a5a5a" stroke-width="0.9"/>
<text x="160.58" y="515.3" font-size="9.5" fill="#0a0a0a" text-anchor="middle" stroke="#0a0a0a" stroke-width="0.22">1.5</text>
<line x1="201.8" y1="503" x2="201.8" y2="506.1" stroke="#5a5a5a" stroke-width="0.9"/>
<text x="201.8" y="515.3" font-size="9.5" fill="#0a0a0a" text-anchor="middle" stroke="#0a0a0a" stroke-width="0.22">2.0</text>
<line x1="57.51" y1="503" x2="57.51" y2="504.7" stroke="#5a5a5a" stroke-width="0.7"/>
<line x1="98.74" y1="503" x2="98.74" y2="504.7" stroke="#5a5a5a" stroke-width="0.7"/>
<line x1="139.96" y1="503" x2="139.96" y2="504.7" stroke="#5a5a5a" stroke-width="0.7"/>
<line x1="181.19" y1="503" x2="181.19" y2="504.7" stroke="#5a5a5a" stroke-width="0.7"/>
<line x1="34.5" y1="503" x2="36.9" y2="503" stroke="#5a5a5a" stroke-width="0.9"/>
<text x="32.4" y="506.37" font-size="9.5" fill="#0a0a0a" text-anchor="end" stroke="#0a0a0a" stroke-width="0.22">0</text>
<line x1="34.5" y1="472.85" x2="36.9" y2="472.85" stroke="#5a5a5a" stroke-width="0.9"/>
<text x="32.4" y="476.22" font-size="9.5" fill="#0a0a0a" text-anchor="end" stroke="#0a0a0a" stroke-width="0.22">5</text>
<line x1="34.5" y1="442.7" x2="36.9" y2="442.7" stroke="#5a5a5a" stroke-width="0.9"/>
<text x="32.4" y="446.07" font-size="9.5" fill="#0a0a0a" text-anchor="end" stroke="#0a0a0a" stroke-width="0.22">10</text>
<line x1="34.5" y1="412.55" x2="36.9" y2="412.55" stroke="#5a5a5a" stroke-width="0.9"/>
<text x="32.4" y="415.92" font-size="9.5" fill="#0a0a0a" text-anchor="end" stroke="#0a0a0a" stroke-width="0.22">15</text>
<line x1="34.5" y1="382.4" x2="36.9" y2="382.4" stroke="#5a5a5a" stroke-width="0.9"/>
<text x="32.4" y="385.77" font-size="9.5" fill="#0a0a0a" text-anchor="end" stroke="#0a0a0a" stroke-width="0.22">20</text>
<line x1="35.6" y1="487.93" x2="36.9" y2="487.93" stroke="#5a5a5a" stroke-width="0.7"/>
<line x1="35.6" y1="457.77" x2="36.9" y2="457.77" stroke="#5a5a5a" stroke-width="0.7"/>
<line x1="35.6" y1="427.62" x2="36.9" y2="427.62" stroke="#5a5a5a" stroke-width="0.7"/>
<line x1="35.6" y1="397.48" x2="36.9" y2="397.48" stroke="#5a5a5a" stroke-width="0.7"/>
<line x1="206.2" y1="503" x2="208.6" y2="503" stroke="#5a5a5a" stroke-width="0.9"/>
<text x="210.2" y="506.37" font-size="9.5" fill="#0a0a0a" stroke="#0a0a0a" stroke-width="0.22">0</text>
<line x1="206.2" y1="483.6" x2="208.6" y2="483.6" stroke="#5a5a5a" stroke-width="0.9"/>
<text x="210.2" y="486.97" font-size="9.5" fill="#0a0a0a" stroke="#0a0a0a" stroke-width="0.22">5</text>
<line x1="206.2" y1="464.2" x2="208.6" y2="464.2" stroke="#5a5a5a" stroke-width="0.9"/>
<text x="210.2" y="467.57" font-size="9.5" fill="#0a0a0a" stroke="#0a0a0a" stroke-width="0.22">10</text>
<line x1="206.2" y1="444.8" x2="208.6" y2="444.8" stroke="#5a5a5a" stroke-width="0.9"/>
<text x="210.2" y="448.17" font-size="9.5" fill="#0a0a0a" stroke="#0a0a0a" stroke-width="0.22">15</text>
<line x1="206.2" y1="425.4" x2="208.6" y2="425.4" stroke="#5a5a5a" stroke-width="0.9"/>
<text x="210.2" y="428.77" font-size="9.5" fill="#0a0a0a" stroke="#0a0a0a" stroke-width="0.22">20</text>
<line x1="206.2" y1="406" x2="208.6" y2="406" stroke="#5a5a5a" stroke-width="0.9"/>
<text x="210.2" y="409.37" font-size="9.5" fill="#0a0a0a" stroke="#0a0a0a" stroke-width="0.22">25</text>
<line x1="206.2" y1="386.6" x2="208.6" y2="386.6" stroke="#5a5a5a" stroke-width="0.9"/>
<text x="210.2" y="389.97" font-size="9.5" fill="#0a0a0a" stroke="#0a0a0a" stroke-width="0.22">30</text>
<line x1="206.2" y1="367.2" x2="208.6" y2="367.2" stroke="#5a5a5a" stroke-width="0.9"/>
<text x="210.2" y="370.57" font-size="9.5" fill="#0a0a0a" stroke="#0a0a0a" stroke-width="0.22">35</text>
<line x1="206.2" y1="493.3" x2="207.5" y2="493.3" stroke="#5a5a5a" stroke-width="0.7"/>
<line x1="206.2" y1="473.9" x2="207.5" y2="473.9" stroke="#5a5a5a" stroke-width="0.7"/>
<line x1="206.2" y1="454.5" x2="207.5" y2="454.5" stroke="#5a5a5a" stroke-width="0.7"/>
<line x1="206.2" y1="435.1" x2="207.5" y2="435.1" stroke="#5a5a5a" stroke-width="0.7"/>
<line x1="206.2" y1="415.7" x2="207.5" y2="415.7" stroke="#5a5a5a" stroke-width="0.7"/>
<line x1="206.2" y1="396.3" x2="207.5" y2="396.3" stroke="#5a5a5a" stroke-width="0.7"/>
<line x1="206.2" y1="376.9" x2="207.5" y2="376.9" stroke="#5a5a5a" stroke-width="0.7"/>
<text x="121.5" y="532" font-size="11.5" fill="#0a0a0a" text-anchor="middle" stroke="#0a0a0a" stroke-width="0.22">Voltage (V)</text>
<text x="18.2" y="436" font-size="11.3" fill="#0a0a0a" text-anchor="middle" transform="rotate(-90 18.2 436)" stroke="#0a0a0a" stroke-width="0.22">Current density (mA/cm<tspan font-size="68%" dy="-3.3">2</tspan><tspan dy="3.3">&#8203;</tspan>)</text>
<text x="232.4" y="435.5" font-size="11.4" fill="#0a0a0a" text-anchor="middle" transform="rotate(-90 232.4 435.5)" stroke="#0a0a0a" stroke-width="0.22">Power (mW)</text>
<line x1="41.4" y1="392.4" x2="62.6" y2="392.4" stroke="#e23a44" stroke-width="0.8"/>
<rect x="50.4" y="391.2" width="2.4" height="2.4" fill="#e23a44"/>
<text x="64.4" y="395.2" font-size="8.7" fill="#e23a44" font-weight="bold" stroke="#e23a44" stroke-width="0.3">Reverse</text>
<text x="42" y="406.2" font-size="9" fill="#e23a44" stroke="#e23a44" stroke-width="0.22"><tspan font-style="italic">V</tspan><tspan font-size="70%" dy="2.1">OC</tspan><tspan dy="-2.1">&#8203;</tspan>: 2.006 V</text>
<text x="42" y="418.6" font-size="9" fill="#e23a44" stroke="#e23a44" stroke-width="0.22">FF: 81.98%</text>
<text x="42" y="430.2" font-size="9" fill="#e23a44" stroke="#e23a44" stroke-width="0.22"><tspan font-style="italic">P</tspan><tspan font-size="70%" dy="2.1">MPP</tspan><tspan dy="-2.1">&#8203;</tspan>: 33.22 mW</text>
<line x1="128" y1="432.6" x2="149.2" y2="432.6" stroke="#2a2ad8" stroke-width="0.8"/>
<rect x="136.8" y="431.4" width="2.4" height="2.4" fill="#2a2ad8"/>
<text x="151" y="435.5" font-size="8.7" fill="#2a2ad8" font-weight="bold" stroke="#2a2ad8" stroke-width="0.3">Forward</text>
<text x="128.6" y="446.7" font-size="9" fill="#2a2ad8" stroke="#2a2ad8" stroke-width="0.22"><tspan font-style="italic">V</tspan><tspan font-size="70%" dy="2.1">OC</tspan><tspan dy="-2.1">&#8203;</tspan>: 2.006 V</text>
<text x="128.6" y="459.4" font-size="9" fill="#2a2ad8" stroke="#2a2ad8" stroke-width="0.22">FF: 81.83%</text>
<text x="128.6" y="470.7" font-size="9" fill="#2a2ad8" stroke="#2a2ad8" stroke-width="0.22"><tspan font-style="italic">P</tspan><tspan font-size="70%" dy="2.1">MPP</tspan><tspan dy="-2.1">&#8203;</tspan>: 33.16 mW</text>
<text x="150" y="494.7" font-size="13" fill="#0a0a0a" font-weight="bold" stroke="#0a0a0a" stroke-width="0.3">NPVM</text>
</g>
<g id="pg">
<text x="235.5" y="371" font-size="22.5" fill="#0a0a0a" font-weight="bold">g</text>
<line x1="279.6" y1="389.64" x2="673.5" y2="389.64" stroke="#222" stroke-width="0.8" stroke-dasharray="4 2.7"/>
<line x1="279.6" y1="402.58" x2="673.5" y2="402.58" stroke="#222" stroke-width="0.8" stroke-dasharray="4 2.7"/>
<path d="M279.6 374.38 L280.31 375.18 L281.03 375.67 L281.75 374.79 L282.46 375.42 L283.18 375.45 L283.89 375.7 L284.61 375.65 L285.32 375.95 L286.04 374.65 L286.75 375.23 L287.47 375.65 L288.18 374.95 L288.9 375.19 L289.61 373.55 L290.33 375.52 L291.04 376.2 L291.76 375.68 L292.47 375.62 L293.19 376.01 L293.9 374.92 L294.62 374.26 L295.33 374.34 L296.05 374.75 L296.76 374.88 L297.48 375.64 L298.19 375.26 L298.91 374.43 L299.62 375.83 L300.34 375.59 L301.05 374.64 L301.77 375.62 L302.48 375.05 L303.19 375.14 L303.91 374.95 L304.62 374.92 L305.34 375.1 L306.06 375.03 L306.77 374.91 L307.49 374.69 L308.2 374.56 L308.92 374.81 L309.63 375.1 L310.35 375.67 L311.06 374.97 L311.77 375.31 L312.49 376.11 L313.2 375.47 L313.92 374.35 L314.63 375.26 L315.35 369.89 L316.06 374.57 L316.78 375.25 L317.5 375.13 L318.21 375.61 L318.93 375.23 L319.64 376.03 L320.35 376.38 L321.07 375.73 L321.78 374.81 L322.5 375.54 L323.21 374.89 L323.93 374.49 L324.64 375.31 L325.36 375.67 L326.07 376.3 L326.79 375.4 L327.5 374.65 L328.22 375.78 L328.93 375.75 L329.65 370.86 L330.36 374.82 L331.08 375.5 L331.79 374.61 L332.51 374.59 L333.22 375.25 L333.94 370.16 L334.65 375 L335.37 375.62 L336.08 375.29 L336.8 375.57 L337.51 375.54 L338.23 376.23 L338.94 375.2 L339.66 375.7 L340.37 375.82 L341.09 375.06 L341.8 374.81 L342.52 375.15 L343.23 374.56 L343.95 374.14 L344.66 374.62 L345.38 375.59 L346.09 375.34 L346.81 374.84 L347.52 374.64 L348.24 375.04 L348.95 374.43 L349.67 370.38 L350.38 375.33 L351.1 376.16 L351.81 375.68 L352.53 375.59 L353.24 375.55 L353.96 376.1 L354.67 376.54 L355.39 376.48 L356.1 375.16 L356.82 375.78 L357.53 376.69 L358.25 376.81 L358.97 377.46 L359.68 376.27 L360.39 377 L361.11 376.97 L361.83 377.22 L362.54 377.77 L363.26 376.76 L363.97 376.78 L364.69 371.28 L365.4 377.19 L366.12 376.91 L366.83 376.94 L367.55 372.58 L368.26 377.82 L368.98 377.69 L369.69 377.57 L370.41 377.29 L371.12 377.32 L371.84 377.51 L372.55 377.57 L373.27 376.87 L373.98 377.53 L374.7 377.14 L375.41 376.97 L376.13 377.05 L376.84 376.71 L377.56 377.03 L378.27 377.35 L378.99 377.36 L379.7 377.19 L380.42 377.15 L381.13 377.42 L381.85 377.83 L382.56 377.66 L383.28 377.25 L383.99 376.81 L384.71 376.7 L385.42 377.47 L386.14 377.71 L386.85 377.77 L387.57 377.52 L388.28 378.12 L389 376.86 L389.71 376.7 L390.43 377.33 L391.14 377.59 L391.86 377.87 L392.57 375.19 L393.29 377.26 L394 377.41 L394.72 377.07 L395.43 377.1 L396.15 378.21 L396.86 377.53 L397.58 377.79 L398.29 377.5 L399.01 372.02 L399.72 377.61 L400.44 378.29 L401.15 377.17 L401.87 377.02 L402.58 377.09 L403.3 376.79 L404.01 376.47 L404.73 377.58 L405.44 377.02 L406.16 376.42 L406.87 377.91 L407.59 378.27 L408.3 377.49 L409.02 377.82 L409.73 378.69 L410.45 378.74 L411.16 378.22 L411.88 378.28 L412.59 378.48 L413.31 378.2 L414.02 379.1 L414.74 379.58 L415.45 379.27 L416.17 378.41 L416.88 379.2 L417.6 380 L418.31 379.71 L419.03 379.81 L419.74 380.39 L420.46 379.97 L421.17 376.21 L421.89 380.52 L422.6 379.75 L423.32 379.44 L424.03 380.23 L424.75 380.08 L425.46 379.94 L426.18 379.36 L426.89 378.66 L427.61 379.59 L428.32 379.26 L429.04 379.21 L429.75 379.98 L430.47 379.93 L431.18 380.2 L431.9 379.94 L432.61 379.75 L433.33 381.34 L434.04 381.1 L434.76 380.84 L435.47 380.97 L436.19 381.02 L436.9 380.43 L437.62 381.43 L438.33 381.27 L439.05 380.8 L439.76 380.5 L440.48 380.59 L441.19 381.25 L441.91 379.76 L442.62 380.84 L443.34 380.7 L444.05 380.81 L444.77 381.2 L445.48 381.15 L446.2 380.89 L446.91 381.12 L447.63 379.92 L448.34 380.71 L449.06 380.7 L449.77 380.67 L450.49 379.87 L451.2 379.61 L451.92 380.23 L452.63 380.94 L453.35 381.15 L454.06 379.88 L454.78 380.69 L455.49 380.58 L456.21 381.06 L456.92 380.53 L457.64 381.29 L458.35 380.58 L459.07 381.37 L459.78 381.57 L460.5 381.96 L461.21 382.3 L461.93 382.32 L462.64 382.11 L463.36 382.35 L464.07 382.54 L464.79 381.92 L465.5 382.36 L466.22 382.2 L466.93 382.05 L467.65 381.84 L468.36 381.96 L469.08 382.07 L469.79 381.81 L470.51 381.62 L471.22 382.84 L471.94 383.03 L472.65 382.17 L473.37 382.9 L474.08 382.8 L474.8 383.16 L475.51 377.99 L476.23 382.28 L476.94 382.76 L477.66 381.76 L478.37 382.46 L479.09 381.94 L479.8 382 L480.52 381.76 L481.23 382.15 L481.95 381.55 L482.66 381.99 L483.38 381.68 L484.09 382.2 L484.81 382.39 L485.52 382.5 L486.24 381.93 L486.95 383.39 L487.67 383.8 L488.38 384.1 L489.1 384.53 L489.81 384.47 L490.53 384.26 L491.24 384.72 L491.96 383.52 L492.67 382.97 L493.39 383.3 L494.1 383.28 L494.82 382.6 L495.53 383.46 L496.25 383.25 L496.96 382.51 L497.68 382.54 L498.39 383.52 L499.11 383.23 L499.82 383.31 L500.54 382.8 L501.25 383.16 L501.97 383.56 L502.68 375.27 L503.4 383.41 L504.11 383.07 L504.83 383.04 L505.54 383.15 L506.26 383.47 L506.97 384.2 L507.69 384.44 L508.4 384.53 L509.12 384.53 L509.83 383.63 L510.55 383.94 L511.26 383.82 L511.98 377.05 L512.69 383.52 L513.41 383.64 L514.12 380.65 L514.84 384.17 L515.55 384.65 L516.27 383.4 L516.98 382.73 L517.7 383.95 L518.41 384.13 L519.13 384.18 L519.84 383.7 L520.56 383.59 L521.27 383.59 L521.99 383.84 L522.7 385.42 L523.42 384.85 L524.13 384.61 L524.85 376.63 L525.56 383.7 L526.28 384.49 L526.99 385.22 L527.71 385.7 L528.42 386.3 L529.14 386.68 L529.85 386.02 L530.57 385.61 L531.28 382.27 L532 386.71 L532.71 384.85 L533.43 385.73 L534.14 385.46 L534.86 384.91 L535.57 378.32 L536.29 384.62 L537 384.26 L537.72 384.77 L538.43 385.22 L539.15 385.78 L539.86 385.61 L540.58 384.53 L541.29 385.49 L542.01 385.21 L542.72 386.01 L543.44 385.88 L544.15 386.23 L544.87 385.9 L545.58 385.84 L546.3 385.45 L547.01 386.21 L547.73 386.39 L548.44 386.21 L549.16 385.35 L549.87 384.96 L550.59 386.01 L551.3 385.32 L552.02 384.77 L552.73 385.65 L553.45 379.86 L554.16 385.06 L554.88 384.59 L555.59 384.59 L556.31 384.45 L557.02 385.28 L557.74 384.4 L558.45 384.9 L559.17 385.42 L559.88 385.2 L560.6 385.26 L561.31 381.24 L562.03 386.2 L562.74 386.47 L563.46 386.74 L564.17 386.37 L564.89 386.84 L565.6 386.97 L566.32 387.11 L567.03 387.71 L567.75 388.12 L568.46 387.49 L569.18 387.67 L569.89 387.34 L570.61 387.78 L571.32 387.36 L572.04 387.66 L572.75 386.53 L573.47 387.65 L574.18 387.41 L574.9 387.09 L575.61 387.85 L576.33 388.49 L577.04 388.06 L577.76 388.19 L578.47 388.23 L579.19 388.28 L579.9 388.5 L580.62 388.33 L581.33 388.26 L582.05 388.32 L582.76 388.81 L583.48 388.3 L584.19 387.68 L584.91 386.88 L585.62 387.11 L586.34 386.43 L587.05 386.95 L587.77 386.75 L588.48 387.82 L589.2 388.19 L589.91 388.17 L590.63 388.62 L591.34 387.63 L592.06 388.76 L592.77 388.52 L593.49 388.46 L594.2 388.6 L594.92 388.9 L595.63 389.38 L596.35 385.27 L597.06 388.75 L597.78 388.75 L598.49 388.73 L599.21 389.4 L599.92 388.69 L600.64 389.3 L601.35 389.27 L602.07 390.39 L602.78 389.8 L603.5 389.03 L604.21 389.79 L604.93 389.92 L605.64 389.8 L606.36 390.71 L607.07 390.84 L607.79 390.45 L608.5 390.29 L609.22 389.87 L609.93 389.44 L610.64 389.27 L611.36 389.41 L612.08 389.58 L612.79 389.08 L613.5 388.86 L614.22 389.52 L614.93 388.33 L615.65 388.97 L616.36 380.87 L617.08 389.88 L617.79 389.34 L618.51 390.06 L619.22 388.67 L619.94 389.35 L620.65 388.99 L621.37 389.53 L622.08 389.9 L622.8 390.67 L623.51 390.69 L624.23 389.03 L624.94 389.35 L625.66 388.81 L626.37 389.26 L627.09 389.75 L627.8 389.42 L628.52 389.13 L629.23 389.78 L629.95 390.36 L630.66 390.56 L631.38 390.7 L632.09 390.56 L632.81 391.64 L633.52 390.74 L634.24 391.21 L634.95 391.49 L635.67 391.32 L636.38 391.8 L637.1 390.53 L637.81 391.69 L638.53 392.11 L639.24 393.09 L639.96 392.84 L640.67 392.89 L641.39 392.57 L642.1 392.45 L642.82 392.29 L643.53 392.34 L644.25 391.73 L644.96 392.51 L645.68 391.99 L646.39 392.44 L647.11 391.8 L647.82 392.51 L648.54 391.96 L649.25 392.22 L649.97 392.98 L650.68 393.03 L651.4 392.88 L652.11 392.5 L652.83 392.6 L653.54 391.66 L654.26 391.24 L654.97 391.24 L655.69 392.75 L656.4 392.35 L657.12 392.23 L657.83 392.34 L658.55 391.44 L659.26 392.11 L659.98 391.77 L660.69 392.6 L661.41 393.37 L662.12 393.5 L662.84 394.05 L663.55 393.37 L664.27 393.78 L664.6 401.93 L664.05 399.99 L662.84 397.92 L662.12 397.4 L661.41 397.2 L660.69 397.13 L659.98 396.31 L659.26 396.31 L658.55 395.69 L657.83 396.95 L657.12 396.76 L656.4 396.62 L655.69 396.69 L654.97 396.52 L654.26 396.22 L653.54 396.13 L652.83 396.65 L652.11 396.63 L651.4 396.83 L650.68 396.73 L649.97 396.75 L649.25 397.02 L648.54 403.2 L647.82 396.86 L647.11 396.42 L646.39 396.56 L645.68 396.58 L644.96 396.72 L644.25 396.68 L643.53 396.45 L642.82 396.58 L642.1 396.72 L641.39 396.83 L640.67 397.07 L639.96 397.35 L639.24 397.57 L638.53 396.04 L637.81 395.87 L637.1 395.94 L636.38 396.86 L635.67 395.26 L634.95 396.54 L634.24 394.94 L633.52 395.11 L632.81 395.4 L632.09 395.57 L631.38 394.81 L630.66 394.39 L629.95 394.11 L629.23 394.27 L628.52 393.81 L627.8 394.14 L627.09 393.74 L626.37 393.05 L625.66 393.63 L624.94 401.39 L624.23 394.06 L623.51 394.48 L622.8 394.47 L622.08 398.46 L621.37 394 L620.65 393.09 L619.94 393.74 L619.22 394.12 L618.51 394.21 L617.79 394.1 L617.08 394.67 L616.36 393.32 L615.65 392.91 L614.93 392.87 L614.22 393.26 L613.5 393.48 L612.79 393.21 L612.08 393.76 L611.36 393.15 L610.64 393.03 L609.93 393.21 L609.22 394.09 L608.5 394.85 L607.79 395.07 L607.07 395.28 L606.36 394.7 L605.64 394.53 L604.93 394.11 L604.21 393.91 L603.5 393.48 L602.78 393.56 L602.07 394.82 L601.35 393.83 L600.64 393.39 L599.92 393.34 L599.21 393.32 L598.49 393.05 L597.78 392.45 L597.06 392.89 L596.35 392.99 L595.63 393.41 L594.92 392.48 L594.2 392.97 L593.49 393.05 L592.77 392.42 L592.06 392.67 L591.34 392.36 L590.63 392.26 L589.91 392.72 L589.2 392.09 L588.48 392.33 L587.77 390.92 L587.05 391.06 L586.34 390.59 L585.62 391.04 L584.91 391.3 L584.19 391.57 L583.48 392.17 L582.76 393.39 L582.05 392.36 L581.33 393.82 L580.62 393.19 L579.9 392.64 L579.19 393.23 L578.47 392.3 L577.76 392.84 L577.04 392.51 L576.33 392.14 L575.61 391.8 L574.9 391.37 L574.18 391.36 L573.47 391.49 L572.75 391.17 L572.04 400.65 L571.32 392.16 L570.61 392.09 L569.89 392.92 L569.18 392.35 L568.46 391.87 L567.75 392.88 L567.03 392.2 L566.32 391.12 L565.6 390.79 L564.89 391.21 L564.17 391.04 L563.46 391.11 L562.74 390.58 L562.03 390.06 L561.31 390 L560.6 389.23 L559.88 390.48 L559.17 389.36 L558.45 389.11 L557.74 388.92 L557.02 390.11 L556.31 388.59 L555.59 388.98 L554.88 388.41 L554.16 388.88 L553.45 389.21 L552.73 390.48 L552.02 389.54 L551.3 390.07 L550.59 389.79 L549.87 389.73 L549.16 390.34 L548.44 390.33 L547.73 390.87 L547.01 391.39 L546.3 390.66 L545.58 390.61 L544.87 389.79 L544.15 390.44 L543.44 390.18 L542.72 389.61 L542.01 389.69 L541.29 389.88 L540.58 389.12 L539.86 390.36 L539.15 396.25 L538.43 389.64 L537.72 388.7 L537 388.75 L536.29 388.32 L535.57 388.5 L534.86 389.04 L534.14 389.69 L533.43 389.94 L532.71 390.35 L532 390.35 L531.28 390.7 L530.57 390.31 L529.85 389.95 L529.14 390.48 L528.42 390.81 L527.71 389.86 L526.99 389.94 L526.28 389.42 L525.56 388.73 L524.85 389.15 L524.13 388.7 L523.42 389.34 L522.7 389.8 L521.99 388.01 L521.27 387.97 L520.56 387.79 L519.84 388.62 L519.13 388.22 L518.41 388.62 L517.7 387.76 L516.98 387.6 L516.27 387.66 L515.55 388.82 L514.84 387.81 L514.12 387.92 L513.41 393.69 L512.69 387.64 L511.98 387.88 L511.26 387.95 L510.55 388.32 L509.83 388.1 L509.12 388.12 L508.4 388.72 L507.69 388.62 L506.97 388.67 L506.26 387.73 L505.54 388.18 L504.83 386.91 L504.11 386.89 L503.4 387.54 L502.68 387.01 L501.97 388.06 L501.25 387.07 L500.54 387.12 L499.82 387.17 L499.11 386.78 L498.39 387.48 L497.68 387.78 L496.96 387.75 L496.25 388.05 L495.53 387.53 L494.82 387.13 L494.1 387.76 L493.39 387.31 L492.67 387.91 L491.96 387.57 L491.24 389.31 L490.53 388.53 L489.81 388.27 L489.1 388.81 L488.38 388.15 L487.67 387.71 L486.95 387.71 L486.24 386.84 L485.52 387.22 L484.81 386.69 L484.09 386.39 L483.38 385.91 L482.66 386.58 L481.95 386.01 L481.23 386.66 L480.52 385.95 L479.8 386.8 L479.09 386.19 L478.37 386.31 L477.66 386.21 L476.94 386.66 L476.23 387.02 L475.51 387.3 L474.8 387.26 L474.08 387.4 L473.37 387 L472.65 386.4 L471.94 387.24 L471.22 386.76 L470.51 385.87 L469.79 386.14 L469.08 385.83 L468.36 386 L467.65 385.94 L466.93 386.56 L466.22 386.67 L465.5 387.32 L464.79 386.66 L464.07 386.43 L463.36 386.8 L462.64 386.45 L461.93 386.25 L461.21 386.58 L460.5 385.84 L459.78 386.27 L459.07 385.38 L458.35 391.55 L457.64 385.66 L456.92 384.96 L456.21 385.35 L455.49 385.19 L454.78 384.78 L454.06 384.81 L453.35 385.36 L452.63 388.97 L451.92 384.8 L451.2 384.57 L450.49 383.98 L449.77 385.21 L449.06 385.03 L448.34 385.04 L447.63 384.67 L446.91 385.37 L446.2 385.56 L445.48 384.96 L444.77 385.2 L444.05 386.1 L443.34 385.4 L442.62 385.4 L441.91 384.74 L441.19 385.13 L440.48 385.16 L439.76 384.79 L439.05 384.96 L438.33 385.54 L437.62 385.59 L436.9 384.67 L436.19 385.15 L435.47 385.72 L434.76 385.49 L434.04 385.42 L433.33 385.32 L432.61 383.77 L431.9 384.16 L431.18 384.46 L430.47 383.78 L429.75 384.66 L429.04 383.73 L428.32 383.57 L427.61 383.53 L426.89 383.15 L426.18 384 L425.46 384.37 L424.75 384.04 L424.03 384.22 L423.32 388.73 L422.6 384 L421.89 384.5 L421.17 384.19 L420.46 384.18 L419.74 384.81 L419.03 384.1 L418.31 384.09 L417.6 383.89 L416.88 383.09 L416.17 383.21 L415.45 383.71 L414.74 383.73 L414.02 382.92 L413.31 382.9 L412.59 382.15 L411.88 382.08 L411.16 382.32 L410.45 382.46 L409.73 382.67 L409.02 382.31 L408.3 382.02 L407.59 382.8 L406.87 385.67 L406.16 381.14 L405.44 380.82 L404.73 381.47 L404.01 381.14 L403.3 381.68 L402.58 381.44 L401.87 381.79 L401.15 381.49 L400.44 382.23 L399.72 382.66 L399.01 382.19 L398.29 382.35 L397.58 382.31 L396.86 382.29 L396.15 382.46 L395.43 381.2 L394.72 381.28 L394 381.46 L393.29 387.18 L392.57 381.94 L391.86 382.12 L391.14 381.35 L390.43 382.37 L389.71 381.76 L389 381.37 L388.28 382.66 L387.57 382.29 L386.85 381.89 L386.14 381.72 L385.42 382.07 L384.71 381.25 L383.99 380.84 L383.28 380.91 L382.56 382.04 L381.85 381.81 L381.13 381.68 L380.42 381.2 L379.7 381.62 L378.99 382.08 L378.27 381.84 L377.56 381.58 L376.84 380.52 L376.13 382.11 L375.41 381.28 L374.7 381.3 L373.98 381.56 L373.27 381.21 L372.55 381.15 L371.84 381.38 L371.12 381.32 L370.41 381.79 L369.69 381.51 L368.98 381.52 L368.26 382 L367.55 382.22 L366.83 381.52 L366.12 381.44 L365.4 382.32 L364.69 381.26 L363.97 380.59 L363.26 380.94 L362.54 381.43 L361.83 381.17 L361.11 380.88 L360.39 380.79 L359.68 380.97 L358.97 381.46 L358.25 381.42 L357.53 381.01 L356.82 384.12 L356.1 381.08 L355.39 381.1 L354.67 380.94 L353.96 379.93 L353.24 379.48 L352.53 379.84 L351.81 380.17 L351.1 380.08 L350.38 379.12 L349.67 379.56 L348.95 379.08 L348.24 379.32 L347.52 379.28 L346.81 378.87 L346.09 379.61 L345.38 379.59 L344.66 379.85 L343.95 379.84 L343.23 379.13 L342.52 379.76 L341.8 379.16 L341.09 379.04 L340.37 380.39 L339.66 379.98 L338.94 379.5 L338.23 382.18 L337.51 379.31 L336.8 379.67 L336.08 379.61 L335.37 380.34 L334.65 380.01 L333.94 380.03 L333.22 379.65 L332.51 381.88 L331.79 379.47 L331.08 379.28 L330.36 379.17 L329.65 379.39 L328.93 379.62 L328.22 379.61 L327.5 379.88 L326.79 379.75 L326.07 380.32 L325.36 379.97 L324.64 379.81 L323.93 379.19 L323.21 379.31 L322.5 379.2 L321.78 379.67 L321.07 380 L320.35 380.68 L319.64 380.26 L318.93 378.99 L318.21 379.66 L317.5 379.81 L316.78 379.49 L316.06 378.87 L315.35 379.41 L314.63 379.04 L313.92 379.43 L313.2 379.73 L312.49 380.08 L311.77 379.1 L311.06 379.67 L310.35 379.36 L309.63 379.01 L308.92 378.91 L308.2 378.91 L307.49 379.33 L306.77 379.01 L306.06 378.9 L305.34 378.93 L304.62 378.8 L303.91 379.02 L303.19 379.43 L302.48 380.21 L301.77 379.73 L301.05 379.6 L300.34 379.5 L299.62 379.99 L298.91 379.99 L298.19 379.37 L297.48 379.36 L296.76 378.85 L296.05 378.8 L295.33 378.82 L294.62 379.58 L293.9 379.79 L293.19 379.81 L292.47 379.96 L291.76 380.1 L291.04 379.73 L290.33 380.93 L289.61 379.92 L288.9 379.43 L288.18 379.02 L287.47 379.88 L286.75 380.14 L286.04 379.4 L285.32 379.96 L284.61 379.5 L283.89 379.67 L283.18 379.14 L282.46 379.91 L281.75 379.51 L281.03 379.68 L280.31 379.83 L279.6 378.94Z" fill="#ee5a68" stroke="#ee5a68" stroke-width="0.5" stroke-linejoin="round" clip-path="url(#cg)"/>
<rect x="279.6" y="369.7" width="393.9" height="136.4" fill="none" stroke="#3c3c3c" stroke-width="1"/>
<line x1="279.6" y1="506.1" x2="279.6" y2="509.2" stroke="#5a5a5a" stroke-width="0.9"/>
<text x="279.6" y="517.6" font-size="10" fill="#0a0a0a" text-anchor="middle" stroke="#0a0a0a" stroke-width="0.22">0</text>
<line x1="334.6" y1="506.1" x2="334.6" y2="509.2" stroke="#5a5a5a" stroke-width="0.9"/>
<text x="334.6" y="517.6" font-size="10" fill="#0a0a0a" text-anchor="middle" stroke="#0a0a0a" stroke-width="0.22">200</text>
<line x1="389.6" y1="506.1" x2="389.6" y2="509.2" stroke="#5a5a5a" stroke-width="0.9"/>
<text x="389.6" y="517.6" font-size="10" fill="#0a0a0a" text-anchor="middle" stroke="#0a0a0a" stroke-width="0.22">400</text>
<line x1="444.6" y1="506.1" x2="444.6" y2="509.2" stroke="#5a5a5a" stroke-width="0.9"/>
<text x="444.6" y="517.6" font-size="10" fill="#0a0a0a" text-anchor="middle" stroke="#0a0a0a" stroke-width="0.22">600</text>
<line x1="499.6" y1="506.1" x2="499.6" y2="509.2" stroke="#5a5a5a" stroke-width="0.9"/>
<text x="499.6" y="517.6" font-size="10" fill="#0a0a0a" text-anchor="middle" stroke="#0a0a0a" stroke-width="0.22">800</text>
<line x1="554.6" y1="506.1" x2="554.6" y2="509.2" stroke="#5a5a5a" stroke-width="0.9"/>
<text x="554.6" y="517.6" font-size="10" fill="#0a0a0a" text-anchor="middle" stroke="#0a0a0a" stroke-width="0.22">1000</text>
<line x1="609.6" y1="506.1" x2="609.6" y2="509.2" stroke="#5a5a5a" stroke-width="0.9"/>
<text x="609.6" y="517.6" font-size="10" fill="#0a0a0a" text-anchor="middle" stroke="#0a0a0a" stroke-width="0.22">1200</text>
<line x1="664.6" y1="506.1" x2="664.6" y2="509.2" stroke="#5a5a5a" stroke-width="0.9"/>
<text x="664.6" y="517.6" font-size="10" fill="#0a0a0a" text-anchor="middle" stroke="#0a0a0a" stroke-width="0.22">1400</text>
<line x1="307.1" y1="506.1" x2="307.1" y2="507.8" stroke="#5a5a5a" stroke-width="0.7"/>
<line x1="362.1" y1="506.1" x2="362.1" y2="507.8" stroke="#5a5a5a" stroke-width="0.7"/>
<line x1="417.1" y1="506.1" x2="417.1" y2="507.8" stroke="#5a5a5a" stroke-width="0.7"/>
<line x1="472.1" y1="506.1" x2="472.1" y2="507.8" stroke="#5a5a5a" stroke-width="0.7"/>
<line x1="527.1" y1="506.1" x2="527.1" y2="507.8" stroke="#5a5a5a" stroke-width="0.7"/>
<line x1="582.1" y1="506.1" x2="582.1" y2="507.8" stroke="#5a5a5a" stroke-width="0.7"/>
<line x1="637.1" y1="506.1" x2="637.1" y2="507.8" stroke="#5a5a5a" stroke-width="0.7"/>
<line x1="277.2" y1="506.1" x2="279.6" y2="506.1" stroke="#5a5a5a" stroke-width="0.9"/>
<text x="274.2" y="509.65" font-size="10" fill="#0a0a0a" text-anchor="end" stroke="#0a0a0a" stroke-width="0.22">0.0</text>
<line x1="277.2" y1="480.22" x2="279.6" y2="480.22" stroke="#5a5a5a" stroke-width="0.9"/>
<text x="274.2" y="483.77" font-size="10" fill="#0a0a0a" text-anchor="end" stroke="#0a0a0a" stroke-width="0.22">0.2</text>
<line x1="277.2" y1="454.34" x2="279.6" y2="454.34" stroke="#5a5a5a" stroke-width="0.9"/>
<text x="274.2" y="457.89" font-size="10" fill="#0a0a0a" text-anchor="end" stroke="#0a0a0a" stroke-width="0.22">0.4</text>
<line x1="277.2" y1="428.46" x2="279.6" y2="428.46" stroke="#5a5a5a" stroke-width="0.9"/>
<text x="274.2" y="432.01" font-size="10" fill="#0a0a0a" text-anchor="end" stroke="#0a0a0a" stroke-width="0.22">0.6</text>
<line x1="277.2" y1="402.58" x2="279.6" y2="402.58" stroke="#5a5a5a" stroke-width="0.9"/>
<text x="274.2" y="406.13" font-size="10" fill="#0a0a0a" text-anchor="end" stroke="#0a0a0a" stroke-width="0.22">0.8</text>
<line x1="277.2" y1="376.7" x2="279.6" y2="376.7" stroke="#5a5a5a" stroke-width="0.9"/>
<text x="274.2" y="380.25" font-size="10" fill="#0a0a0a" text-anchor="end" stroke="#0a0a0a" stroke-width="0.22">1.0</text>
<line x1="278.3" y1="493.16" x2="279.6" y2="493.16" stroke="#5a5a5a" stroke-width="0.7"/>
<line x1="278.3" y1="467.28" x2="279.6" y2="467.28" stroke="#5a5a5a" stroke-width="0.7"/>
<line x1="278.3" y1="441.4" x2="279.6" y2="441.4" stroke="#5a5a5a" stroke-width="0.7"/>
<line x1="278.3" y1="415.52" x2="279.6" y2="415.52" stroke="#5a5a5a" stroke-width="0.7"/>
<line x1="278.3" y1="389.64" x2="279.6" y2="389.64" stroke="#5a5a5a" stroke-width="0.7"/>
<text x="476" y="531.8" font-size="11.8" fill="#0a0a0a" text-anchor="middle" stroke="#0a0a0a" stroke-width="0.22">Time (h)</text>
<text x="255.9" y="438.5" font-size="11.7" fill="#0a0a0a" text-anchor="middle" transform="rotate(-90 255.9 438.5)" stroke="#0a0a0a" stroke-width="0.22">Normalized PCE</text>
<line x1="329.4" y1="414.2" x2="329.4" y2="396.15" stroke="#111" stroke-width="0.8"/>
<polygon points="329.4,391.6 327.5,398.1 331.3,398.1" fill="#111"/>
<text x="331.6" y="418.8" font-size="11.3" fill="#0a0a0a" stroke="#0a0a0a" stroke-width="0.22">90%</text>
<line x1="397.6" y1="427.6" x2="397.6" y2="409.15" stroke="#111" stroke-width="0.8"/>
<polygon points="397.6,404.6 395.7,411.1 399.5,411.1" fill="#111"/>
<text x="401.6" y="429.6" font-size="11.3" fill="#0a0a0a" stroke="#0a0a0a" stroke-width="0.22">80%</text>
<line x1="591.6" y1="420.2" x2="591.6" y2="400.65" stroke="#ee4a58" stroke-width="1"/>
<polygon points="591.6,392.6 588.3,404.1 594.9,404.1" fill="#ee4a58"/>
<text x="556" y="433.8" font-size="12.1" fill="#e8404e" stroke="#e8404e" stroke-width="0.22">T<tspan font-size="70%" dy="2.1">90</tspan><tspan dy="-2.1">&#8203;</tspan>= 1135 h</text>
<text x="526.5" y="478" font-size="11.7" fill="#0a0a0a" stroke="#0a0a0a" stroke-width="0.22" textLength="101" lengthAdjust="spacingAndGlyphs">operation,1-sun/65</text>
<text x="628.3" y="478" font-size="11.4" fill="#0a0a0a" stroke="#0a0a0a" stroke-width="0.22" class="se"><tspan font-size="7.5" dy="-3.3">o</tspan><tspan dy="3.3" dx="-0.3">C</tspan></text>
<g id="photo_g">
<g clip-path="url(#cpg)">
<rect x="293" y="418.7" width="69" height="80.2" fill="url(#gg1)"/>
<path d="M293 444 Q298.5 441 299.5 450 L301 500 L293 500Z" fill="#2746c6"/>
<path d="M293 484 Q306 480 320 489 L331 492 L331 500 L293 500 Z" fill="#2a48c8"/>
<path d="M362 442 Q358 443 358.4 456 L358.6 500 L362 500Z" fill="#2a48c8"/>
<path d="M293 466 Q297.6 470 297.6 479 Q296 488 293 491Z" fill="#1a2f9c"/>
<path d="M293 452 Q296 455 296 462 L293 466Z" fill="#3a5ae0"/>
<rect x="326.3" y="418.7" width="4.6" height="10" fill="#dcdcd4"/>
<rect x="326.3" y="486" width="4.8" height="13" fill="#c9c9c2"/>
<path d="M331.5 489 L358 488 L356 499 L331.5 499Z" fill="#bcc0c6"/>
<path fill-rule="evenodd" fill="#19191b" d="M299 425.2 Q296 425.4 295.8 429 L296.8 487 Q297 490 300.4 489.8 L357.5 488.8 Q360.6 488.6 360.4 485.4 L359.8 428.8 Q359.6 425.2 356.2 425 Z M312.4 439.4 Q308.4 439.4 308.4 443.4 L308.2 471.8 Q308.2 476.2 312.4 476.2 L341.8 476 Q346 476 346 471.8 L346 443.6 Q346 439.2 341.8 439.2 Z"/>
<path d="M312.4 439.4 Q308.4 439.4 308.4 443.4 L308.2 471.8 Q308.2 476.2 312.4 476.2 L341.8 476 Q346 476 346 471.8 L346 443.6 Q346 439.2 341.8 439.2 Z" fill="url(#gg2)"/>
<path d="M308.3 460 Q313 464 317 472 L318 476.2 L312.4 476.2 Q308.2 476.2 308.2 471.8Z" fill="#2c49c4"/>
<rect x="326.4" y="439.3" width="4.5" height="8.4" fill="#d6d6ce"/>
<rect x="326.6" y="469" width="4.3" height="7.2" fill="#c4c4bc"/>
<rect x="317.4" y="447.6" width="21" height="16.8" fill="#38383b"/>
<rect x="321.8" y="452" width="11.4" height="11.4" fill="#e6e6e6"/>
<rect x="323.3" y="453.4" width="8.4" height="9" fill="#23234a"/>
<line x1="326.2" y1="453.4" x2="326.2" y2="462.4" stroke="#9a9ab0" stroke-width="0.6"/>
<line x1="328.9" y1="453.4" x2="328.9" y2="462.4" stroke="#9a9ab0" stroke-width="0.6"/>
<rect x="318.4" y="464" width="16.6" height="5" fill="#c67a52"/>
</g>
</g>
</g>
</svg>
</body></html>
